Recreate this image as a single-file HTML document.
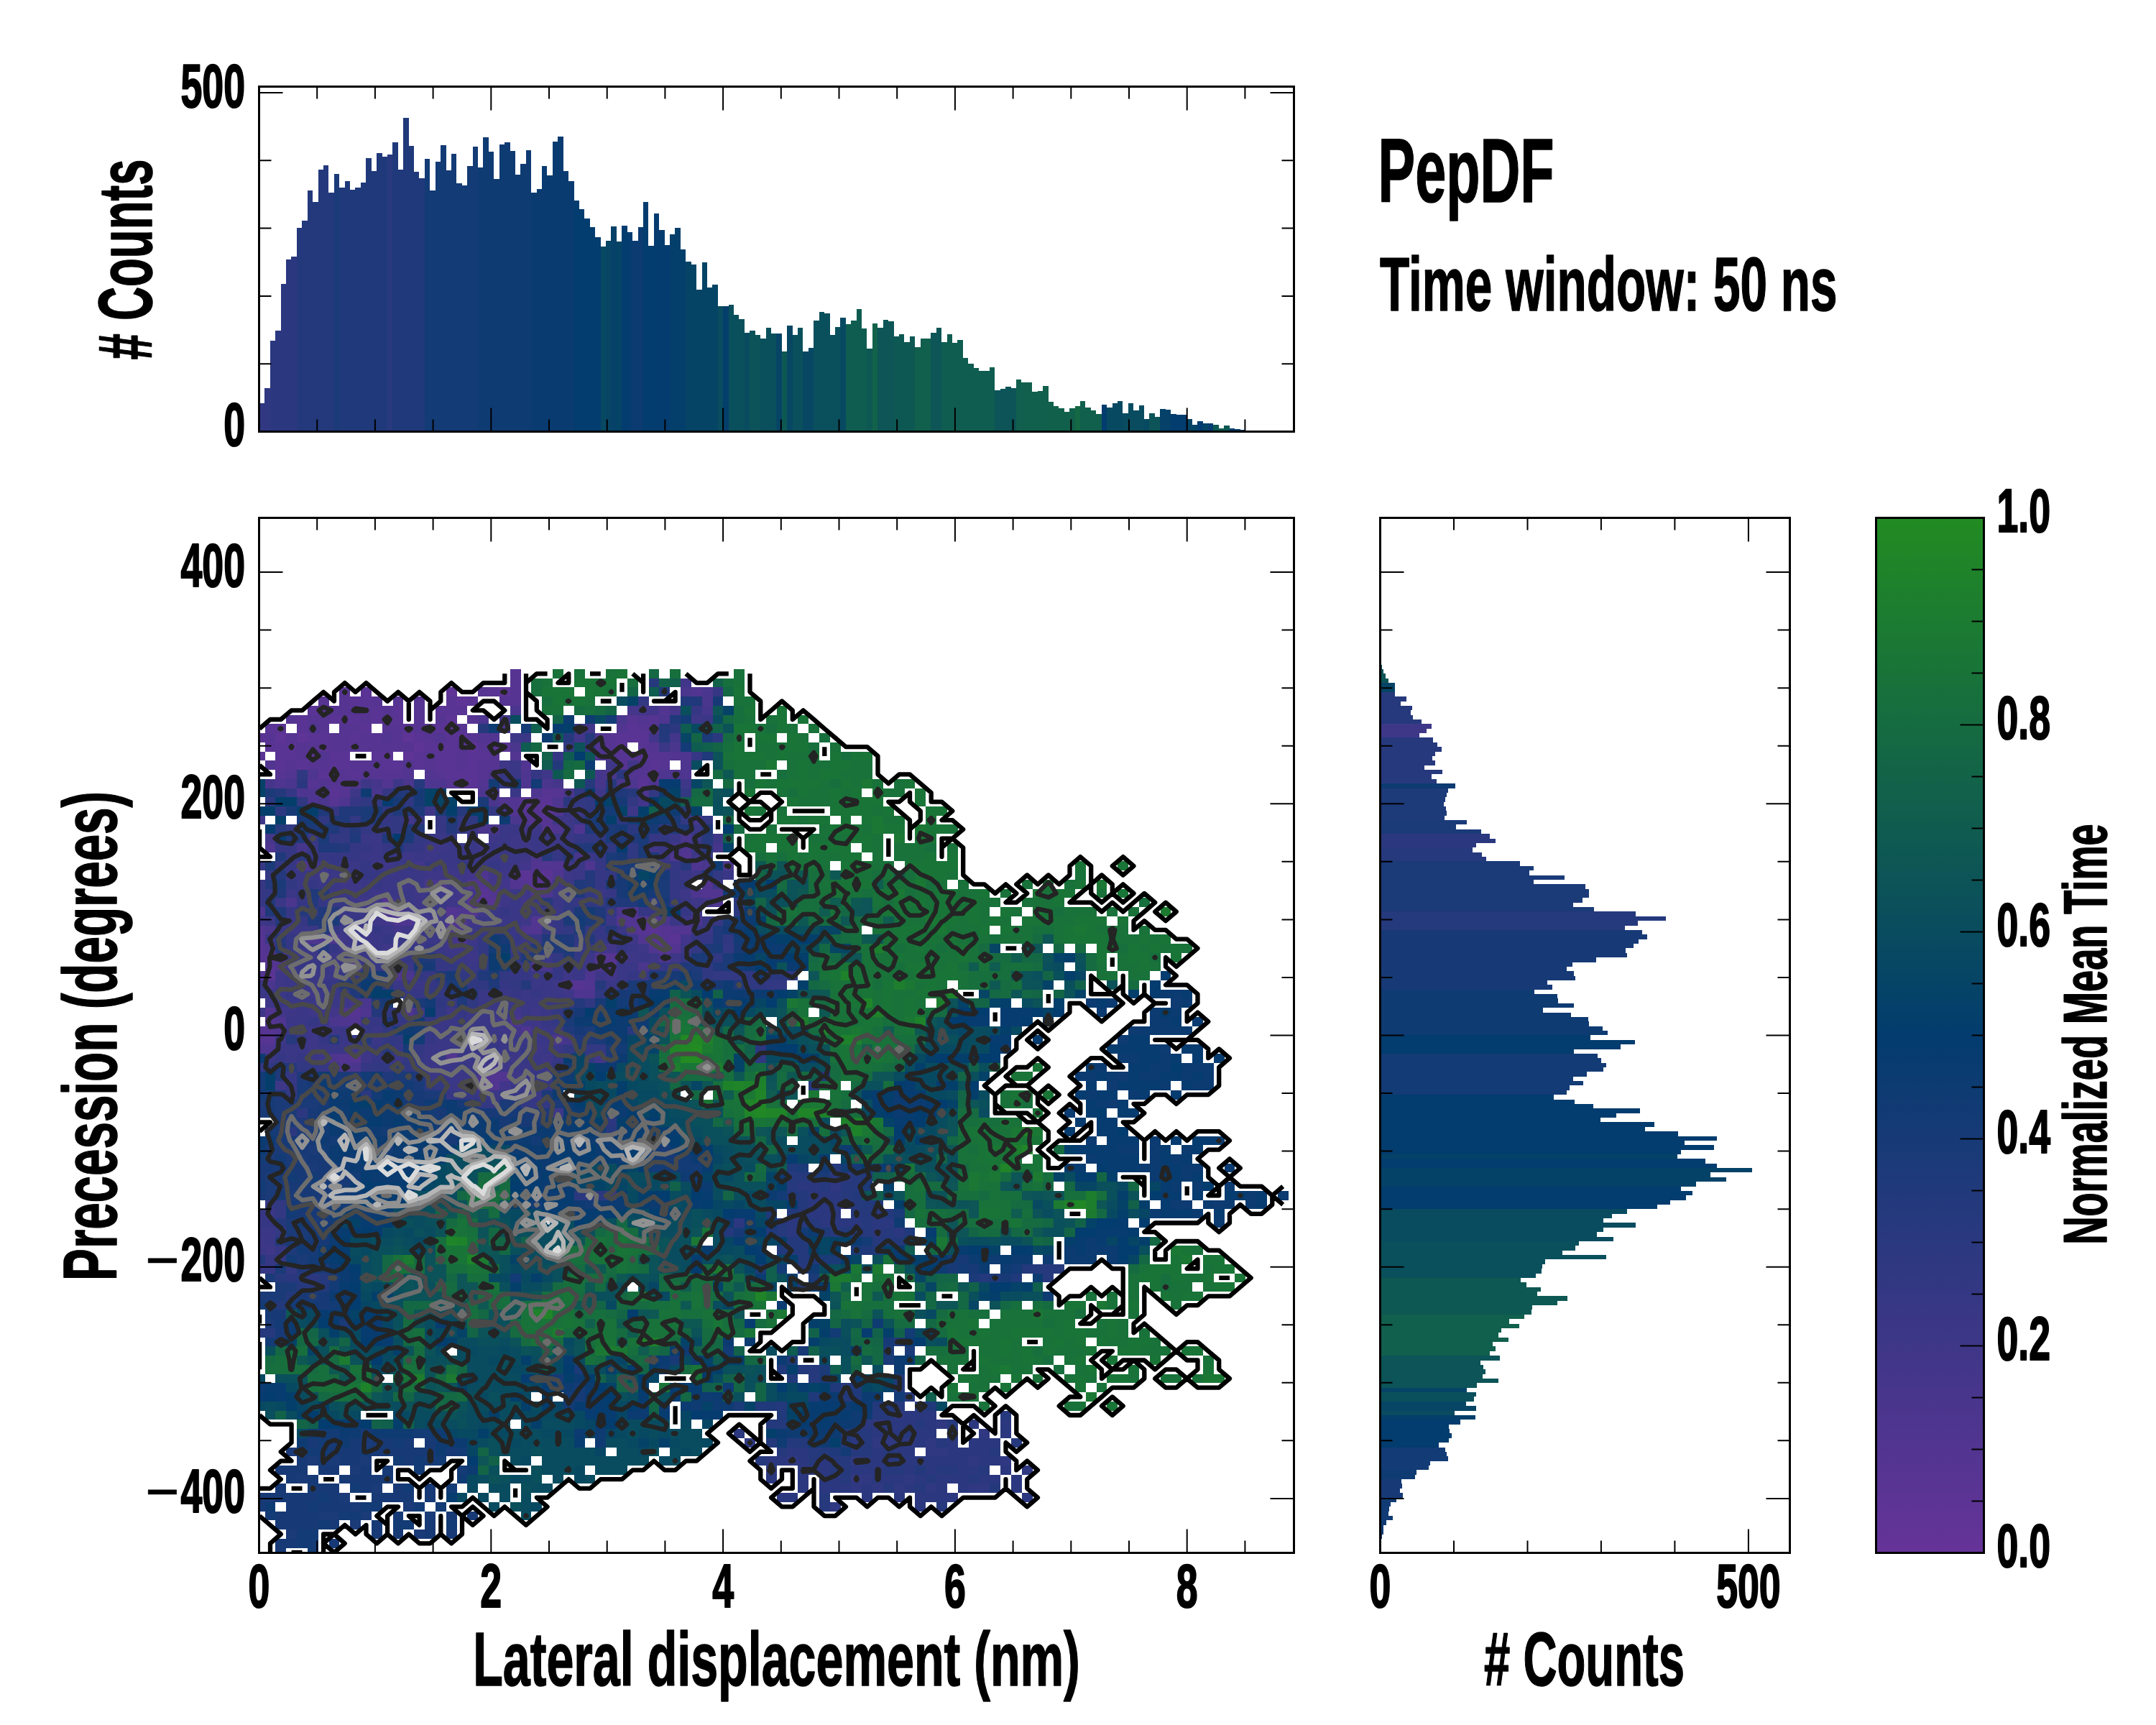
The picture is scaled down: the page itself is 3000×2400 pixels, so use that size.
<!DOCTYPE html>
<html><head><meta charset="utf-8"><title>PepDF</title>
<style>html,body{margin:0;padding:0;background:#fff}svg{display:block}text{fill:#000}</style></head><body>
<svg xmlns="http://www.w3.org/2000/svg" width="3000" height="2400" viewBox="0 0 3000 2400" font-family="Liberation Sans, Arial, sans-serif" font-weight="bold">
<rect width="3000" height="2400" fill="#fff"/>
<defs><linearGradient id="cb" x1="0" y1="1" x2="0" y2="0"><stop offset="0" stop-color="#663399"/><stop offset="0.5" stop-color="#033c6e"/><stop offset="1" stop-color="#228b22"/></linearGradient></defs>
<rect x="2610.5" y="720.5" width="150.0" height="1440.0" fill="url(#cb)"/>
<g shape-rendering="crispEdges">
<rect x="361" y="561" width="7" height="40" fill="#313882"/>
<rect x="368" y="540" width="8" height="61" fill="#313882"/>
<rect x="376" y="474" width="7" height="127" fill="#2b387f"/>
<rect x="383" y="460" width="8" height="141" fill="#2b387f"/>
<rect x="391" y="395" width="7" height="206" fill="#2b387f"/>
<rect x="398" y="361" width="7" height="240" fill="#2b387f"/>
<rect x="405" y="357" width="8" height="244" fill="#2b387f"/>
<rect x="413" y="317" width="7" height="284" fill="#23397c"/>
<rect x="420" y="307" width="8" height="294" fill="#23397c"/>
<rect x="428" y="265" width="7" height="336" fill="#23397c"/>
<rect x="435" y="281" width="8" height="320" fill="#23397c"/>
<rect x="443" y="236" width="7" height="365" fill="#23397c"/>
<rect x="450" y="230" width="7" height="371" fill="#23397c"/>
<rect x="457" y="268" width="8" height="333" fill="#23397c"/>
<rect x="465" y="242" width="7" height="359" fill="#1b3a78"/>
<rect x="472" y="261" width="8" height="340" fill="#1f397a"/>
<rect x="480" y="252" width="7" height="349" fill="#1f397a"/>
<rect x="487" y="264" width="7" height="337" fill="#1f397a"/>
<rect x="494" y="261" width="8" height="340" fill="#1f397a"/>
<rect x="502" y="254" width="7" height="347" fill="#1f397a"/>
<rect x="509" y="220" width="8" height="381" fill="#1f397a"/>
<rect x="517" y="238" width="7" height="363" fill="#1f397a"/>
<rect x="524" y="213" width="8" height="388" fill="#1f397a"/>
<rect x="532" y="218" width="7" height="383" fill="#1f397a"/>
<rect x="539" y="215" width="7" height="386" fill="#29397e"/>
<rect x="546" y="198" width="8" height="403" fill="#1f397a"/>
<rect x="554" y="236" width="7" height="365" fill="#1f397a"/>
<rect x="561" y="164" width="8" height="437" fill="#1f397a"/>
<rect x="569" y="203" width="7" height="398" fill="#1f397a"/>
<rect x="576" y="239" width="7" height="362" fill="#1f397a"/>
<rect x="583" y="248" width="8" height="353" fill="#1f397a"/>
<rect x="591" y="221" width="7" height="380" fill="#133b75"/>
<rect x="598" y="265" width="8" height="336" fill="#133b75"/>
<rect x="606" y="225" width="7" height="376" fill="#133b75"/>
<rect x="613" y="202" width="8" height="399" fill="#133b75"/>
<rect x="621" y="237" width="7" height="364" fill="#133b75"/>
<rect x="628" y="214" width="7" height="387" fill="#133b75"/>
<rect x="635" y="255" width="8" height="346" fill="#133b75"/>
<rect x="643" y="258" width="7" height="343" fill="#133b75"/>
<rect x="650" y="231" width="8" height="370" fill="#133b75"/>
<rect x="658" y="204" width="7" height="397" fill="#133b75"/>
<rect x="665" y="233" width="7" height="368" fill="#0f3b73"/>
<rect x="672" y="191" width="8" height="410" fill="#0f3b73"/>
<rect x="680" y="211" width="7" height="390" fill="#0f3b73"/>
<rect x="687" y="249" width="8" height="352" fill="#0f3b73"/>
<rect x="695" y="201" width="7" height="400" fill="#0f3b73"/>
<rect x="702" y="198" width="8" height="403" fill="#0f3b73"/>
<rect x="710" y="210" width="7" height="391" fill="#0f3b73"/>
<rect x="717" y="243" width="7" height="358" fill="#0f3b73"/>
<rect x="724" y="228" width="8" height="373" fill="#0f3b73"/>
<rect x="732" y="209" width="7" height="392" fill="#0f3b73"/>
<rect x="739" y="268" width="8" height="333" fill="#093b71"/>
<rect x="747" y="263" width="7" height="338" fill="#093b71"/>
<rect x="754" y="231" width="7" height="370" fill="#093b71"/>
<rect x="761" y="244" width="8" height="357" fill="#093b71"/>
<rect x="769" y="197" width="7" height="404" fill="#093b71"/>
<rect x="776" y="190" width="8" height="411" fill="#093b71"/>
<rect x="784" y="238" width="7" height="363" fill="#093b71"/>
<rect x="791" y="252" width="8" height="349" fill="#093b71"/>
<rect x="799" y="279" width="7" height="322" fill="#033c6e"/>
<rect x="806" y="291" width="7" height="310" fill="#033c6e"/>
<rect x="813" y="304" width="8" height="297" fill="#033c6e"/>
<rect x="821" y="316" width="7" height="285" fill="#033c6e"/>
<rect x="828" y="330" width="8" height="271" fill="#033c6e"/>
<rect x="836" y="343" width="7" height="258" fill="#084962"/>
<rect x="843" y="335" width="7" height="266" fill="#074565"/>
<rect x="850" y="315" width="8" height="286" fill="#054169"/>
<rect x="858" y="336" width="7" height="265" fill="#064466"/>
<rect x="865" y="314" width="8" height="287" fill="#033c6e"/>
<rect x="873" y="323" width="7" height="278" fill="#073c70"/>
<rect x="880" y="335" width="8" height="266" fill="#0b3b71"/>
<rect x="888" y="316" width="7" height="285" fill="#0b3b71"/>
<rect x="895" y="281" width="7" height="320" fill="#033c6e"/>
<rect x="902" y="342" width="8" height="259" fill="#033c6e"/>
<rect x="910" y="297" width="7" height="304" fill="#053c6f"/>
<rect x="917" y="320" width="8" height="281" fill="#053c6f"/>
<rect x="925" y="341" width="7" height="260" fill="#053c6f"/>
<rect x="932" y="326" width="7" height="275" fill="#043f6b"/>
<rect x="939" y="317" width="8" height="284" fill="#043f6b"/>
<rect x="947" y="347" width="7" height="254" fill="#043f6b"/>
<rect x="954" y="364" width="8" height="237" fill="#064466"/>
<rect x="962" y="368" width="7" height="233" fill="#064466"/>
<rect x="969" y="403" width="8" height="198" fill="#064466"/>
<rect x="977" y="365" width="7" height="236" fill="#064466"/>
<rect x="984" y="400" width="7" height="201" fill="#064466"/>
<rect x="991" y="396" width="8" height="205" fill="#064466"/>
<rect x="999" y="426" width="7" height="175" fill="#094c5f"/>
<rect x="1006" y="426" width="8" height="175" fill="#043f6b"/>
<rect x="1014" y="424" width="7" height="177" fill="#0a4f5c"/>
<rect x="1021" y="438" width="7" height="163" fill="#0a4f5c"/>
<rect x="1028" y="444" width="8" height="157" fill="#0a4f5c"/>
<rect x="1036" y="463" width="7" height="138" fill="#094c5f"/>
<rect x="1043" y="460" width="8" height="141" fill="#0c5259"/>
<rect x="1051" y="466" width="7" height="135" fill="#0c5259"/>
<rect x="1058" y="471" width="8" height="130" fill="#0a4f5c"/>
<rect x="1066" y="456" width="7" height="145" fill="#0a4f5c"/>
<rect x="1073" y="464" width="7" height="137" fill="#0a4f5c"/>
<rect x="1080" y="464" width="8" height="137" fill="#064466"/>
<rect x="1088" y="489" width="7" height="112" fill="#0e5853"/>
<rect x="1095" y="453" width="8" height="148" fill="#074763"/>
<rect x="1103" y="466" width="7" height="135" fill="#0a4f5c"/>
<rect x="1110" y="456" width="7" height="145" fill="#0a4f5c"/>
<rect x="1117" y="489" width="8" height="112" fill="#074763"/>
<rect x="1125" y="484" width="7" height="117" fill="#074763"/>
<rect x="1132" y="446" width="8" height="155" fill="#0a4f5c"/>
<rect x="1140" y="434" width="7" height="167" fill="#0a4f5c"/>
<rect x="1147" y="436" width="8" height="165" fill="#0a4f5c"/>
<rect x="1155" y="466" width="7" height="135" fill="#0a4f5c"/>
<rect x="1162" y="455" width="7" height="146" fill="#0a4f5c"/>
<rect x="1169" y="442" width="8" height="159" fill="#084962"/>
<rect x="1177" y="451" width="7" height="150" fill="#0f5c50"/>
<rect x="1184" y="446" width="8" height="155" fill="#0f5c50"/>
<rect x="1192" y="430" width="7" height="171" fill="#0f5c50"/>
<rect x="1199" y="457" width="7" height="144" fill="#0f5c50"/>
<rect x="1206" y="485" width="8" height="116" fill="#0e5853"/>
<rect x="1214" y="450" width="7" height="151" fill="#12624a"/>
<rect x="1221" y="456" width="8" height="145" fill="#0d5556"/>
<rect x="1229" y="445" width="7" height="156" fill="#0d5556"/>
<rect x="1236" y="447" width="8" height="154" fill="#0d5556"/>
<rect x="1244" y="468" width="7" height="133" fill="#0e5853"/>
<rect x="1251" y="465" width="7" height="136" fill="#0e5853"/>
<rect x="1258" y="476" width="8" height="125" fill="#0e5853"/>
<rect x="1266" y="468" width="7" height="133" fill="#0e5853"/>
<rect x="1273" y="483" width="8" height="118" fill="#115f4d"/>
<rect x="1281" y="471" width="7" height="130" fill="#115f4d"/>
<rect x="1288" y="471" width="7" height="130" fill="#115f4d"/>
<rect x="1295" y="463" width="8" height="138" fill="#0d5556"/>
<rect x="1303" y="456" width="7" height="145" fill="#0d5556"/>
<rect x="1310" y="476" width="8" height="125" fill="#0f5c50"/>
<rect x="1318" y="465" width="7" height="136" fill="#0f5c50"/>
<rect x="1325" y="477" width="7" height="124" fill="#0f5c50"/>
<rect x="1332" y="473" width="8" height="128" fill="#0f5c50"/>
<rect x="1340" y="498" width="7" height="103" fill="#0f5c50"/>
<rect x="1347" y="506" width="8" height="95" fill="#0f5c50"/>
<rect x="1355" y="512" width="7" height="89" fill="#0f5c50"/>
<rect x="1362" y="516" width="8" height="85" fill="#0f5c50"/>
<rect x="1370" y="516" width="7" height="85" fill="#0f5c50"/>
<rect x="1377" y="511" width="7" height="90" fill="#0f5c50"/>
<rect x="1384" y="543" width="8" height="58" fill="#0c5457"/>
<rect x="1392" y="541" width="7" height="60" fill="#0c5457"/>
<rect x="1399" y="538" width="8" height="63" fill="#0c5457"/>
<rect x="1407" y="540" width="7" height="61" fill="#0c5457"/>
<rect x="1414" y="528" width="7" height="73" fill="#115f4d"/>
<rect x="1421" y="532" width="8" height="69" fill="#115f4d"/>
<rect x="1429" y="532" width="7" height="69" fill="#115f4d"/>
<rect x="1436" y="545" width="8" height="56" fill="#115f4d"/>
<rect x="1444" y="544" width="7" height="57" fill="#115f4d"/>
<rect x="1451" y="537" width="8" height="64" fill="#115f4d"/>
<rect x="1459" y="559" width="7" height="42" fill="#11604b"/>
<rect x="1466" y="565" width="7" height="36" fill="#11604b"/>
<rect x="1473" y="568" width="8" height="33" fill="#11604b"/>
<rect x="1481" y="573" width="7" height="28" fill="#11604b"/>
<rect x="1488" y="568" width="8" height="33" fill="#11604b"/>
<rect x="1496" y="565" width="7" height="36" fill="#146843"/>
<rect x="1503" y="558" width="7" height="43" fill="#115f4d"/>
<rect x="1510" y="567" width="8" height="34" fill="#115f4d"/>
<rect x="1518" y="571" width="7" height="30" fill="#115f4d"/>
<rect x="1525" y="576" width="8" height="25" fill="#115f4d"/>
<rect x="1533" y="563" width="7" height="38" fill="#033c6e"/>
<rect x="1540" y="567" width="8" height="34" fill="#084962"/>
<rect x="1548" y="561" width="7" height="40" fill="#084962"/>
<rect x="1555" y="558" width="7" height="43" fill="#084962"/>
<rect x="1562" y="575" width="8" height="26" fill="#094c5f"/>
<rect x="1570" y="561" width="7" height="40" fill="#094c5f"/>
<rect x="1577" y="571" width="8" height="30" fill="#094c5f"/>
<rect x="1585" y="564" width="7" height="37" fill="#094c5f"/>
<rect x="1592" y="583" width="7" height="18" fill="#084962"/>
<rect x="1599" y="575" width="8" height="26" fill="#0c5457"/>
<rect x="1607" y="580" width="7" height="21" fill="#0c5457"/>
<rect x="1614" y="569" width="8" height="32" fill="#054169"/>
<rect x="1622" y="570" width="7" height="31" fill="#054169"/>
<rect x="1629" y="576" width="8" height="25" fill="#033c6e"/>
<rect x="1637" y="577" width="7" height="24" fill="#033c6e"/>
<rect x="1644" y="577" width="7" height="24" fill="#033c6e"/>
<rect x="1651" y="583" width="8" height="18" fill="#064466"/>
<rect x="1659" y="591" width="7" height="10" fill="#064466"/>
<rect x="1666" y="586" width="8" height="15" fill="#033c6e"/>
<rect x="1674" y="589" width="7" height="12" fill="#064466"/>
<rect x="1681" y="589" width="7" height="12" fill="#073c70"/>
<rect x="1688" y="591" width="8" height="10" fill="#0e5853"/>
<rect x="1696" y="596" width="7" height="5" fill="#0f5c50"/>
<rect x="1703" y="592" width="8" height="9" fill="#0e5853"/>
<rect x="1711" y="596" width="7" height="5" fill="#033c6e"/>
<rect x="1718" y="597" width="8" height="4" fill="#033c6e"/>
<rect x="1726" y="598" width="7" height="3" fill="#033c6e"/>
</g>
<g shape-rendering="crispEdges">
<rect x="1921" y="925" width="2" height="6" fill="#0c5457"/>
<rect x="1921" y="931" width="4" height="6" fill="#0c5457"/>
<rect x="1921" y="937" width="7" height="7" fill="#0c5457"/>
<rect x="1921" y="944" width="11" height="6" fill="#0c5457"/>
<rect x="1921" y="950" width="20" height="6" fill="#064466"/>
<rect x="1921" y="956" width="20" height="7" fill="#064466"/>
<rect x="1921" y="963" width="20" height="6" fill="#27397d"/>
<rect x="1921" y="969" width="36" height="7" fill="#27397d"/>
<rect x="1921" y="976" width="28" height="6" fill="#27397d"/>
<rect x="1921" y="982" width="44" height="6" fill="#27397d"/>
<rect x="1921" y="988" width="42" height="7" fill="#27397d"/>
<rect x="1921" y="995" width="45" height="6" fill="#27397d"/>
<rect x="1921" y="1001" width="57" height="6" fill="#27397d"/>
<rect x="1921" y="1007" width="71" height="7" fill="#3e3788"/>
<rect x="1921" y="1014" width="64" height="6" fill="#3e3788"/>
<rect x="1921" y="1020" width="54" height="6" fill="#3e3788"/>
<rect x="1921" y="1026" width="73" height="7" fill="#27397d"/>
<rect x="1921" y="1033" width="79" height="6" fill="#27397d"/>
<rect x="1921" y="1039" width="85" height="7" fill="#27397d"/>
<rect x="1921" y="1046" width="76" height="6" fill="#27397d"/>
<rect x="1921" y="1052" width="72" height="6" fill="#27397d"/>
<rect x="1921" y="1058" width="76" height="7" fill="#27397d"/>
<rect x="1921" y="1065" width="61" height="6" fill="#27397d"/>
<rect x="1921" y="1071" width="86" height="6" fill="#27397d"/>
<rect x="1921" y="1077" width="71" height="7" fill="#27397d"/>
<rect x="1921" y="1084" width="78" height="6" fill="#27397d"/>
<rect x="1921" y="1090" width="104" height="7" fill="#0d3b72"/>
<rect x="1921" y="1097" width="94" height="6" fill="#1d3a79"/>
<rect x="1921" y="1103" width="92" height="6" fill="#1d3a79"/>
<rect x="1921" y="1109" width="90" height="7" fill="#1d3a79"/>
<rect x="1921" y="1116" width="88" height="6" fill="#1d3a79"/>
<rect x="1921" y="1122" width="91" height="6" fill="#1d3a79"/>
<rect x="1921" y="1128" width="92" height="7" fill="#1d3a79"/>
<rect x="1921" y="1135" width="89" height="6" fill="#1d3a79"/>
<rect x="1921" y="1141" width="120" height="6" fill="#1b3a78"/>
<rect x="1921" y="1147" width="105" height="7" fill="#1b3a78"/>
<rect x="1921" y="1154" width="140" height="6" fill="#1b3a78"/>
<rect x="1921" y="1160" width="152" height="7" fill="#2b387f"/>
<rect x="1921" y="1167" width="160" height="6" fill="#2b387f"/>
<rect x="1921" y="1173" width="133" height="6" fill="#2b387f"/>
<rect x="1921" y="1179" width="128" height="7" fill="#27397d"/>
<rect x="1921" y="1186" width="141" height="6" fill="#27397d"/>
<rect x="1921" y="1192" width="147" height="6" fill="#27397d"/>
<rect x="1921" y="1198" width="194" height="7" fill="#1b3a78"/>
<rect x="1921" y="1205" width="213" height="6" fill="#1b3a78"/>
<rect x="1921" y="1211" width="207" height="7" fill="#1b3a78"/>
<rect x="1921" y="1218" width="256" height="6" fill="#1b3a78"/>
<rect x="1921" y="1224" width="213" height="6" fill="#1b3a78"/>
<rect x="1921" y="1230" width="285" height="7" fill="#1b3a78"/>
<rect x="1921" y="1237" width="290" height="6" fill="#1b3a78"/>
<rect x="1921" y="1243" width="290" height="6" fill="#1b3a78"/>
<rect x="1921" y="1249" width="281" height="7" fill="#1b3a78"/>
<rect x="1921" y="1256" width="268" height="6" fill="#1b3a78"/>
<rect x="1921" y="1262" width="297" height="6" fill="#1b3a78"/>
<rect x="1921" y="1268" width="355" height="7" fill="#25397d"/>
<rect x="1921" y="1275" width="397" height="6" fill="#25397d"/>
<rect x="1921" y="1281" width="358" height="7" fill="#25397d"/>
<rect x="1921" y="1288" width="340" height="6" fill="#25397d"/>
<rect x="1921" y="1294" width="364" height="6" fill="#173a77"/>
<rect x="1921" y="1300" width="371" height="7" fill="#173a77"/>
<rect x="1921" y="1307" width="359" height="6" fill="#173a77"/>
<rect x="1921" y="1313" width="352" height="6" fill="#173a77"/>
<rect x="1921" y="1319" width="341" height="7" fill="#173a77"/>
<rect x="1921" y="1326" width="343" height="6" fill="#173a77"/>
<rect x="1921" y="1332" width="300" height="7" fill="#173a77"/>
<rect x="1921" y="1339" width="267" height="6" fill="#173a77"/>
<rect x="1921" y="1345" width="259" height="6" fill="#173a77"/>
<rect x="1921" y="1351" width="269" height="7" fill="#173a77"/>
<rect x="1921" y="1358" width="271" height="6" fill="#173a77"/>
<rect x="1921" y="1364" width="232" height="6" fill="#173a77"/>
<rect x="1921" y="1370" width="239" height="7" fill="#173a77"/>
<rect x="1921" y="1377" width="214" height="6" fill="#0f3b73"/>
<rect x="1921" y="1383" width="246" height="6" fill="#0f3b73"/>
<rect x="1921" y="1389" width="247" height="7" fill="#0f3b73"/>
<rect x="1921" y="1396" width="269" height="6" fill="#0f3b73"/>
<rect x="1921" y="1402" width="226" height="7" fill="#0f3b73"/>
<rect x="1921" y="1409" width="265" height="6" fill="#0f3b73"/>
<rect x="1921" y="1415" width="289" height="6" fill="#0f3b73"/>
<rect x="1921" y="1421" width="290" height="7" fill="#0f3b73"/>
<rect x="1921" y="1428" width="309" height="6" fill="#0f3b73"/>
<rect x="1921" y="1434" width="316" height="6" fill="#0f3b73"/>
<rect x="1921" y="1440" width="292" height="7" fill="#033c6e"/>
<rect x="1921" y="1447" width="354" height="6" fill="#033c6e"/>
<rect x="1921" y="1453" width="334" height="7" fill="#033c6e"/>
<rect x="1921" y="1460" width="269" height="6" fill="#033c6e"/>
<rect x="1921" y="1466" width="302" height="6" fill="#133b75"/>
<rect x="1921" y="1472" width="307" height="7" fill="#133b75"/>
<rect x="1921" y="1479" width="314" height="6" fill="#133b75"/>
<rect x="1921" y="1485" width="310" height="6" fill="#133b75"/>
<rect x="1921" y="1491" width="287" height="7" fill="#133b75"/>
<rect x="1921" y="1498" width="268" height="6" fill="#133b75"/>
<rect x="1921" y="1504" width="282" height="6" fill="#133b75"/>
<rect x="1921" y="1510" width="263" height="7" fill="#133b75"/>
<rect x="1921" y="1517" width="259" height="6" fill="#133b75"/>
<rect x="1921" y="1523" width="241" height="7" fill="#033c6e"/>
<rect x="1921" y="1530" width="270" height="6" fill="#033c6e"/>
<rect x="1921" y="1536" width="296" height="6" fill="#033c6e"/>
<rect x="1921" y="1542" width="361" height="7" fill="#033c6e"/>
<rect x="1921" y="1549" width="328" height="6" fill="#033c6e"/>
<rect x="1921" y="1555" width="306" height="6" fill="#033c6e"/>
<rect x="1921" y="1561" width="381" height="7" fill="#033c6e"/>
<rect x="1921" y="1568" width="368" height="6" fill="#033c6e"/>
<rect x="1921" y="1574" width="414" height="7" fill="#033c6e"/>
<rect x="1921" y="1581" width="468" height="6" fill="#033c6e"/>
<rect x="1921" y="1587" width="423" height="6" fill="#033c6e"/>
<rect x="1921" y="1593" width="464" height="7" fill="#033c6e"/>
<rect x="1921" y="1600" width="418" height="6" fill="#033c6e"/>
<rect x="1921" y="1606" width="413" height="6" fill="#054268"/>
<rect x="1921" y="1612" width="452" height="7" fill="#033c6e"/>
<rect x="1921" y="1619" width="468" height="6" fill="#033c6e"/>
<rect x="1921" y="1625" width="517" height="6" fill="#054268"/>
<rect x="1921" y="1631" width="459" height="7" fill="#054268"/>
<rect x="1921" y="1638" width="481" height="6" fill="#054268"/>
<rect x="1921" y="1644" width="439" height="7" fill="#054268"/>
<rect x="1921" y="1651" width="418" height="6" fill="#033c6e"/>
<rect x="1921" y="1657" width="434" height="6" fill="#033c6e"/>
<rect x="1921" y="1663" width="425" height="7" fill="#033c6e"/>
<rect x="1921" y="1670" width="403" height="6" fill="#033c6e"/>
<rect x="1921" y="1676" width="385" height="6" fill="#033c6e"/>
<rect x="1921" y="1682" width="343" height="7" fill="#094c5f"/>
<rect x="1921" y="1689" width="322" height="6" fill="#094c5f"/>
<rect x="1921" y="1695" width="310" height="6" fill="#094c5f"/>
<rect x="1921" y="1701" width="355" height="7" fill="#094c5f"/>
<rect x="1921" y="1708" width="310" height="6" fill="#094c5f"/>
<rect x="1921" y="1714" width="301" height="7" fill="#094c5f"/>
<rect x="1921" y="1721" width="324" height="6" fill="#094c5f"/>
<rect x="1921" y="1727" width="276" height="6" fill="#0a4f5c"/>
<rect x="1921" y="1733" width="271" height="7" fill="#0a4f5c"/>
<rect x="1921" y="1740" width="253" height="6" fill="#0a4f5c"/>
<rect x="1921" y="1746" width="314" height="6" fill="#0a4f5c"/>
<rect x="1921" y="1752" width="229" height="7" fill="#0a4f5c"/>
<rect x="1921" y="1759" width="225" height="6" fill="#0a4f5c"/>
<rect x="1921" y="1765" width="224" height="7" fill="#0a4f5c"/>
<rect x="1921" y="1772" width="216" height="6" fill="#0a4f5c"/>
<rect x="1921" y="1778" width="195" height="6" fill="#0e5853"/>
<rect x="1921" y="1784" width="203" height="7" fill="#0e5853"/>
<rect x="1921" y="1791" width="223" height="6" fill="#0e5853"/>
<rect x="1921" y="1797" width="218" height="6" fill="#0e5853"/>
<rect x="1921" y="1803" width="260" height="7" fill="#0e5853"/>
<rect x="1921" y="1810" width="246" height="6" fill="#0e5853"/>
<rect x="1921" y="1816" width="211" height="6" fill="#0e5853"/>
<rect x="1921" y="1822" width="210" height="7" fill="#0e5853"/>
<rect x="1921" y="1829" width="200" height="6" fill="#115f4d"/>
<rect x="1921" y="1835" width="179" height="7" fill="#115f4d"/>
<rect x="1921" y="1842" width="193" height="6" fill="#115f4d"/>
<rect x="1921" y="1848" width="168" height="6" fill="#115f4d"/>
<rect x="1921" y="1854" width="164" height="7" fill="#115f4d"/>
<rect x="1921" y="1861" width="178" height="6" fill="#115f4d"/>
<rect x="1921" y="1867" width="156" height="6" fill="#115f4d"/>
<rect x="1921" y="1873" width="160" height="7" fill="#115f4d"/>
<rect x="1921" y="1880" width="152" height="6" fill="#115f4d"/>
<rect x="1921" y="1886" width="166" height="7" fill="#0c5457"/>
<rect x="1921" y="1893" width="139" height="6" fill="#0c5457"/>
<rect x="1921" y="1899" width="143" height="6" fill="#0c5457"/>
<rect x="1921" y="1905" width="146" height="7" fill="#0c5457"/>
<rect x="1921" y="1912" width="142" height="6" fill="#0c5457"/>
<rect x="1921" y="1918" width="164" height="6" fill="#0c5457"/>
<rect x="1921" y="1924" width="134" height="7" fill="#0c5457"/>
<rect x="1921" y="1931" width="120" height="6" fill="#064466"/>
<rect x="1921" y="1937" width="133" height="6" fill="#0a4f5c"/>
<rect x="1921" y="1943" width="130" height="7" fill="#0a4f5c"/>
<rect x="1921" y="1950" width="119" height="6" fill="#074565"/>
<rect x="1921" y="1956" width="133" height="7" fill="#074565"/>
<rect x="1921" y="1963" width="103" height="6" fill="#094c5f"/>
<rect x="1921" y="1969" width="132" height="6" fill="#043f6b"/>
<rect x="1921" y="1975" width="111" height="7" fill="#033c6e"/>
<rect x="1921" y="1982" width="95" height="6" fill="#033c6e"/>
<rect x="1921" y="1988" width="96" height="6" fill="#033c6e"/>
<rect x="1921" y="1994" width="99" height="7" fill="#033c6e"/>
<rect x="1921" y="2001" width="95" height="6" fill="#033c6e"/>
<rect x="1921" y="2007" width="81" height="7" fill="#033c6e"/>
<rect x="1921" y="2014" width="90" height="6" fill="#133b75"/>
<rect x="1921" y="2020" width="92" height="6" fill="#133b75"/>
<rect x="1921" y="2026" width="94" height="7" fill="#133b75"/>
<rect x="1921" y="2033" width="69" height="6" fill="#133b75"/>
<rect x="1921" y="2039" width="67" height="6" fill="#133b75"/>
<rect x="1921" y="2045" width="50" height="7" fill="#0d3b72"/>
<rect x="1921" y="2052" width="48" height="6" fill="#0d3b72"/>
<rect x="1921" y="2058" width="29" height="6" fill="#173a77"/>
<rect x="1921" y="2064" width="30" height="7" fill="#173a77"/>
<rect x="1921" y="2071" width="27" height="6" fill="#173a77"/>
<rect x="1921" y="2077" width="31" height="7" fill="#173a77"/>
<rect x="1921" y="2084" width="22" height="6" fill="#113b74"/>
<rect x="1921" y="2090" width="14" height="6" fill="#113b74"/>
<rect x="1921" y="2096" width="12" height="7" fill="#113b74"/>
<rect x="1921" y="2103" width="11" height="6" fill="#113b74"/>
<rect x="1921" y="2109" width="17" height="6" fill="#113b74"/>
<rect x="1921" y="2115" width="8" height="7" fill="#113b74"/>
<rect x="1921" y="2122" width="4" height="6" fill="#113b74"/>
<rect x="1921" y="2128" width="4" height="7" fill="#113b74"/>
<rect x="1921" y="2135" width="2" height="6" fill="#113b74"/>
</g>
<defs><clipPath id="axclip"><rect x="360.5" y="720.5" width="1440" height="1440"/></clipPath></defs>
<g shape-rendering="crispEdges">
<path fill="#563492" d="M710 931h15v13h-15zM710 944h15v12h-15zM472 956h15v13h-15zM665 956h15v13h-15zM710 956h15v13h-15zM443 969h15v13h-15zM472 969h15v13h-15zM517 969h15v13h-15zM547 969h14v13h-14zM576 969h15v13h-15zM695 969h30v13h-30zM443 982h74v13h-74zM532 982h15v13h-15zM576 982h15v13h-15zM398 995h15v12h-15zM428 995h30v12h-30zM502 995h15v12h-15zM532 995h15v12h-15zM576 995h15v12h-15zM606 995h15v12h-15zM650 995h15v12h-15zM873 995h15v12h-15zM903 995h14v12h-14zM443 1007h15v13h-15zM472 1007h30v13h-30zM532 1007h29v13h-29zM576 1007h30v13h-30zM636 1007h14v13h-14zM888 1007h15v13h-15zM369 1020h14v13h-14zM398 1020h15v13h-15zM458 1020h29v13h-29zM502 1020h30v13h-30zM547 1020h14v13h-14zM591 1020h15v13h-15zM650 1020h15v13h-15zM843 1020h15v13h-15zM413 1033h30v13h-30zM458 1033h118v13h-118zM636 1033h14v13h-14zM665 1033h15v13h-15zM843 1033h15v13h-15zM888 1033h15v13h-15zM413 1046h15v12h-15zM591 1046h15v12h-15zM636 1046h14v12h-14zM680 1046h15v12h-15zM858 1046h74v12h-74zM398 1058h15v13h-15zM428 1058h30v13h-30zM487 1058h45v13h-45zM591 1058h15v13h-15zM636 1058h14v13h-14zM665 1058h30v13h-30zM858 1058h15v13h-15zM917 1058h15v13h-15zM383 1071h15v13h-15zM472 1071h15v13h-15zM502 1071h59v13h-59zM606 1071h15v13h-15zM665 1071h15v13h-15zM888 1071h15v13h-15zM428 1084h15v13h-15zM458 1084h29v13h-29zM621 1084h29v13h-29zM472 1097h15v12h-15zM754 1097h30v12h-30zM458 1109h14v13h-14zM739 1109h15v13h-15zM725 1122h29v13h-29zM739 1135h30v12h-30zM754 1147h15v13h-15zM739 1211h15v13h-15zM725 1224h14v13h-14zM754 1224h15v13h-15zM650 1249h45v13h-45zM888 1275h15v13h-15zM888 1288h15v12h-15zM917 1288h15v12h-15zM360 1300h9v13h-9zM903 1300h29v13h-29zM360 1313h9v13h-9zM360 1326h23v13h-23zM843 1326h15v13h-15zM369 1339h14v12h-14zM799 1364h15v13h-15zM487 1402h15v13h-15zM369 1415h14v13h-14zM360 1428h23v12h-23zM360 1440h23v13h-23zM487 1466h15v13h-15z"/>
<path fill="#18723a" d="M769 931h15v13h-15zM799 931h15v13h-15zM843 931h15v13h-15zM1021 931h15v13h-15zM754 944h15v12h-15zM828 944h15v12h-15zM1021 944h15v12h-15zM843 956h15v13h-15zM784 969h15v13h-15zM814 969h14v13h-14zM1021 969h30v13h-30zM754 982h30v13h-30zM1036 995h15v12h-15zM1066 995h15v12h-15zM1051 1007h15v13h-15zM1095 1007h15v13h-15zM1125 1007h15v13h-15zM1021 1020h15v13h-15zM1110 1020h15v13h-15zM1051 1033h44v13h-44zM1155 1033h15v13h-15zM1006 1046h15v12h-15zM1066 1046h15v12h-15zM1095 1046h30v12h-30zM1021 1058h45v13h-45zM1095 1058h15v13h-15zM1125 1058h30v13h-30zM1184 1058h30v13h-30zM1021 1071h30v13h-30zM1095 1071h15v13h-15zM1125 1071h15v13h-15zM1170 1071h44v13h-44zM1066 1084h15v13h-15zM1140 1084h15v13h-15zM1184 1084h15v13h-15zM1214 1084h15v13h-15zM1244 1084h15v13h-15zM1081 1097h14v12h-14zM1125 1097h30v12h-30zM1170 1097h14v12h-14zM1229 1097h30v12h-30zM1110 1109h45v13h-45zM1051 1122h15v13h-15zM1081 1122h14v13h-14zM1214 1122h15v13h-15zM1110 1135h15v12h-15zM1229 1135h30v12h-30zM1066 1147h15v13h-15zM1140 1147h15v13h-15zM1199 1147h15v13h-15zM1318 1147h15v13h-15zM1036 1160h15v13h-15zM1125 1160h59v13h-59zM1214 1160h15v13h-15zM1214 1173h15v13h-15zM1244 1173h44v13h-44zM1318 1173h15v13h-15zM1066 1186h15v12h-15zM1110 1186h15v12h-15zM1140 1186h30v12h-30zM1214 1186h15v12h-15zM1244 1186h44v12h-44zM1095 1198h60v13h-60zM1214 1198h30v13h-30zM1170 1211h44v13h-44zM1229 1211h15v13h-15zM1318 1211h15v13h-15zM1496 1211h15v13h-15zM1140 1224h30v13h-30zM1244 1224h29v13h-29zM1303 1224h15v13h-15zM1333 1224h15v13h-15zM1422 1224h15v13h-15zM1481 1224h15v13h-15zM1140 1237h15v12h-15zM1170 1237h29v12h-29zM1214 1237h15v12h-15zM1273 1237h30v12h-30zM1333 1237h29v12h-29zM1392 1237h15v12h-15zM1451 1237h15v12h-15zM1526 1237h14v12h-14zM1214 1249h15v13h-15zM1288 1249h15v13h-15zM1333 1249h15v13h-15zM1362 1249h30v13h-30zM1422 1249h44v13h-44zM1095 1262h15v13h-15zM1155 1262h15v13h-15zM1259 1262h14v13h-14zM1288 1262h15v13h-15zM1318 1262h15v13h-15zM1362 1262h15v13h-15zM1407 1262h15v13h-15zM1451 1262h15v13h-15zM1481 1262h45v13h-45zM1540 1262h15v13h-15zM1570 1262h15v13h-15zM1259 1275h29v13h-29zM1333 1275h15v13h-15zM1362 1275h15v13h-15zM1392 1275h15v13h-15zM1451 1275h45v13h-45zM1214 1288h30v12h-30zM1288 1288h15v12h-15zM1318 1288h44v12h-44zM1407 1288h30v12h-30zM1466 1288h15v12h-15zM1526 1288h44v12h-44zM1585 1288h15v12h-15zM1229 1300h15v13h-15zM1259 1300h29v13h-29zM1303 1300h15v13h-15zM1333 1300h15v13h-15zM1362 1300h15v13h-15zM1392 1300h45v13h-45zM1466 1300h15v13h-15zM1540 1300h45v13h-45zM1600 1300h15v13h-15zM1199 1313h15v13h-15zM1259 1313h14v13h-14zM1288 1313h15v13h-15zM1318 1313h15v13h-15zM1348 1313h14v13h-14zM1585 1313h15v13h-15zM1615 1313h14v13h-14zM1644 1313h15v13h-15zM1199 1326h45v13h-45zM1259 1326h74v13h-74zM1348 1326h29v13h-29zM1555 1326h15v13h-15zM1155 1339h15v12h-15zM1184 1339h60v12h-60zM1303 1339h15v12h-15zM1362 1339h15v12h-15zM1526 1339h14v12h-14zM1555 1339h30v12h-30zM1600 1339h15v12h-15zM1140 1351h15v13h-15zM1199 1351h45v13h-45zM1259 1351h14v13h-14zM1288 1351h15v13h-15zM1333 1351h15v13h-15zM1526 1351h29v13h-29zM1570 1351h30v13h-30zM1155 1364h44v13h-44zM1273 1364h15v13h-15zM1303 1364h15v13h-15zM1333 1364h15v13h-15zM1155 1377h15v12h-15zM1184 1377h15v12h-15zM1214 1377h15v12h-15zM1244 1377h29v12h-29zM1303 1377h15v12h-15zM1110 1389h15v13h-15zM1214 1389h15v13h-15zM1244 1389h15v13h-15zM1273 1389h15v13h-15zM1110 1402h15v13h-15zM1155 1402h44v13h-44zM1244 1402h15v13h-15zM932 1415h30v13h-30zM1140 1415h15v13h-15zM1170 1415h29v13h-29zM1244 1415h15v13h-15zM932 1428h15v12h-15zM962 1428h15v12h-15zM1244 1428h15v12h-15zM932 1440h15v13h-15zM1051 1440h15v13h-15zM1199 1440h45v13h-45zM1155 1453h15v13h-15zM1184 1453h15v13h-15zM1214 1453h45v13h-45zM977 1466h15v13h-15zM1155 1466h15v13h-15zM1229 1466h15v13h-15zM977 1479h15v12h-15zM1184 1479h30v12h-30zM1170 1491h29v13h-29zM1155 1504h15v13h-15zM992 1517h14v13h-14zM1155 1517h15v13h-15zM1392 1517h15v13h-15zM1006 1530h30v12h-30zM1066 1530h15v12h-15zM1155 1530h15v12h-15zM1392 1530h15v12h-15zM1021 1542h15v13h-15zM1066 1555h44v13h-44zM1125 1555h15v13h-15zM1362 1555h15v13h-15zM1407 1555h15v13h-15zM1214 1568h15v13h-15zM1333 1568h15v13h-15zM1362 1568h45v13h-45zM1199 1581h15v12h-15zM1348 1581h14v12h-14zM1377 1581h15v12h-15zM1333 1593h15v13h-15zM1333 1606h29v13h-29zM1348 1619h29v12h-29zM1407 1619h30v12h-30zM1273 1644h15v13h-15zM1333 1644h15v13h-15zM1362 1644h30v13h-30zM1437 1644h14v13h-14zM665 1657h15v13h-15zM1377 1657h15v13h-15zM665 1670h15v12h-15zM1362 1670h45v12h-45zM1273 1682h15v13h-15zM1392 1682h15v13h-15zM636 1695h14v13h-14zM1392 1695h15v13h-15zM636 1708h14v13h-14zM858 1708h15v13h-15zM650 1721h15v12h-15zM828 1721h15v12h-15zM814 1733h14v13h-14zM873 1733h15v13h-15zM1659 1733h15v13h-15zM547 1746h14v13h-14zM621 1746h15v13h-15zM814 1746h59v13h-59zM1229 1746h15v13h-15zM547 1759h29v13h-29zM665 1759h15v13h-15zM858 1759h15v13h-15zM1585 1759h15v13h-15zM1674 1759h15v13h-15zM799 1772h15v12h-15zM1184 1772h15v12h-15zM1570 1772h15v12h-15zM1644 1772h30v12h-30zM680 1784h15v13h-15zM1199 1784h15v13h-15zM1229 1784h15v13h-15zM1570 1784h15v13h-15zM1629 1784h30v13h-30zM1674 1784h15v13h-15zM962 1797h15v13h-15zM1036 1797h15v13h-15zM1199 1797h15v13h-15zM1259 1797h14v13h-14zM1511 1797h15v13h-15zM1540 1797h15v13h-15zM1570 1797h15v13h-15zM1629 1797h15v13h-15zM784 1810h15v12h-15zM932 1810h15v12h-15zM962 1810h15v12h-15zM1036 1810h15v12h-15zM1170 1810h29v12h-29zM1540 1810h15v12h-15zM1629 1810h15v12h-15zM725 1822h14v13h-14zM769 1822h30v13h-30zM917 1822h30v13h-30zM977 1822h15v13h-15zM1066 1822h15v13h-15zM1184 1822h15v13h-15zM1244 1822h15v13h-15zM1318 1822h30v13h-30zM1392 1822h45v13h-45zM1451 1822h45v13h-45zM1570 1822h15v13h-15zM725 1835h29v13h-29zM769 1835h15v13h-15zM799 1835h15v13h-15zM843 1835h15v13h-15zM903 1835h44v13h-44zM1066 1835h15v13h-15zM1303 1835h45v13h-45zM1377 1835h74v13h-74zM1466 1835h15v13h-15zM1526 1835h14v13h-14zM1555 1835h15v13h-15zM725 1848h29v13h-29zM828 1848h30v13h-30zM888 1848h44v13h-44zM992 1848h29v13h-29zM1333 1848h29v13h-29zM1377 1848h30v13h-30zM1466 1848h15v13h-15zM1511 1848h29v13h-29zM1555 1848h15v13h-15zM1585 1848h15v13h-15zM739 1861h15v12h-15zM873 1861h15v12h-15zM917 1861h15v12h-15zM1362 1861h30v12h-30zM1407 1861h15v12h-15zM1451 1861h15v12h-15zM1481 1861h15v12h-15zM1540 1861h30v12h-30zM1600 1861h15v12h-15zM1318 1873h15v13h-15zM1362 1873h30v13h-30zM1407 1873h15v13h-15zM1466 1873h45v13h-45zM1585 1873h44v13h-44zM1303 1886h45v13h-45zM1377 1886h45v13h-45zM1437 1886h14v13h-14zM1481 1886h15v13h-15zM1674 1886h15v13h-15zM487 1899h15v13h-15zM561 1899h15v13h-15zM1318 1899h15v13h-15zM1362 1899h15v13h-15zM1407 1899h30v13h-30zM1496 1899h15v13h-15zM1570 1899h15v13h-15zM502 1912h15v12h-15zM561 1912h15v12h-15zM962 1912h15v12h-15zM1362 1912h30v12h-30zM1437 1912h14v12h-14zM1481 1912h15v12h-15zM1511 1912h15v12h-15zM1570 1912h15v12h-15zM1615 1912h29v12h-29zM1659 1912h15v12h-15zM443 1924h44v13h-44zM561 1924h15v13h-15zM1348 1924h29v13h-29zM1526 1924h14v13h-14zM1318 1937h30v13h-30zM1362 1950h15v13h-15zM1481 1950h30v13h-30z"/>
<path fill="#197537" d="M858 931h15v13h-15zM799 944h29v12h-29zM843 944h15v12h-15zM754 956h45v13h-45zM814 956h29v13h-29zM1021 956h15v13h-15zM769 969h15v13h-15zM799 969h15v13h-15zM1036 982h15v13h-15zM1081 982h14v13h-14zM1081 995h14v12h-14zM1110 995h15v12h-15zM1021 1007h30v13h-30zM1081 1007h14v13h-14zM1051 1020h30v13h-30zM1095 1020h15v13h-15zM1021 1033h15v13h-15zM1095 1033h30v13h-30zM1021 1046h45v12h-45zM1081 1046h14v12h-14zM1125 1046h15v12h-15zM1155 1046h15v12h-15zM1184 1046h30v12h-30zM1110 1058h15v13h-15zM1155 1058h29v13h-29zM1110 1071h15v13h-15zM1140 1071h30v13h-30zM1051 1084h15v13h-15zM1081 1084h59v13h-59zM1170 1084h14v13h-14zM1259 1084h14v13h-14zM1036 1097h15v12h-15zM1110 1097h15v12h-15zM1155 1097h15v12h-15zM1184 1097h15v12h-15zM1214 1097h15v12h-15zM1273 1097h15v12h-15zM1095 1109h15v13h-15zM1155 1109h74v13h-74zM1273 1109h15v13h-15zM1036 1122h15v13h-15zM1155 1122h59v13h-59zM1229 1122h15v13h-15zM1288 1122h30v13h-30zM1081 1135h29v12h-29zM1125 1135h30v12h-30zM1170 1135h14v12h-14zM1199 1135h15v12h-15zM1288 1135h15v12h-15zM1155 1147h44v13h-44zM1229 1147h30v13h-30zM1288 1147h30v13h-30zM1051 1160h59v13h-59zM1184 1160h30v13h-30zM1273 1160h30v13h-30zM1036 1173h30v13h-30zM1081 1173h29v13h-29zM1125 1173h59v13h-59zM1199 1173h15v13h-15zM1095 1186h15v12h-15zM1125 1186h15v12h-15zM1170 1186h29v12h-29zM1288 1186h15v12h-15zM1318 1186h15v12h-15zM1170 1198h44v13h-44zM1259 1198h74v13h-74zM1496 1198h15v13h-15zM1555 1198h15v13h-15zM1273 1211h45v13h-45zM1170 1224h44v13h-44zM1451 1224h15v13h-15zM1496 1224h15v13h-15zM1155 1237h15v12h-15zM1229 1237h15v12h-15zM1303 1237h30v12h-30zM1362 1237h15v12h-15zM1466 1237h30v12h-30zM1555 1237h15v12h-15zM1244 1249h44v13h-44zM1303 1249h30v13h-30zM1348 1249h14v13h-14zM1466 1249h15v13h-15zM1229 1262h30v13h-30zM1273 1262h15v13h-15zM1303 1262h15v13h-15zM1333 1262h29v13h-29zM1392 1262h15v13h-15zM1303 1275h30v13h-30zM1348 1275h14v13h-14zM1377 1275h15v13h-15zM1422 1275h29v13h-29zM1496 1275h44v13h-44zM1555 1275h15v13h-15zM1244 1288h44v12h-44zM1362 1288h15v12h-15zM1392 1288h15v12h-15zM1481 1288h15v12h-15zM1511 1288h15v12h-15zM1244 1300h15v13h-15zM1288 1300h15v13h-15zM1318 1300h15v13h-15zM1481 1300h59v13h-59zM1585 1300h15v13h-15zM1615 1300h14v13h-14zM1229 1313h15v13h-15zM1273 1313h15v13h-15zM1333 1313h15v13h-15zM1526 1313h29v13h-29zM1570 1313h15v13h-15zM1600 1313h15v13h-15zM1629 1313h15v13h-15zM1244 1326h15v13h-15zM1333 1326h15v13h-15zM1526 1326h14v13h-14zM1570 1326h30v13h-30zM1629 1326h15v13h-15zM1170 1339h14v12h-14zM1259 1339h44v12h-44zM1318 1339h15v12h-15zM1585 1339h15v12h-15zM1155 1351h15v13h-15zM1184 1351h15v13h-15zM1244 1351h15v13h-15zM1303 1351h30v13h-30zM1199 1364h15v13h-15zM1229 1364h15v13h-15zM1288 1364h15v13h-15zM1170 1377h14v12h-14zM1199 1377h15v12h-15zM1229 1377h15v12h-15zM1273 1377h30v12h-30zM1155 1389h44v13h-44zM1229 1389h15v13h-15zM1259 1389h14v13h-14zM1199 1402h15v13h-15zM1229 1402h15v13h-15zM1259 1402h29v13h-29zM1155 1415h15v13h-15zM1199 1415h30v13h-30zM947 1428h15v12h-15zM1155 1428h29v12h-29zM1199 1428h15v12h-15zM1259 1428h14v12h-14zM992 1440h14v13h-14zM1155 1440h15v13h-15zM992 1453h14v13h-14zM1170 1453h14v13h-14zM992 1466h14v13h-14zM1170 1466h29v13h-29zM1214 1466h15v13h-15zM947 1479h30v12h-30zM1170 1479h14v12h-14zM1437 1479h14v12h-14zM1407 1491h30v13h-30zM1021 1517h15v13h-15zM1407 1517h30v13h-30zM1451 1517h15v13h-15zM1407 1530h15v12h-15zM1095 1542h15v13h-15zM1155 1542h15v13h-15zM1437 1542h14v13h-14zM1036 1555h30v13h-30zM1392 1555h15v13h-15zM1348 1568h14v13h-14zM1362 1581h15v12h-15zM1392 1581h15v12h-15zM1422 1581h29v12h-29zM1362 1593h15v13h-15zM1392 1593h15v13h-15zM1199 1606h15v13h-15zM1362 1606h60v13h-60zM1437 1606h14v13h-14zM1259 1619h14v12h-14zM1377 1619h15v12h-15zM1437 1619h14v12h-14zM1362 1631h15v13h-15zM1362 1682h30v13h-30zM1407 1695h15v13h-15zM621 1708h15v13h-15zM977 1708h15v13h-15zM858 1721h15v12h-15zM621 1733h44v13h-44zM858 1733h15v13h-15zM1303 1733h15v13h-15zM1644 1733h15v13h-15zM636 1746h14v13h-14zM1629 1746h15v13h-15zM1674 1746h30v13h-30zM650 1759h15v13h-15zM1600 1759h44v13h-44zM1689 1759h29v13h-29zM1214 1772h30v12h-30zM1585 1772h30v12h-30zM1629 1772h15v12h-15zM1674 1772h15v12h-15zM1718 1772h15v12h-15zM1600 1784h15v13h-15zM1689 1784h29v13h-29zM784 1797h15v13h-15zM1244 1797h15v13h-15zM1615 1797h14v13h-14zM1644 1797h30v13h-30zM739 1810h45v12h-45zM1051 1810h15v12h-15zM1481 1810h30v12h-30zM1570 1810h15v12h-15zM754 1835h15v13h-15zM784 1835h15v13h-15zM992 1835h14v13h-14zM1348 1835h14v13h-14zM1481 1835h15v13h-15zM1540 1835h15v13h-15zM754 1848h15v13h-15zM1036 1848h15v13h-15zM1318 1848h15v13h-15zM1362 1848h15v13h-15zM1407 1848h59v13h-59zM1481 1848h30v13h-30zM1540 1848h15v13h-15zM828 1861h30v12h-30zM1333 1861h29v12h-29zM1392 1861h15v12h-15zM1466 1861h15v12h-15zM1496 1861h15v12h-15zM1526 1861h14v12h-14zM1570 1861h30v12h-30zM1392 1873h15v13h-15zM1422 1873h15v13h-15zM1451 1873h15v13h-15zM1511 1873h15v13h-15zM1555 1873h30v13h-30zM1644 1873h30v13h-30zM398 1886h15v13h-15zM1362 1886h15v13h-15zM1422 1886h15v13h-15zM1496 1886h15v13h-15zM1540 1886h15v13h-15zM1600 1886h15v13h-15zM502 1899h15v13h-15zM962 1899h15v13h-15zM1377 1899h15v13h-15zM1511 1899h15v13h-15zM1674 1899h15v13h-15zM1333 1912h29v12h-29zM1407 1912h15v12h-15zM1496 1912h15v12h-15zM1540 1912h30v12h-30zM487 1924h15v13h-15zM917 1924h15v13h-15zM1318 1924h15v13h-15zM1392 1924h15v13h-15zM1496 1924h15v13h-15zM1348 1937h14v13h-14zM1540 1950h15v13h-15z"/>
<path fill="#146843" d="M903 931h14v13h-14zM1006 956h15v13h-15zM1006 995h15v12h-15zM739 1033h15v13h-15zM784 1058h15v13h-15zM962 1097h30v12h-30zM1006 1135h15v12h-15zM1095 1211h15v13h-15zM1081 1237h14v12h-14zM1170 1262h14v13h-14zM1066 1275h15v13h-15zM1155 1300h15v13h-15zM1140 1313h15v13h-15zM1466 1313h15v13h-15zM1125 1326h15v13h-15zM1155 1326h15v13h-15zM1422 1326h29v13h-29zM1125 1364h15v13h-15zM1377 1377h15v12h-15zM1422 1377h15v12h-15zM917 1415h15v13h-15zM1036 1415h15v13h-15zM1006 1428h15v12h-15zM1273 1440h15v13h-15zM1036 1479h15v12h-15zM1081 1479h29v12h-29zM1244 1479h15v12h-15zM1377 1479h15v12h-15zM932 1504h15v13h-15zM962 1517h15v13h-15zM1333 1530h15v12h-15zM992 1555h14v13h-14zM1229 1568h15v13h-15zM1051 1581h15v12h-15zM1318 1581h15v12h-15zM1066 1593h15v13h-15zM1051 1631h15v13h-15zM1244 1631h15v13h-15zM1451 1644h15v13h-15zM1481 1644h15v13h-15zM1570 1644h15v13h-15zM636 1657h14v13h-14zM606 1682h15v13h-15zM1259 1682h14v13h-14zM1526 1682h14v13h-14zM858 1695h15v13h-15zM1451 1695h15v13h-15zM680 1708h15v13h-15zM828 1708h15v13h-15zM1407 1708h15v13h-15zM680 1721h15v12h-15zM1318 1721h15v12h-15zM1437 1721h14v12h-14zM1600 1721h15v12h-15zM695 1733h15v13h-15zM1288 1733h15v13h-15zM532 1746h15v13h-15zM1585 1746h15v13h-15zM532 1759h15v13h-15zM1244 1759h15v13h-15zM621 1772h15v12h-15zM843 1772h15v12h-15zM917 1772h15v12h-15zM1021 1772h15v12h-15zM1006 1784h15v13h-15zM1303 1784h15v13h-15zM621 1797h15v13h-15zM858 1797h15v13h-15zM1288 1797h15v13h-15zM1333 1797h15v13h-15zM561 1810h45v12h-45zM1288 1810h15v12h-15zM1333 1810h15v12h-15zM1392 1810h15v12h-15zM561 1822h15v13h-15zM665 1822h15v13h-15zM1155 1822h15v13h-15zM650 1835h15v13h-15zM873 1835h15v13h-15zM1021 1835h15v13h-15zM1288 1835h15v13h-15zM413 1848h15v13h-15zM947 1848h15v13h-15zM1184 1848h15v13h-15zM413 1861h30v12h-30zM561 1861h15v12h-15zM992 1861h14v12h-14zM1199 1861h15v12h-15zM383 1873h15v13h-15zM977 1873h29v13h-29zM1214 1873h15v13h-15zM873 1886h15v13h-15zM1036 1886h30v13h-30zM1214 1886h15v13h-15zM636 1899h14v13h-14zM1021 1912h15v12h-15zM443 1937h15v13h-15zM547 1937h14v13h-14zM606 1937h30v13h-30zM947 1937h15v13h-15zM606 1950h30v13h-30z"/>
<path fill="#176f3d" d="M932 931h15v13h-15zM739 944h15v12h-15zM873 944h15v12h-15zM1006 944h15v12h-15zM739 956h15v13h-15zM754 969h15v13h-15zM814 982h14v13h-14zM1021 982h15v13h-15zM1021 995h15v12h-15zM1066 1007h15v13h-15zM1140 1020h15v13h-15zM1006 1033h15v13h-15zM1125 1033h15v13h-15zM1170 1046h14v12h-14zM1006 1058h15v13h-15zM1081 1071h14v13h-14zM1036 1084h15v13h-15zM1155 1084h15v13h-15zM1095 1097h15v12h-15zM1288 1173h15v13h-15zM1051 1186h15v12h-15zM1081 1186h14v12h-14zM1066 1198h15v13h-15zM1125 1211h30v13h-30zM1214 1211h15v13h-15zM1259 1211h14v13h-14zM1125 1224h15v13h-15zM1229 1224h15v13h-15zM1288 1224h15v13h-15zM1199 1237h15v12h-15zM1259 1237h14v12h-14zM1110 1249h30v13h-30zM1170 1249h14v13h-14zM1229 1249h15v13h-15zM1585 1249h15v13h-15zM1110 1262h30v13h-30zM1214 1262h15v13h-15zM1466 1262h15v13h-15zM1081 1275h29v13h-29zM1199 1275h30v13h-30zM1244 1275h15v13h-15zM1184 1288h15v12h-15zM1437 1288h29v12h-29zM1184 1300h15v13h-15zM1348 1300h14v13h-14zM1377 1300h15v13h-15zM1244 1313h15v13h-15zM1303 1313h15v13h-15zM1555 1313h15v13h-15zM1140 1326h15v13h-15zM1600 1326h15v13h-15zM1140 1339h15v12h-15zM1244 1339h15v12h-15zM1333 1339h15v12h-15zM1392 1339h45v12h-45zM1348 1351h59v13h-59zM1214 1364h15v13h-15zM1348 1364h29v13h-29zM1407 1364h15v13h-15zM947 1389h15v13h-15zM932 1402h30v13h-30zM1288 1402h15v13h-15zM1095 1415h15v13h-15zM1125 1415h15v13h-15zM1229 1415h15v13h-15zM977 1428h15v12h-15zM1051 1428h15v12h-15zM1214 1428h15v12h-15zM1006 1440h15v13h-15zM1140 1440h15v13h-15zM1244 1440h29v13h-29zM1006 1453h30v13h-30zM917 1466h15v13h-15zM1006 1466h15v13h-15zM1199 1466h15v13h-15zM1244 1466h15v13h-15zM917 1479h15v12h-15zM1214 1479h15v12h-15zM1006 1491h15v13h-15zM1036 1491h15v13h-15zM992 1504h14v13h-14zM1140 1504h15v13h-15zM1229 1504h15v13h-15zM1170 1517h14v13h-14zM1081 1530h14v12h-14zM1422 1530h15v12h-15zM1006 1542h15v13h-15zM1184 1542h15v13h-15zM1333 1542h15v13h-15zM1021 1555h15v13h-15zM1110 1555h15v13h-15zM1333 1555h29v13h-29zM1377 1555h15v13h-15zM1036 1568h15v13h-15zM1140 1568h15v13h-15zM1214 1581h15v12h-15zM1333 1581h15v12h-15zM1348 1593h14v13h-14zM1259 1631h14v13h-14zM1333 1631h15v13h-15zM1451 1631h15v13h-15zM665 1644h15v13h-15zM1259 1644h14v13h-14zM1422 1644h15v13h-15zM650 1657h15v13h-15zM680 1657h15v13h-15zM1259 1657h29v13h-29zM1333 1657h29v13h-29zM1392 1657h30v13h-30zM1481 1657h30v13h-30zM1526 1657h14v13h-14zM1273 1670h15v12h-15zM1288 1682h30v13h-30zM1422 1682h15v13h-15zM1273 1695h15v13h-15zM1303 1695h15v13h-15zM1348 1695h44v13h-44zM650 1708h15v13h-15zM843 1708h15v13h-15zM606 1721h15v12h-15zM814 1721h14v12h-14zM843 1721h15v12h-15zM873 1721h15v12h-15zM606 1733h15v13h-15zM784 1733h30v13h-30zM828 1733h30v13h-30zM888 1733h29v13h-29zM784 1746h30v13h-30zM873 1746h15v13h-15zM576 1759h15v13h-15zM621 1759h29v13h-29zM873 1759h15v13h-15zM532 1772h15v12h-15zM650 1772h30v12h-30zM784 1772h15v12h-15zM814 1772h29v12h-29zM962 1772h30v12h-30zM1006 1772h15v12h-15zM1615 1772h14v12h-14zM784 1784h30v13h-30zM932 1784h15v13h-15zM962 1784h30v13h-30zM1214 1784h15v13h-15zM1615 1784h14v13h-14zM665 1797h45v13h-45zM754 1797h30v13h-30zM873 1797h15v13h-15zM932 1797h30v13h-30zM977 1797h15v13h-15zM1021 1797h15v13h-15zM1229 1797h15v13h-15zM695 1810h15v12h-15zM725 1810h14v12h-14zM903 1810h29v12h-29zM977 1810h15v12h-15zM1199 1810h45v12h-45zM1407 1810h15v12h-15zM1437 1810h14v12h-14zM650 1822h15v13h-15zM814 1822h29v13h-29zM947 1822h30v13h-30zM992 1822h14v13h-14zM1229 1822h15v13h-15zM1348 1822h29v13h-29zM1496 1822h15v13h-15zM828 1835h15v13h-15zM977 1835h15v13h-15zM1006 1835h15v13h-15zM1451 1835h15v13h-15zM576 1848h15v13h-15zM784 1848h44v13h-44zM932 1848h15v13h-15zM576 1861h15v12h-15zM754 1861h15v12h-15zM814 1861h14v12h-14zM1318 1861h15v12h-15zM413 1873h15v13h-15zM873 1873h15v13h-15zM1288 1873h30v13h-30zM1333 1873h15v13h-15zM1437 1873h14v13h-14zM383 1886h15v13h-15zM576 1886h15v13h-15zM814 1886h14v13h-14zM1451 1886h15v13h-15zM369 1899h59v13h-59zM443 1899h15v13h-15zM576 1899h15v13h-15zM621 1899h15v13h-15zM1466 1899h15v13h-15zM428 1912h30v12h-30zM487 1912h15v12h-15zM428 1924h15v13h-15zM472 1937h15v13h-15z"/>
<path fill="#27397d" d="M903 944h14v12h-14zM665 1007h15v13h-15zM784 1020h15v13h-15zM814 1020h14v13h-14zM576 1084h15v13h-15zM814 1084h14v13h-14zM843 1084h15v13h-15zM873 1097h15v12h-15zM636 1122h14v13h-14zM947 1122h15v13h-15zM383 1147h15v13h-15zM977 1160h15v13h-15zM977 1173h15v13h-15zM754 1186h15v12h-15zM784 1186h15v12h-15zM947 1198h15v13h-15zM754 1249h15v13h-15zM843 1288h15v12h-15zM383 1300h15v13h-15zM443 1313h15v13h-15zM828 1364h15v13h-15zM873 1428h15v12h-15zM398 1440h15v13h-15zM532 1453h15v13h-15zM1140 1491h15v13h-15zM1125 1504h15v13h-15zM843 1568h15v13h-15zM1155 1619h15v12h-15zM1095 1631h30v13h-30zM1184 1631h15v13h-15zM1095 1644h15v13h-15zM1140 1644h15v13h-15zM1170 1644h29v13h-29zM1170 1657h14v13h-14zM1184 1670h15v12h-15zM1110 1682h15v13h-15zM1184 1682h30v13h-30zM1081 1695h14v13h-14zM1110 1695h30v13h-30zM1199 1695h15v13h-15zM1081 1708h14v13h-14zM1155 1708h15v13h-15zM1199 1708h15v13h-15zM1229 1708h15v13h-15zM1214 1721h15v12h-15zM1110 1759h15v13h-15zM1437 1759h44v13h-44zM383 1772h15v12h-15zM413 1772h15v12h-15zM443 1772h15v12h-15zM1451 1772h15v12h-15zM413 1784h30v13h-30zM360 1848h23v13h-23zM1125 1899h15v13h-15zM1125 1912h15v12h-15zM1170 1924h14v13h-14zM1259 1937h14v13h-14zM1244 1950h15v13h-15zM1273 1950h15v13h-15zM1214 1963h30v12h-30zM1392 1963h15v12h-15zM1273 1975h15v13h-15zM1318 1975h15v13h-15zM1184 1988h30v13h-30zM1259 1988h14v13h-14zM1318 1988h15v13h-15zM1199 2001h15v13h-15zM1303 2001h15v13h-15zM1407 2001h15v13h-15zM1081 2014h14v12h-14zM1125 2014h15v12h-15zM1184 2014h30v12h-30zM1229 2014h15v12h-15zM1377 2014h15v12h-15zM1051 2026h15v13h-15zM1125 2026h15v13h-15zM1155 2026h29v13h-29zM1244 2026h15v13h-15zM1155 2039h29v13h-29zM1229 2039h30v13h-30zM1303 2039h30v13h-30zM1362 2039h15v13h-15zM1170 2052h14v12h-14zM1288 2052h15v12h-15zM1348 2052h14v12h-14zM1229 2064h15v13h-15zM1273 2064h15v13h-15zM1140 2077h15v13h-15zM1140 2090h15v13h-15zM1303 2090h15v13h-15z"/>
<path fill="#12624a" d="M917 944h15v12h-15zM992 944h14v12h-14zM992 1007h14v13h-14zM754 1046h15v12h-15zM1496 1364h15v13h-15zM932 1377h15v12h-15zM992 1377h14v12h-14zM1036 1453h15v13h-15zM1348 1479h14v12h-14zM1184 1606h15v13h-15zM695 1619h15v12h-15zM1229 1631h15v13h-15zM932 1644h15v13h-15zM1570 1670h15v12h-15zM1496 1695h15v13h-15zM725 1721h14v12h-14zM1140 1772h15v12h-15zM1273 1784h15v13h-15zM1348 1784h14v13h-14zM1125 1848h15v13h-15zM1214 1848h15v13h-15zM1244 1848h15v13h-15zM962 1873h15v13h-15zM1021 1873h15v13h-15zM1125 1873h15v13h-15zM754 1899h15v13h-15zM828 1912h15v12h-15zM1006 1912h15v12h-15zM873 1924h15v13h-15zM992 1924h14v13h-14zM383 1963h15v12h-15zM903 1963h14v12h-14zM517 1975h15v13h-15zM561 1975h15v13h-15zM680 2026h15v13h-15z"/>
<path fill="#115f4d" d="M932 944h15v12h-15zM739 1007h15v13h-15zM977 1033h15v13h-15zM947 1109h15v13h-15zM903 1122h14v13h-14zM1006 1160h15v13h-15zM1199 1453h15v13h-15zM1125 1491h15v13h-15zM1214 1631h15v13h-15zM680 1644h15v13h-15zM1214 1657h15v13h-15zM1066 1759h15v13h-15zM1066 1772h15v12h-15zM1288 1772h15v12h-15zM1170 1784h14v13h-14zM1437 1784h14v13h-14zM814 1835h14v13h-14zM1155 1899h15v13h-15zM977 1924h15v13h-15zM1006 1937h15v13h-15zM1288 1937h15v13h-15zM428 1975h15v13h-15zM532 1975h15v13h-15z"/>
<path fill="#42368a" d="M947 944h15v12h-15zM888 982h29v13h-29zM695 995h15v12h-15zM814 1007h14v13h-14zM799 1020h15v13h-15zM903 1020h14v13h-14zM932 1020h15v13h-15zM873 1058h15v13h-15zM443 1097h15v12h-15zM888 1109h15v13h-15zM561 1135h15v12h-15zM725 1147h14v13h-14zM903 1173h14v13h-14zM932 1173h15v13h-15zM576 1198h15v13h-15zM725 1198h14v13h-14zM650 1211h15v13h-15zM680 1211h15v13h-15zM680 1224h30v13h-30zM636 1237h29v12h-29zM725 1249h14v13h-14zM977 1249h15v13h-15zM532 1275h15v13h-15zM650 1275h15v13h-15zM547 1288h14v12h-14zM621 1300h15v13h-15zM947 1300h15v13h-15zM843 1313h15v13h-15zM858 1326h15v13h-15zM843 1351h15v13h-15zM487 1389h15v13h-15zM383 1402h15v13h-15zM458 1402h14v13h-14zM710 1402h15v13h-15zM710 1428h15v12h-15zM828 1466h15v13h-15zM680 1479h15v12h-15zM695 1504h15v13h-15z"/>
<path fill="#5a3494" d="M502 956h15v13h-15zM680 956h15v13h-15zM487 969h30v13h-30zM621 969h15v13h-15zM650 969h15v13h-15zM428 982h15v13h-15zM517 982h15v13h-15zM547 982h14v13h-14zM606 982h44v13h-44zM413 995h15v12h-15zM458 995h44v12h-44zM517 995h15v12h-15zM547 995h14v12h-14zM369 1007h29v13h-29zM413 1007h15v13h-15zM502 1007h15v13h-15zM561 1007h15v13h-15zM606 1007h30v13h-30zM873 1007h15v13h-15zM360 1020h9v13h-9zM428 1020h30v13h-30zM487 1020h15v13h-15zM576 1020h15v13h-15zM621 1020h29v13h-29zM858 1020h45v13h-45zM369 1033h44v13h-44zM443 1033h15v13h-15zM591 1033h45v13h-45zM680 1033h30v13h-30zM858 1033h15v13h-15zM360 1046h9v12h-9zM383 1046h30v12h-30zM428 1046h15v12h-15zM458 1046h29v12h-29zM517 1046h30v12h-30zM576 1046h15v12h-15zM606 1046h30v12h-30zM650 1046h30v12h-30zM383 1058h15v13h-15zM413 1058h15v13h-15zM458 1058h29v13h-29zM532 1058h29v13h-29zM576 1058h15v13h-15zM606 1058h30v13h-30zM650 1058h15v13h-15zM903 1058h14v13h-14zM443 1071h29v13h-29zM487 1071h15v13h-15zM621 1071h44v13h-44zM903 1071h14v13h-14zM650 1084h15v13h-15zM888 1084h15v13h-15zM458 1097h14v12h-14zM725 1109h14v13h-14zM754 1109h15v13h-15zM754 1122h15v13h-15zM725 1211h14v13h-14zM754 1211h15v13h-15zM739 1224h15v13h-15zM665 1237h15v12h-15zM903 1288h14v12h-14zM932 1300h15v13h-15zM917 1313h15v13h-15zM369 1351h14v13h-14z"/>
<path fill="#5e3496" d="M621 956h15v13h-15zM695 956h15v13h-15zM636 969h14v13h-14zM621 995h15v12h-15zM383 1020h15v13h-15zM413 1020h15v13h-15zM561 1020h15v13h-15zM576 1033h15v13h-15zM650 1033h15v13h-15zM561 1046h15v12h-15z"/>
<path fill="#136546" d="M873 956h15v13h-15zM843 982h15v13h-15zM769 995h15v12h-15zM962 1020h15v13h-15zM992 1033h14v13h-14zM1051 1211h15v13h-15zM1051 1249h15v13h-15zM1451 1351h15v13h-15zM1437 1377h14v12h-14zM1466 1377h15v12h-15zM1348 1389h29v13h-29zM1036 1466h15v13h-15zM1333 1491h15v13h-15zM1333 1517h15v13h-15zM1170 1581h14v12h-14zM1214 1606h15v13h-15zM1303 1606h15v13h-15zM695 1631h15v13h-15zM1526 1631h14v13h-14zM1006 1657h15v13h-15zM1348 1708h14v13h-14zM1481 1708h15v13h-15zM695 1721h15v12h-15zM1451 1721h15v12h-15zM1303 1772h30v12h-30zM828 1810h15v12h-15zM858 1822h15v13h-15zM1155 1835h15v13h-15zM1199 1835h15v13h-15zM428 1848h15v13h-15zM650 1848h15v13h-15zM472 1861h15v12h-15zM1184 1861h15v12h-15zM1214 1861h15v12h-15zM754 1873h15v13h-15zM917 1873h15v13h-15zM1273 1886h15v13h-15zM888 1899h15v13h-15zM1184 1899h15v13h-15zM858 1912h15v12h-15zM858 1924h15v13h-15zM1021 1924h15v13h-15zM1051 1924h15v13h-15zM561 1937h15v13h-15zM903 1937h14v13h-14zM1051 1937h15v13h-15zM903 1950h14v13h-14zM413 1975h15v13h-15zM665 2014h15v12h-15zM665 2039h15v13h-15z"/>
<path fill="#0f5c50" d="M903 956h14v13h-14zM947 1007h15v13h-15zM725 1033h14v13h-14zM962 1033h15v13h-15zM784 1046h15v12h-15zM754 1058h15v13h-15zM1244 1211h15v13h-15zM1214 1224h15v13h-15zM1155 1249h15v13h-15zM1140 1262h15v13h-15zM1229 1275h15v13h-15zM1407 1326h15v13h-15zM1348 1339h14v12h-14zM1377 1339h15v12h-15zM1229 1428h15v12h-15zM992 1491h14v13h-14zM1006 1517h15v13h-15zM1066 1517h15v13h-15zM1170 1542h14v13h-14zM1006 1555h15v13h-15zM1081 1619h14v12h-14zM650 1682h15v13h-15zM1407 1682h15v13h-15zM1259 1733h14v13h-14zM947 1784h15v13h-15zM858 1835h15v13h-15zM873 1848h15v13h-15zM888 1873h15v13h-15zM1095 1873h15v13h-15zM992 1886h14v13h-14zM472 1899h15v13h-15z"/>
<path fill="#23397c" d="M917 956h15v13h-15zM917 1007h15v13h-15zM917 1020h15v13h-15zM769 1058h15v13h-15zM383 1097h15v12h-15zM561 1097h15v12h-15zM487 1147h15v13h-15zM576 1147h15v13h-15zM621 1147h15v13h-15zM472 1173h15v13h-15zM799 1173h15v13h-15zM383 1211h15v13h-15zM814 1211h14v13h-14zM369 1224h14v13h-14zM814 1224h14v13h-14zM443 1237h15v12h-15zM369 1249h14v13h-14zM428 1249h15v13h-15zM843 1249h15v13h-15zM413 1262h15v13h-15zM458 1262h14v13h-14zM383 1275h15v13h-15zM443 1288h15v12h-15zM814 1300h14v13h-14zM858 1300h15v13h-15zM383 1313h15v13h-15zM739 1326h15v13h-15zM472 1364h15v13h-15zM725 1364h14v13h-14zM621 1377h15v12h-15zM799 1389h15v13h-15zM517 1402h15v13h-15zM458 1440h14v13h-14zM502 1440h15v13h-15zM398 1479h15v12h-15zM1199 1631h15v13h-15zM1095 1657h30v13h-30zM1184 1657h15v13h-15zM1110 1670h15v12h-15zM1199 1670h15v12h-15zM1095 1682h15v13h-15zM1229 1682h15v13h-15zM383 1695h15v13h-15zM1006 1708h15v13h-15zM1170 1708h29v13h-29zM1095 1721h30v12h-30zM1229 1721h30v12h-30zM1095 1733h30v13h-30zM360 1746h9v13h-9zM1110 1746h15v13h-15zM1422 1759h15v13h-15zM1362 1772h15v12h-15zM443 1784h15v13h-15zM1110 1784h15v13h-15zM398 1797h15v13h-15zM383 1810h15v12h-15zM1110 1899h15v13h-15zM1244 1924h15v13h-15zM1170 1937h14v13h-14zM1081 1950h14v13h-14zM1214 1950h30v13h-30zM1066 1975h29v13h-29zM1170 1988h14v13h-14zM1066 2001h15v13h-15zM1095 2001h30v13h-30zM1170 2001h14v13h-14zM1140 2014h15v12h-15zM1273 2039h15v13h-15zM1377 2064h15v13h-15z"/>
<path fill="#4a368d" d="M947 956h15v13h-15zM977 956h15v13h-15zM977 969h15v13h-15zM710 982h15v13h-15zM858 995h15v12h-15zM695 1007h15v13h-15zM710 1033h15v13h-15zM932 1033h15v13h-15zM843 1071h15v13h-15zM398 1084h15v13h-15zM561 1084h15v13h-15zM754 1084h15v13h-15zM858 1084h15v13h-15zM517 1097h15v12h-15zM784 1097h15v12h-15zM443 1109h15v13h-15zM680 1109h15v13h-15zM710 1135h15v12h-15zM665 1147h30v13h-30zM947 1160h15v13h-15zM428 1198h15v13h-15zM977 1198h15v13h-15zM1006 1198h15v13h-15zM591 1224h30v13h-30zM398 1249h15v13h-15zM858 1262h15v13h-15zM917 1275h15v13h-15zM369 1288h14v12h-14zM443 1300h15v13h-15zM754 1339h15v12h-15zM888 1339h15v12h-15zM561 1351h15v13h-15zM369 1364h14v13h-14zM502 1389h15v13h-15zM458 1415h14v13h-14zM487 1479h15v12h-15z"/>
<path fill="#523590" d="M962 956h15v13h-15zM917 982h15v13h-15zM888 995h15v12h-15zM428 1007h15v13h-15zM858 1007h15v13h-15zM903 1007h14v13h-14zM532 1020h15v13h-15zM606 1020h15v13h-15zM665 1020h30v13h-30zM828 1020h15v13h-15zM903 1033h14v13h-14zM443 1046h15v12h-15zM710 1046h15v12h-15zM843 1046h15v12h-15zM932 1046h15v12h-15zM369 1058h14v13h-14zM561 1058h15v13h-15zM725 1058h14v13h-14zM888 1058h15v13h-15zM398 1071h15v13h-15zM561 1071h15v13h-15zM591 1071h15v13h-15zM873 1071h15v13h-15zM443 1084h15v13h-15zM487 1084h15v13h-15zM532 1084h15v13h-15zM665 1084h15v13h-15zM695 1109h30v13h-30zM710 1122h15v13h-15zM769 1122h15v13h-15zM725 1135h14v12h-14zM947 1186h15v12h-15zM413 1198h15v13h-15zM739 1198h45v13h-45zM710 1211h15v13h-15zM650 1224h30v13h-30zM710 1224h15v13h-15zM977 1224h15v13h-15zM680 1237h15v12h-15zM739 1237h15v12h-15zM977 1237h29v12h-29zM532 1249h15v13h-15zM621 1262h15v13h-15zM650 1262h15v13h-15zM873 1262h15v13h-15zM621 1275h29v13h-29zM739 1275h15v13h-15zM858 1275h30v13h-30zM903 1275h14v13h-14zM360 1288h9v12h-9zM739 1288h15v12h-15zM873 1288h15v12h-15zM932 1288h30v12h-30zM888 1300h15v13h-15zM369 1313h14v13h-14zM903 1313h14v13h-14zM932 1313h15v13h-15zM383 1326h15v13h-15zM828 1326h15v13h-15zM383 1339h15v12h-15zM843 1339h15v12h-15zM360 1351h9v13h-9zM784 1364h15v13h-15zM814 1364h14v13h-14zM369 1402h14v13h-14zM487 1415h15v13h-15zM383 1428h15v12h-15zM472 1466h15v13h-15zM621 1466h15v13h-15zM680 1491h30v13h-30zM665 1504h30v13h-30z"/>
<path fill="#363784" d="M992 956h14v13h-14zM962 982h15v13h-15zM799 1007h15v13h-15zM769 1046h15v12h-15zM962 1046h15v12h-15zM695 1071h15v13h-15zM739 1071h15v13h-15zM398 1097h15v12h-15zM532 1097h15v12h-15zM487 1109h15v13h-15zM458 1122h14v13h-14zM532 1135h15v12h-15zM576 1135h15v12h-15zM606 1135h15v12h-15zM799 1135h15v12h-15zM517 1147h15v13h-15zM606 1147h15v13h-15zM636 1147h14v13h-14zM428 1160h15v13h-15zM591 1160h15v13h-15zM621 1160h15v13h-15zM799 1160h15v13h-15zM903 1160h14v13h-14zM383 1173h30v13h-30zM487 1173h30v13h-30zM532 1173h15v13h-15zM576 1173h15v13h-15zM784 1173h15v13h-15zM398 1186h15v12h-15zM428 1186h74v12h-74zM532 1186h15v12h-15zM769 1186h15v12h-15zM977 1186h15v12h-15zM360 1198h9v13h-9zM398 1198h15v13h-15zM458 1198h14v13h-14zM502 1198h15v13h-15zM561 1198h15v13h-15zM591 1198h15v13h-15zM680 1198h15v13h-15zM828 1198h15v13h-15zM917 1198h30v13h-30zM502 1211h30v13h-30zM828 1211h15v13h-15zM360 1224h9v13h-9zM428 1224h15v13h-15zM517 1224h15v13h-15zM828 1224h15v13h-15zM932 1224h30v13h-30zM360 1237h9v12h-9zM784 1237h15v12h-15zM843 1237h15v12h-15zM932 1237h15v12h-15zM360 1249h9v13h-9zM413 1249h15v13h-15zM443 1249h44v13h-44zM799 1249h15v13h-15zM398 1262h15v13h-15zM695 1262h15v13h-15zM843 1262h15v13h-15zM888 1262h29v13h-29zM947 1262h15v13h-15zM413 1275h15v13h-15zM472 1275h30v13h-30zM680 1275h15v13h-15zM769 1275h15v13h-15zM992 1275h14v13h-14zM458 1288h14v12h-14zM517 1288h15v12h-15zM591 1288h15v12h-15zM695 1288h15v12h-15zM754 1288h30v12h-30zM828 1288h15v12h-15zM398 1300h15v13h-15zM532 1300h15v13h-15zM561 1300h15v13h-15zM710 1300h15v13h-15zM828 1300h30v13h-30zM962 1300h30v13h-30zM398 1313h15v13h-15zM458 1313h14v13h-14zM561 1313h15v13h-15zM591 1313h15v13h-15zM725 1313h14v13h-14zM799 1313h15v13h-15zM858 1313h15v13h-15zM532 1326h15v13h-15zM561 1326h15v13h-15zM947 1326h15v13h-15zM413 1339h45v12h-45zM502 1339h30v12h-30zM606 1339h15v12h-15zM636 1339h14v12h-14zM725 1339h14v12h-14zM769 1339h30v12h-30zM903 1339h29v12h-29zM413 1351h15v13h-15zM472 1351h15v13h-15zM591 1351h15v13h-15zM710 1351h29v13h-29zM769 1351h15v13h-15zM873 1351h15v13h-15zM443 1364h29v13h-29zM591 1364h15v13h-15zM695 1364h15v13h-15zM398 1377h15v12h-15zM561 1377h30v12h-30zM680 1377h15v12h-15zM710 1377h15v12h-15zM739 1377h15v12h-15zM561 1389h15v13h-15zM621 1389h15v13h-15zM754 1389h15v13h-15zM547 1402h14v13h-14zM636 1402h14v13h-14zM695 1402h15v13h-15zM428 1415h15v13h-15zM502 1415h30v13h-30zM547 1415h29v13h-29zM636 1415h14v13h-14zM754 1415h15v13h-15zM502 1428h15v12h-15zM591 1428h15v12h-15zM621 1428h15v12h-15zM650 1428h15v12h-15zM413 1440h15v13h-15zM443 1440h15v13h-15zM487 1440h15v13h-15zM591 1440h15v13h-15zM517 1453h15v13h-15zM547 1453h14v13h-14zM636 1453h14v13h-14zM680 1453h15v13h-15zM725 1453h14v13h-14zM383 1466h15v13h-15zM413 1466h15v13h-15zM517 1466h30v13h-30zM576 1466h15v13h-15zM606 1466h15v13h-15zM725 1466h14v13h-14zM769 1466h15v13h-15zM443 1479h15v12h-15zM502 1479h15v12h-15zM636 1479h14v12h-14zM398 1491h15v13h-15zM739 1491h30v13h-30zM398 1504h15v13h-15zM739 1504h30v13h-30zM621 1517h15v13h-15zM650 1517h15v13h-15zM695 1517h44v13h-44zM680 1530h15v12h-15zM739 1530h15v12h-15zM360 1682h9v13h-9zM360 1695h23v13h-23zM383 1733h15v13h-15zM369 1746h14v13h-14zM360 1759h23v13h-23z"/>
<path fill="#094c5f" d="M858 969h15v13h-15zM710 995h15v12h-15zM992 995h14v12h-14zM962 1058h15v13h-15zM1051 1224h15v13h-15zM1051 1237h30v12h-30zM1051 1262h15v13h-15zM1051 1288h15v12h-15zM1081 1288h29v12h-29zM1466 1339h15v12h-15zM962 1377h15v12h-15zM977 1389h15v13h-15zM1422 1389h15v13h-15zM1066 1402h15v13h-15zM903 1428h14v12h-14zM1081 1428h29v12h-29zM1348 1428h29v12h-29zM1288 1440h15v13h-15zM1348 1440h29v13h-29zM1288 1453h15v13h-15zM1348 1453h14v13h-14zM888 1466h15v13h-15zM873 1479h30v12h-30zM1110 1479h30v12h-30zM1259 1479h14v12h-14zM1288 1479h30v12h-30zM1333 1479h15v12h-15zM858 1491h15v13h-15zM1244 1491h15v13h-15zM1318 1491h15v13h-15zM828 1504h30v13h-30zM888 1504h29v13h-29zM814 1517h29v13h-29zM1318 1517h15v13h-15zM1362 1517h15v13h-15zM888 1530h15v12h-15zM932 1530h15v12h-15zM1199 1530h15v12h-15zM932 1542h45v13h-45zM1362 1542h15v13h-15zM1140 1555h15v13h-15zM1303 1555h15v13h-15zM947 1568h30v13h-30zM1081 1581h14v12h-14zM1110 1581h45v12h-45zM1259 1581h14v12h-14zM1303 1581h15v12h-15zM665 1593h15v13h-15zM1006 1593h15v13h-15zM1095 1593h60v13h-60zM1273 1593h15v13h-15zM636 1606h29v13h-29zM695 1606h15v13h-15zM1006 1606h30v13h-30zM1081 1606h14v13h-14zM1273 1606h15v13h-15zM621 1619h29v12h-29zM843 1619h15v12h-15zM992 1619h14v12h-14zM1036 1619h15v12h-15zM621 1631h29v13h-29zM873 1631h44v13h-44zM992 1631h14v13h-14zM1481 1631h15v13h-15zM621 1644h15v13h-15zM873 1644h15v13h-15zM917 1644h15v13h-15zM947 1644h15v13h-15zM992 1644h14v13h-14zM576 1657h30v13h-30zM621 1657h15v13h-15zM932 1657h15v13h-15zM992 1657h14v13h-14zM1051 1657h15v13h-15zM932 1670h15v12h-15zM1036 1670h30v12h-30zM1540 1670h15v12h-15zM576 1682h15v13h-15zM695 1682h15v13h-15zM977 1682h15v13h-15zM1451 1682h15v13h-15zM1570 1682h15v13h-15zM576 1695h15v13h-15zM725 1695h14v13h-14zM784 1695h15v13h-15zM903 1695h14v13h-14zM932 1695h30v13h-30zM992 1695h14v13h-14zM547 1708h14v13h-14zM591 1708h15v13h-15zM710 1708h15v13h-15zM739 1708h45v13h-45zM799 1708h15v13h-15zM917 1708h45v13h-45zM992 1708h14v13h-14zM517 1721h30v12h-30zM561 1721h15v12h-15zM739 1721h30v12h-30zM932 1721h15v12h-15zM992 1721h14v12h-14zM1348 1721h29v12h-29zM1392 1721h30v12h-30zM487 1733h15v13h-15zM725 1733h44v13h-44zM932 1733h45v13h-45zM1021 1733h15v13h-15zM502 1746h15v13h-15zM739 1746h30v13h-30zM917 1746h45v13h-45zM977 1746h15v13h-15zM1021 1746h30v13h-30zM502 1759h15v13h-15zM725 1759h29v13h-29zM947 1759h15v13h-15zM1199 1759h15v13h-15zM502 1772h15v12h-15zM502 1784h15v13h-15zM532 1784h15v13h-15zM725 1784h29v13h-29zM547 1797h14v13h-14zM1273 1797h15v13h-15zM1392 1797h30v13h-30zM532 1810h15v12h-15zM992 1810h14v12h-14zM606 1822h30v13h-30zM413 1835h15v13h-15zM591 1835h15v13h-15zM680 1835h15v13h-15zM472 1848h15v13h-15zM591 1848h15v13h-15zM621 1848h15v13h-15zM680 1848h15v13h-15zM487 1861h15v12h-15zM547 1861h14v12h-14zM636 1861h29v12h-29zM695 1861h15v12h-15zM1155 1861h29v12h-29zM1303 1861h15v12h-15zM487 1873h30v13h-30zM636 1873h14v13h-14zM665 1873h30v13h-30zM710 1873h15v13h-15zM784 1873h15v13h-15zM1066 1873h15v13h-15zM1170 1873h14v13h-14zM636 1886h44v13h-44zM710 1886h15v13h-15zM739 1886h15v13h-15zM799 1886h15v13h-15zM532 1899h15v13h-15zM650 1899h45v13h-45zM739 1899h15v13h-15zM814 1899h29v13h-29zM858 1899h15v13h-15zM1214 1899h15v13h-15zM665 1912h60v12h-60zM873 1912h15v12h-15zM992 1912h14v12h-14zM1214 1912h15v12h-15zM413 1924h15v13h-15zM650 1924h75v13h-75zM1066 1924h15v13h-15zM413 1937h15v13h-15zM695 1937h15v13h-15zM873 1937h15v13h-15zM1066 1937h15v13h-15zM369 1950h14v13h-14zM428 1950h15v13h-15zM547 1950h14v13h-14zM576 1950h15v13h-15zM650 1950h60v13h-60zM739 1950h15v13h-15zM398 1963h15v12h-15zM576 1963h30v12h-30zM650 1963h15v12h-15zM695 1963h15v12h-15zM576 1975h15v13h-15zM621 1975h15v13h-15zM650 1975h15v13h-15zM680 1975h15v13h-15zM754 1975h45v13h-45zM873 1975h59v13h-59zM710 1988h44v13h-44zM873 1988h15v13h-15zM903 1988h14v13h-14zM932 1988h45v13h-45zM665 2001h15v13h-15zM695 2001h15v13h-15zM725 2001h74v13h-74zM843 2001h30v13h-30zM947 2001h30v13h-30zM695 2014h44v12h-44zM754 2014h74v12h-74zM858 2014h30v12h-30zM932 2014h15v12h-15zM962 2014h15v12h-15zM710 2026h15v13h-15zM754 2026h149v13h-149zM932 2026h15v13h-15zM754 2039h45v13h-45zM828 2039h45v13h-45zM665 2052h15v12h-15zM725 2052h14v12h-14zM769 2052h15v12h-15zM814 2052h14v12h-14zM680 2064h30v13h-30zM739 2064h30v13h-30zM695 2077h15v13h-15zM725 2077h14v13h-14zM680 2090h15v13h-15zM725 2090h14v13h-14zM725 2103h14v12h-14z"/>
<path fill="#054268" d="M873 969h15v13h-15zM1006 982h15v13h-15zM360 1084h9v13h-9zM360 1097h9v12h-9zM591 1097h15v12h-15zM932 1097h15v12h-15zM591 1109h15v13h-15zM621 1109h15v13h-15zM843 1109h15v13h-15zM858 1122h15v13h-15zM962 1122h15v13h-15zM888 1135h15v12h-15zM1006 1173h15v13h-15zM1466 1326h15v13h-15zM1451 1364h15v13h-15zM1095 1377h15v12h-15zM1496 1377h15v12h-15zM1333 1389h15v13h-15zM1377 1389h15v13h-15zM1451 1402h15v13h-15zM903 1453h14v13h-14zM1021 1466h15v13h-15zM814 1479h14v12h-14zM1021 1479h15v12h-15zM1362 1491h15v13h-15zM1318 1530h15v12h-15zM1229 1555h15v13h-15zM1125 1568h15v13h-15zM591 1619h15v12h-15zM977 1631h15v13h-15zM1066 1631h15v13h-15zM1466 1631h15v13h-15zM799 1644h15v13h-15zM828 1644h15v13h-15zM1555 1670h15v12h-15zM487 1695h15v13h-15zM1511 1695h15v13h-15zM1036 1708h15v13h-15zM1125 1721h15v12h-15zM1155 1721h29v12h-29zM1288 1721h15v12h-15zM1229 1733h15v13h-15zM1377 1733h15v13h-15zM710 1746h15v13h-15zM992 1784h14v13h-14zM1095 1784h15v13h-15zM1407 1784h15v13h-15zM1140 1797h15v13h-15zM1362 1797h15v13h-15zM487 1822h15v13h-15zM1140 1835h15v13h-15zM636 1848h14v13h-14zM1288 1848h15v13h-15zM398 1861h15v12h-15zM947 1861h15v12h-15zM428 1873h15v13h-15zM977 1886h15v13h-15zM650 1912h15v12h-15zM636 1924h14v13h-14zM843 1924h15v13h-15zM1125 1924h15v13h-15zM1229 1924h15v13h-15zM977 1950h15v13h-15zM1036 1950h15v13h-15zM1095 1950h15v13h-15zM413 1963h15v12h-15zM547 1963h14v12h-14zM1095 1963h15v12h-15zM1095 1975h15v13h-15zM888 2001h15v13h-15z"/>
<path fill="#333883" d="M888 969h15v13h-15zM784 1033h15v13h-15zM695 1084h15v13h-15zM903 1097h14v12h-14zM947 1097h15v12h-15zM517 1109h15v13h-15zM799 1109h15v13h-15zM873 1109h15v13h-15zM680 1122h15v13h-15zM487 1135h15v12h-15zM547 1135h14v12h-14zM636 1135h14v12h-14zM947 1135h15v12h-15zM977 1135h15v12h-15zM502 1147h15v13h-15zM532 1147h29v13h-29zM458 1160h29v13h-29zM576 1160h15v13h-15zM814 1160h14v13h-14zM917 1160h15v13h-15zM561 1173h15v13h-15zM828 1186h15v12h-15zM383 1198h15v13h-15zM636 1198h14v13h-14zM369 1211h14v13h-14zM843 1211h15v13h-15zM932 1211h15v13h-15zM992 1211h14v13h-14zM398 1224h15v13h-15zM369 1237h14v12h-14zM413 1237h15v12h-15zM814 1237h14v12h-14zM784 1249h15v13h-15zM828 1249h15v13h-15zM428 1262h15v13h-15zM784 1288h15v12h-15zM814 1288h14v12h-14zM665 1300h15v13h-15zM665 1313h15v13h-15zM814 1313h14v13h-14zM962 1313h15v13h-15zM1006 1313h15v13h-15zM606 1326h15v13h-15zM665 1326h15v13h-15zM769 1326h15v13h-15zM799 1326h15v13h-15zM621 1339h15v12h-15zM710 1339h15v12h-15zM932 1339h15v12h-15zM487 1351h15v13h-15zM576 1351h15v13h-15zM636 1351h29v13h-29zM695 1351h15v13h-15zM992 1351h44v13h-44zM710 1364h15v13h-15zM858 1364h15v13h-15zM1066 1364h29v13h-29zM472 1377h15v12h-15zM591 1377h30v12h-30zM784 1389h15v13h-15zM606 1402h15v13h-15zM769 1402h15v13h-15zM591 1415h15v13h-15zM769 1415h15v13h-15zM532 1428h15v12h-15zM532 1440h29v13h-29zM576 1453h15v13h-15zM784 1453h15v13h-15zM814 1453h29v13h-29zM561 1466h15v13h-15zM814 1466h14v13h-14zM360 1479h9v12h-9zM413 1479h30v12h-30zM517 1479h30v12h-30zM561 1479h30v12h-30zM606 1504h15v13h-15zM398 1517h15v13h-15zM636 1517h14v13h-14zM665 1530h15v12h-15zM725 1530h14v12h-14zM754 1530h15v12h-15zM369 1670h29v12h-29zM1170 1670h14v12h-14zM383 1682h15v13h-15zM383 1708h15v13h-15zM383 1746h15v13h-15zM398 1759h15v13h-15zM1184 2052h15v12h-15z"/>
<path fill="#1f397a" d="M947 969h30v13h-30zM932 995h15v12h-15zM977 1046h15v12h-15zM547 1097h14v12h-14zM858 1097h15v12h-15zM443 1122h15v13h-15zM472 1122h30v13h-30zM547 1122h44v13h-44zM458 1135h29v12h-29zM517 1135h15v12h-15zM458 1147h14v13h-14zM561 1147h15v13h-15zM814 1147h14v13h-14zM932 1147h30v13h-30zM977 1147h15v13h-15zM398 1160h30v13h-30zM487 1160h15v13h-15zM532 1160h15v13h-15zM858 1160h30v13h-30zM443 1173h29v13h-29zM547 1173h14v13h-14zM814 1173h14v13h-14zM383 1186h15v12h-15zM903 1186h14v12h-14zM977 1211h15v13h-15zM799 1224h15v13h-15zM383 1237h15v12h-15zM428 1237h15v12h-15zM799 1237h15v12h-15zM858 1249h30v13h-30zM369 1262h29v13h-29zM443 1262h15v13h-15zM828 1262h15v13h-15zM428 1275h30v13h-30zM828 1275h15v13h-15zM992 1288h14v12h-14zM754 1300h15v13h-15zM784 1300h15v13h-15zM992 1300h14v13h-14zM739 1313h45v13h-45zM977 1313h15v13h-15zM591 1326h15v13h-15zM725 1326h14v13h-14zM784 1326h15v13h-15zM947 1339h30v12h-30zM992 1339h14v12h-14zM606 1351h15v13h-15zM665 1351h15v13h-15zM680 1364h15v13h-15zM1021 1364h15v13h-15zM487 1377h15v12h-15zM547 1377h14v12h-14zM650 1377h15v12h-15zM636 1389h14v13h-14zM784 1402h15v13h-15zM532 1415h15v13h-15zM784 1428h15v12h-15zM799 1440h29v13h-29zM547 1479h14v12h-14zM383 1491h15v13h-15zM413 1491h15v13h-15zM487 1491h15v13h-15zM532 1491h15v13h-15zM576 1491h15v13h-15zM383 1517h15v13h-15zM710 1530h15v12h-15zM739 1542h30v13h-30zM413 1555h15v13h-15zM1095 1619h15v12h-15zM1214 1670h15v12h-15zM1066 1682h15v13h-15zM1066 1708h15v13h-15zM1140 1708h15v13h-15zM1259 1708h14v13h-14zM383 1721h15v12h-15zM398 1733h15v13h-15zM1081 1733h14v13h-14zM1199 1733h30v13h-30zM1125 1746h15v13h-15zM413 1759h15v13h-15zM1377 1772h15v12h-15zM1407 1772h15v12h-15zM1244 1861h15v12h-15zM1081 1899h14v13h-14zM1095 1912h15v12h-15zM1244 1912h15v12h-15zM1155 1924h15v13h-15zM1184 1924h15v13h-15zM1125 1937h15v13h-15zM1184 1937h15v13h-15zM1051 1950h30v13h-30zM1288 1950h15v13h-15zM1081 1963h14v12h-14zM1155 2014h15v12h-15z"/>
<path fill="#173a77" d="M992 969h14v13h-14zM576 1097h15v12h-15zM547 1109h14v13h-14zM576 1109h15v13h-15zM858 1109h15v13h-15zM398 1122h15v13h-15zM828 1122h15v13h-15zM413 1135h15v12h-15zM828 1135h15v12h-15zM873 1135h15v12h-15zM413 1147h15v13h-15zM858 1147h15v13h-15zM888 1147h29v13h-29zM858 1186h15v12h-15zM858 1211h15v13h-15zM917 1211h15v13h-15zM858 1224h15v13h-15zM858 1237h15v12h-15zM903 1237h14v12h-14zM917 1249h15v13h-15zM1006 1288h15v12h-15zM695 1300h15v13h-15zM1021 1313h15v13h-15zM576 1339h30v12h-30zM532 1351h15v13h-15zM621 1351h15v13h-15zM932 1351h15v13h-15zM1051 1351h15v13h-15zM888 1364h29v13h-29zM977 1364h29v13h-29zM843 1377h60v12h-60zM532 1389h15v13h-15zM828 1389h15v13h-15zM873 1389h15v13h-15zM799 1402h15v13h-15zM799 1428h15v12h-15zM561 1453h15v13h-15zM458 1491h14v13h-14zM428 1504h15v13h-15zM487 1504h30v13h-30zM547 1504h14v13h-14zM369 1517h14v13h-14zM428 1517h30v13h-30zM576 1517h15v13h-15zM369 1530h14v12h-14zM443 1530h15v12h-15zM561 1530h30v12h-30zM636 1530h14v12h-14zM360 1542h23v13h-23zM428 1542h15v13h-15zM606 1542h15v13h-15zM665 1542h30v13h-30zM710 1542h29v13h-29zM383 1555h15v13h-15zM428 1555h15v13h-15zM695 1555h15v13h-15zM725 1555h29v13h-29zM383 1568h15v13h-15zM606 1568h15v13h-15zM383 1581h30v12h-30zM428 1581h15v12h-15zM621 1581h15v12h-15zM369 1593h14v13h-14zM398 1593h30v13h-30zM917 1593h15v13h-15zM428 1606h30v13h-30zM932 1606h15v13h-15zM360 1619h68v12h-68zM443 1619h29v12h-29zM1184 1619h15v12h-15zM360 1631h9v13h-9zM383 1631h15v13h-15zM413 1631h15v13h-15zM443 1631h15v13h-15zM472 1631h15v13h-15zM398 1644h60v13h-60zM472 1644h15v13h-15zM360 1657h9v13h-9zM383 1657h15v13h-15zM413 1657h30v13h-30zM398 1670h74v12h-74zM413 1682h30v13h-30zM443 1695h15v13h-15zM428 1708h15v13h-15zM1021 1708h15v13h-15zM413 1721h45v12h-45zM428 1733h15v13h-15zM1333 1746h15v13h-15zM428 1759h15v13h-15zM1318 1759h15v13h-15zM1348 1759h14v13h-14zM458 1772h14v12h-14zM1392 1772h15v12h-15zM413 1797h15v13h-15zM443 1797h15v13h-15zM369 1810h14v12h-14zM443 1810h15v12h-15zM369 1822h29v13h-29zM383 1848h15v13h-15zM1229 1861h15v12h-15zM1110 1873h15v13h-15zM932 1886h15v13h-15zM769 1912h15v12h-15zM799 1937h15v13h-15zM502 1988h15v13h-15zM428 2001h15v13h-15zM458 2001h14v13h-14zM487 2001h15v13h-15zM517 2001h30v13h-30zM561 2001h15v13h-15zM591 2001h15v13h-15zM413 2014h15v12h-15zM458 2014h44v12h-44zM517 2014h89v12h-89zM621 2014h15v12h-15zM413 2026h15v13h-15zM443 2026h15v13h-15zM472 2026h30v13h-30zM561 2026h15v13h-15zM591 2026h15v13h-15zM383 2039h45v13h-45zM443 2039h29v13h-29zM502 2039h15v13h-15zM532 2039h15v13h-15zM398 2052h15v12h-15zM428 2052h15v12h-15zM472 2052h75v12h-75zM383 2064h15v13h-15zM428 2064h44v13h-44zM502 2064h15v13h-15zM547 2064h14v13h-14zM591 2064h15v13h-15zM360 2077h83v13h-83zM458 2077h14v13h-14zM517 2077h59v13h-59zM591 2077h15v13h-15zM360 2090h9v13h-9zM398 2090h30v13h-30zM443 2090h44v13h-44zM383 2103h60v12h-60zM547 2103h14v12h-14zM621 2103h15v12h-15zM650 2103h15v12h-15zM383 2115h60v13h-60zM458 2115h14v13h-14zM517 2115h15v13h-15zM591 2115h15v13h-15zM517 2128h15v13h-15zM547 2128h14v13h-14zM591 2128h15v13h-15zM621 2128h15v13h-15zM383 2141h30v13h-30zM458 2141h14v13h-14zM383 2154h15v6h-15z"/>
<path fill="#166b40" d="M799 982h15v13h-15zM828 982h15v13h-15zM1006 1020h15v13h-15zM799 1058h15v13h-15zM784 1071h15v13h-15zM992 1071h14v13h-14zM1006 1084h15v13h-15zM962 1109h30v13h-30zM1021 1147h15v13h-15zM1081 1224h14v13h-14zM1125 1237h15v12h-15zM1140 1249h15v13h-15zM1081 1262h14v13h-14zM1125 1275h45v13h-45zM1184 1275h15v13h-15zM1170 1288h14v12h-14zM1170 1300h14v13h-14zM1437 1300h14v13h-14zM1184 1313h15v13h-15zM1362 1313h15v13h-15zM1496 1313h15v13h-15zM1377 1326h30v13h-30zM1511 1326h15v13h-15zM1125 1339h15v12h-15zM1437 1339h14v12h-14zM1511 1339h15v12h-15zM1140 1364h15v13h-15zM1392 1364h15v13h-15zM1570 1364h15v13h-15zM1392 1377h15v12h-15zM932 1389h15v13h-15zM962 1389h15v13h-15zM1125 1389h30v13h-30zM962 1402h15v13h-15zM1095 1402h15v13h-15zM1303 1402h15v13h-15zM1051 1415h15v13h-15zM1036 1428h15v12h-15zM1125 1428h15v12h-15zM1036 1440h15v13h-15zM917 1453h15v13h-15zM1259 1453h14v13h-14zM1006 1479h15v12h-15zM1051 1479h15v12h-15zM1155 1479h15v12h-15zM1229 1479h15v12h-15zM947 1491h45v13h-45zM1081 1491h14v13h-14zM1110 1491h15v13h-15zM1155 1491h15v13h-15zM1199 1491h15v13h-15zM1081 1504h29v13h-29zM1184 1504h15v13h-15zM1170 1530h14v12h-14zM1348 1542h14v13h-14zM1021 1568h15v13h-15zM1095 1568h15v13h-15zM1184 1581h15v12h-15zM1214 1593h30v13h-30zM1466 1593h15v13h-15zM1051 1619h15v12h-15zM1333 1619h15v12h-15zM665 1631h30v13h-30zM1036 1631h15v13h-15zM1273 1631h15v13h-15zM1392 1631h15v13h-15zM695 1644h15v13h-15zM1288 1644h30v13h-30zM695 1657h15v13h-15zM1318 1657h15v13h-15zM1362 1657h15v13h-15zM650 1670h15v12h-15zM680 1670h15v12h-15zM1259 1670h14v12h-14zM1407 1670h30v12h-30zM636 1682h14v13h-14zM680 1682h15v13h-15zM1318 1682h30v13h-30zM621 1695h15v13h-15zM650 1695h15v13h-15zM1288 1695h15v13h-15zM1333 1695h15v13h-15zM1422 1695h29v13h-29zM873 1708h15v13h-15zM1303 1708h15v13h-15zM1362 1708h30v13h-30zM1422 1708h15v13h-15zM888 1721h15v12h-15zM576 1746h15v13h-15zM606 1746h15v13h-15zM680 1759h15v13h-15zM799 1759h15v13h-15zM843 1759h15v13h-15zM888 1759h15v13h-15zM977 1759h15v13h-15zM1570 1759h15v13h-15zM547 1772h14v12h-14zM932 1772h30v12h-30zM1259 1772h14v12h-14zM606 1784h30v13h-30zM665 1784h15v13h-15zM769 1784h15v13h-15zM828 1784h15v13h-15zM917 1784h15v13h-15zM1036 1784h30v13h-30zM1318 1784h15v13h-15zM636 1797h14v13h-14zM799 1797h15v13h-15zM992 1797h14v13h-14zM1170 1797h14v13h-14zM650 1810h15v12h-15zM680 1810h15v12h-15zM858 1810h45v12h-45zM1021 1810h15v12h-15zM1451 1810h15v12h-15zM799 1822h15v13h-15zM843 1822h15v13h-15zM1006 1822h15v13h-15zM1170 1822h14v13h-14zM1199 1822h15v13h-15zM1259 1822h14v13h-14zM1303 1822h15v13h-15zM561 1835h15v13h-15zM710 1835h15v13h-15zM888 1835h15v13h-15zM1051 1835h15v13h-15zM1244 1835h29v13h-29zM561 1848h15v13h-15zM710 1848h15v13h-15zM858 1848h15v13h-15zM977 1848h15v13h-15zM1021 1848h15v13h-15zM1303 1848h15v13h-15zM725 1861h14v12h-14zM769 1861h15v12h-15zM932 1861h15v12h-15zM977 1861h15v12h-15zM398 1873h15v13h-15zM458 1873h14v13h-14zM576 1873h15v13h-15zM814 1873h14v13h-14zM903 1873h14v13h-14zM1199 1873h15v13h-15zM369 1886h14v13h-14zM458 1886h14v13h-14zM561 1886h15v13h-15zM828 1886h15v13h-15zM888 1886h15v13h-15zM1184 1886h15v13h-15zM428 1899h15v13h-15zM947 1899h15v13h-15zM458 1912h14v12h-14zM547 1912h14v12h-14zM606 1912h15v12h-15zM517 1924h15v13h-15zM576 1924h15v13h-15zM458 1937h14v13h-14zM487 1937h30v13h-30zM636 1937h14v13h-14z"/>
<path fill="#46368b" d="M873 982h15v13h-15zM932 982h15v13h-15zM977 982h15v13h-15zM828 1071h15v13h-15zM369 1084h14v13h-14zM517 1084h15v13h-15zM769 1084h15v13h-15zM828 1084h15v13h-15zM962 1135h15v12h-15zM369 1160h14v13h-14zM413 1173h15v13h-15zM992 1173h14v13h-14zM799 1186h15v12h-15zM532 1339h15v12h-15zM784 1440h15v13h-15z"/>
<path fill="#0a4f5c" d="M947 982h15v13h-15zM1006 1097h15v12h-15zM992 1109h14v13h-14zM992 1122h14v13h-14zM1066 1249h29v13h-29zM1066 1288h15v12h-15zM1110 1288h30v12h-30zM1140 1300h15v13h-15zM1125 1313h15v13h-15zM1451 1339h15v12h-15zM1496 1339h15v12h-15zM1437 1351h14v13h-14zM1466 1351h15v13h-15zM1481 1364h15v13h-15zM1081 1389h14v13h-14zM917 1402h15v13h-15zM977 1402h15v13h-15zM1051 1402h15v13h-15zM1318 1402h15v13h-15zM977 1415h59v13h-59zM1081 1415h14v13h-14zM1303 1415h15v13h-15zM1066 1428h15v12h-15zM1288 1428h30v12h-30zM1110 1440h15v13h-15zM1318 1440h15v13h-15zM1125 1453h15v13h-15zM1140 1466h15v13h-15zM903 1479h14v12h-14zM1066 1479h15v12h-15zM1140 1479h15v12h-15zM1318 1479h15v12h-15zM1362 1479h15v12h-15zM873 1491h15v13h-15zM903 1491h29v13h-29zM1348 1491h14v13h-14zM917 1504h15v13h-15zM1199 1504h30v13h-30zM917 1517h15v13h-15zM947 1530h15v12h-15zM1362 1530h15v12h-15zM977 1542h29v13h-29zM1318 1542h15v13h-15zM962 1555h30v13h-30zM977 1568h29v13h-29zM1110 1568h15v13h-15zM1303 1568h15v13h-15zM977 1581h44v12h-44zM1021 1593h30v13h-30zM1081 1593h14v13h-14zM1244 1593h15v13h-15zM1288 1593h15v13h-15zM621 1606h15v13h-15zM680 1606h15v13h-15zM1036 1606h45v13h-45zM1229 1606h44v13h-44zM1288 1606h15v13h-15zM1318 1606h15v13h-15zM650 1619h30v12h-30zM1006 1619h30v12h-30zM1066 1619h15v12h-15zM1288 1619h30v12h-30zM650 1631h15v13h-15zM1021 1631h15v13h-15zM1303 1631h15v13h-15zM1006 1644h60v13h-60zM1526 1644h29v13h-29zM1021 1657h15v13h-15zM1288 1657h15v13h-15zM1540 1657h15v13h-15zM591 1670h45v12h-45zM1451 1670h15v12h-15zM591 1682h15v13h-15zM962 1682h15v13h-15zM561 1695h15v13h-15zM591 1695h15v13h-15zM695 1695h15v13h-15zM739 1695h15v13h-15zM843 1695h15v13h-15zM873 1695h30v13h-30zM962 1695h15v13h-15zM1466 1695h15v13h-15zM576 1708h15v13h-15zM725 1708h14v13h-14zM814 1708h14v13h-14zM1451 1708h30v13h-30zM547 1721h14v12h-14zM769 1721h30v12h-30zM947 1721h15v12h-15zM1333 1721h15v12h-15zM1377 1721h15v12h-15zM517 1733h30v13h-30zM561 1733h15v13h-15zM591 1733h15v13h-15zM710 1733h15v13h-15zM1318 1733h15v13h-15zM1585 1733h15v13h-15zM517 1746h15v13h-15zM695 1746h15v13h-15zM769 1746h15v13h-15zM992 1746h14v13h-14zM1214 1746h15v13h-15zM517 1759h15v13h-15zM695 1759h15v13h-15zM754 1759h30v13h-30zM917 1759h30v13h-30zM1155 1759h15v13h-15zM1259 1759h14v13h-14zM576 1772h15v12h-15zM769 1772h15v12h-15zM873 1772h15v12h-15zM903 1772h14v12h-14zM1036 1772h15v12h-15zM1081 1772h14v12h-14zM547 1784h14v13h-14zM576 1784h30v13h-30zM695 1784h15v13h-15zM858 1784h15v13h-15zM888 1784h15v13h-15zM710 1797h29v13h-29zM828 1797h30v13h-30zM1348 1797h14v13h-14zM1422 1797h29v13h-29zM547 1810h14v12h-14zM621 1810h15v12h-15zM547 1822h14v13h-14zM591 1822h15v13h-15zM636 1822h14v13h-14zM1273 1822h15v13h-15zM547 1835h14v13h-14zM695 1835h15v13h-15zM1170 1835h14v13h-14zM443 1848h15v13h-15zM1170 1848h14v13h-14zM591 1861h15v12h-15zM665 1861h30v12h-30zM1288 1861h15v12h-15zM369 1873h14v13h-14zM443 1873h15v13h-15zM739 1873h15v13h-15zM769 1873h15v13h-15zM1140 1873h30v13h-30zM428 1886h15v13h-15zM502 1886h15v13h-15zM547 1886h14v13h-14zM591 1886h30v13h-30zM695 1886h15v13h-15zM754 1886h15v13h-15zM1170 1886h14v13h-14zM695 1899h15v13h-15zM1006 1899h30v13h-30zM1051 1899h15v13h-15zM1170 1899h14v13h-14zM383 1912h30v12h-30zM636 1912h14v12h-14zM843 1912h15v12h-15zM1036 1912h30v12h-30zM1036 1924h15v13h-15zM532 1937h15v13h-15zM650 1937h15v13h-15zM680 1937h15v13h-15zM858 1937h15v13h-15zM917 1937h15v13h-15zM1021 1937h15v13h-15zM458 1950h14v13h-14zM487 1950h15v13h-15zM517 1950h30v13h-30zM591 1950h15v13h-15zM710 1950h15v13h-15zM369 1963h14v12h-14zM472 1963h15v12h-15zM606 1963h15v12h-15zM636 1963h14v12h-14zM636 1975h14v13h-14zM695 1975h15v13h-15zM680 2001h15v13h-15zM680 2014h15v12h-15zM739 2014h15v12h-15zM903 2014h14v12h-14zM680 2039h15v13h-15zM739 2039h15v13h-15zM695 2052h15v12h-15zM739 2052h15v12h-15zM725 2064h14v13h-14zM710 2090h15v13h-15z"/>
<path fill="#0d5556" d="M992 982h14v13h-14zM814 1046h14v12h-14zM977 1084h15v13h-15zM1081 1198h14v13h-14zM1199 1249h15v13h-15zM1184 1262h30v13h-30zM1214 1300h15v13h-15zM1451 1300h15v13h-15zM1437 1313h14v13h-14zM1170 1326h29v13h-29zM1125 1351h15v13h-15zM1125 1377h15v12h-15zM1407 1377h15v12h-15zM888 1402h15v13h-15zM1288 1415h15v13h-15zM992 1428h14v12h-14zM1021 1428h15v12h-15zM1273 1453h15v13h-15zM1259 1466h14v13h-14zM932 1491h15v13h-15zM1214 1491h30v13h-30zM977 1504h15v13h-15zM1066 1504h15v13h-15zM1095 1517h15v13h-15zM992 1530h14v12h-14zM1348 1530h14v12h-14zM1051 1568h15v13h-15zM1081 1568h14v13h-14zM1170 1568h14v13h-14zM1318 1593h15v13h-15zM1288 1631h15v13h-15zM1407 1631h15v13h-15zM1318 1644h15v13h-15zM1392 1644h15v13h-15zM1199 1657h15v13h-15zM1422 1657h15v13h-15zM1451 1657h30v13h-30zM1288 1670h15v12h-15zM1318 1670h15v12h-15zM1348 1670h14v12h-14zM1526 1670h14v12h-14zM621 1682h15v13h-15zM665 1682h15v13h-15zM1348 1682h14v13h-14zM1318 1695h15v13h-15zM1333 1708h15v13h-15zM1392 1708h15v13h-15zM665 1721h15v12h-15zM799 1721h15v12h-15zM665 1733h30v13h-30zM636 1772h14v12h-14zM992 1772h14v12h-14zM636 1784h29v13h-29zM1333 1784h15v13h-15zM739 1797h15v13h-15zM903 1797h14v13h-14zM1155 1797h15v13h-15zM710 1810h15v12h-15zM814 1810h14v12h-14zM1303 1810h30v12h-30zM576 1822h15v13h-15zM888 1822h15v13h-15zM1021 1822h15v13h-15zM472 1873h15v13h-15zM443 1886h15v13h-15zM1199 1886h15v13h-15zM606 1899h15v13h-15zM472 1912h15v12h-15zM517 1912h15v12h-15zM547 1924h14v13h-14zM606 1924h15v13h-15zM517 1937h15v13h-15zM665 2026h15v13h-15z"/>
<path fill="#4e358f" d="M665 995h15v12h-15zM917 995h15v12h-15zM828 1033h15v13h-15zM828 1046h15v12h-15zM947 1046h15v12h-15zM947 1058h15v13h-15zM428 1071h15v13h-15zM680 1071h15v13h-15zM725 1071h14v13h-14zM917 1071h45v13h-45zM383 1084h15v13h-15zM591 1084h30v13h-30zM725 1084h14v13h-14zM873 1084h15v13h-15zM903 1084h14v13h-14zM413 1097h30v12h-30zM665 1097h30v12h-30zM739 1097h15v12h-15zM888 1097h15v12h-15zM428 1109h15v13h-15zM472 1109h15v13h-15zM769 1109h15v13h-15zM769 1147h15v13h-15zM799 1147h15v13h-15zM369 1173h14v13h-14zM947 1173h15v13h-15zM739 1186h15v12h-15zM932 1186h15v12h-15zM814 1198h14v13h-14zM962 1198h15v13h-15zM665 1211h15v13h-15zM769 1211h15v13h-15zM754 1237h15v12h-15zM962 1237h15v12h-15zM992 1249h14v13h-14zM360 1262h9v13h-9zM532 1262h29v13h-29zM636 1262h14v13h-14zM547 1275h29v13h-29zM962 1275h15v13h-15zM621 1288h29v12h-29zM725 1288h14v12h-14zM428 1300h15v13h-15zM458 1300h14v13h-14zM636 1300h14v13h-14zM917 1326h15v13h-15zM487 1339h15v12h-15zM739 1339h15v12h-15zM828 1339h15v12h-15zM547 1351h14v13h-14zM814 1351h14v13h-14zM799 1377h29v12h-29zM472 1402h15v13h-15zM502 1402h15v13h-15zM561 1402h15v13h-15zM383 1415h15v13h-15zM472 1415h15v13h-15zM710 1415h15v13h-15zM725 1428h14v12h-14zM769 1440h15v13h-15zM360 1453h23v13h-23zM458 1466h14v13h-14zM472 1479h15v12h-15zM665 1491h15v13h-15z"/>
<path fill="#0b3b71" d="M784 995h15v12h-15zM754 1020h15v13h-15zM814 1058h14v13h-14zM873 1224h30v13h-30zM1021 1224h15v13h-15zM873 1237h15v12h-15zM1021 1237h15v12h-15zM1036 1262h15v13h-15zM1036 1275h15v13h-15zM1036 1313h59v13h-59zM680 1326h15v13h-15zM1021 1326h15v13h-15zM680 1339h15v12h-15zM1095 1339h15v12h-15zM502 1364h30v13h-30zM917 1364h15v13h-15zM1006 1377h30v12h-30zM1051 1377h30v12h-30zM1615 1377h29v12h-29zM888 1389h15v13h-15zM1511 1389h15v13h-15zM1540 1389h15v13h-15zM1644 1389h15v13h-15zM843 1402h15v13h-15zM873 1402h15v13h-15zM903 1402h14v13h-14zM1526 1402h14v13h-14zM1600 1402h15v13h-15zM1629 1402h15v13h-15zM799 1415h29v13h-29zM858 1415h15v13h-15zM1451 1415h15v13h-15zM1600 1415h29v13h-29zM1659 1415h15v13h-15zM828 1428h45v12h-45zM888 1428h15v12h-15zM1585 1428h74v12h-74zM858 1440h15v13h-15zM1392 1453h15v13h-15zM360 1466h9v13h-9zM858 1466h15v13h-15zM1555 1466h30v13h-30zM1615 1466h14v13h-14zM828 1479h30v12h-30zM1526 1479h14v12h-14zM1600 1479h29v12h-29zM1644 1479h45v12h-45zM1496 1491h30v13h-30zM1540 1491h15v13h-15zM1585 1491h30v13h-30zM1644 1491h15v13h-15zM1674 1491h15v13h-15zM443 1504h15v13h-15zM1615 1504h14v13h-14zM1659 1504h30v13h-30zM487 1517h15v13h-15zM547 1517h14v13h-14zM769 1517h15v13h-15zM1244 1517h15v13h-15zM1511 1517h15v13h-15zM1570 1517h15v13h-15zM458 1530h29v12h-29zM532 1530h15v12h-15zM621 1530h15v12h-15zM1244 1530h44v12h-44zM1526 1530h14v12h-14zM502 1542h15v13h-15zM532 1542h44v13h-44zM621 1542h29v13h-29zM799 1542h15v13h-15zM858 1542h15v13h-15zM1244 1542h15v13h-15zM1481 1542h15v13h-15zM532 1555h15v13h-15zM561 1555h15v13h-15zM636 1555h59v13h-59zM769 1555h30v13h-30zM873 1555h15v13h-15zM458 1568h29v13h-29zM502 1568h15v13h-15zM561 1568h15v13h-15zM591 1568h15v13h-15zM636 1568h163v13h-163zM858 1568h15v13h-15zM360 1581h9v12h-9zM472 1581h30v12h-30zM517 1581h30v12h-30zM561 1581h15v12h-15zM636 1581h14v12h-14zM710 1581h29v12h-29zM769 1581h104v12h-104zM917 1581h15v12h-15zM1511 1581h15v12h-15zM1600 1581h15v12h-15zM360 1593h9v13h-9zM458 1593h14v13h-14zM487 1593h15v13h-15zM547 1593h14v13h-14zM576 1593h45v13h-45zM739 1593h15v13h-15zM769 1593h15v13h-15zM828 1593h30v13h-30zM888 1593h15v13h-15zM1555 1593h30v13h-30zM1600 1593h15v13h-15zM1644 1593h15v13h-15zM458 1606h29v13h-29zM517 1606h59v13h-59zM725 1606h44v13h-44zM888 1606h15v13h-15zM962 1606h30v13h-30zM1511 1606h15v13h-15zM1600 1606h15v13h-15zM1629 1606h15v13h-15zM487 1619h30v12h-30zM561 1619h15v12h-15zM754 1619h15v12h-15zM1585 1619h30v12h-30zM1644 1619h30v12h-30zM1704 1619h14v12h-14zM517 1631h44v13h-44zM739 1631h15v13h-15zM1600 1631h15v13h-15zM1644 1631h15v13h-15zM487 1644h15v13h-15zM754 1644h15v13h-15zM784 1644h15v13h-15zM962 1644h30v13h-30zM1629 1644h15v13h-15zM1659 1644h15v13h-15zM1704 1644h14v13h-14zM502 1657h15v13h-15zM754 1657h30v13h-30zM1066 1657h15v13h-15zM1733 1657h15v13h-15zM1778 1657h15v13h-15zM487 1670h15v12h-15zM517 1670h15v12h-15zM843 1670h30v12h-30zM903 1670h29v12h-29zM1674 1670h15v12h-15zM1704 1670h14v12h-14zM1733 1670h15v12h-15zM487 1682h15v13h-15zM517 1682h15v13h-15zM799 1682h15v13h-15zM1600 1682h15v13h-15zM1659 1682h15v13h-15zM1036 1695h15v13h-15zM1066 1695h15v13h-15zM1689 1695h15v13h-15zM458 1708h14v13h-14zM1125 1708h15v13h-15zM458 1721h14v12h-14zM1184 1721h15v12h-15zM1511 1721h15v12h-15zM443 1733h15v13h-15zM1244 1733h15v13h-15zM1481 1733h15v13h-15zM1511 1733h44v13h-44zM443 1746h15v13h-15zM1348 1746h14v13h-14zM1407 1746h30v13h-30zM1481 1746h45v13h-45zM1540 1746h15v13h-15zM458 1759h29v13h-29zM1362 1759h15v13h-15zM472 1772h15v12h-15zM1051 1772h15v12h-15zM1437 1772h14v12h-14zM1125 1784h15v13h-15zM458 1797h29v13h-29zM472 1810h15v12h-15zM1081 1810h14v12h-14zM458 1822h14v13h-14zM398 1835h15v13h-15zM517 1835h15v13h-15zM398 1848h15v13h-15zM1006 1861h15v12h-15zM1036 1861h15v12h-15zM1259 1861h14v12h-14zM917 1886h15v13h-15zM1081 1886h14v13h-14zM1244 1886h15v13h-15zM1244 1899h15v13h-15zM799 1912h15v12h-15zM360 1924h9v13h-9zM814 1924h14v13h-14zM814 1937h14v13h-14zM962 1937h15v13h-15zM992 1937h14v13h-14zM1140 1937h30v13h-30zM1199 1937h30v13h-30zM814 1950h14v13h-14zM888 1950h15v13h-15zM917 1950h15v13h-15zM947 1950h15v13h-15zM1199 1950h15v13h-15zM873 1963h30v12h-30zM1155 1963h15v12h-15zM487 1975h15v13h-15zM1125 1975h15v13h-15zM1155 1975h29v13h-29zM472 1988h15v13h-15zM799 1988h15v13h-15zM1081 1988h14v13h-14zM1125 1988h45v13h-45zM636 2001h14v13h-14zM650 2039h15v13h-15z"/>
<path fill="#0f3b73" d="M814 995h14v12h-14zM680 1007h15v13h-15zM710 1084h15v13h-15zM502 1097h15v12h-15zM917 1097h15v12h-15zM932 1122h15v13h-15zM695 1135h15v12h-15zM903 1135h14v12h-14zM992 1198h14v13h-14zM873 1211h15v13h-15zM888 1237h15v12h-15zM1021 1288h15v12h-15zM680 1300h15v13h-15zM695 1313h15v13h-15zM1036 1339h15v12h-15zM947 1351h15v13h-15zM962 1364h15v13h-15zM1006 1364h15v13h-15zM502 1377h15v12h-15zM1036 1377h15v12h-15zM1006 1389h15v13h-15zM1629 1389h15v13h-15zM828 1402h15v13h-15zM888 1415h15v13h-15zM561 1428h15v12h-15zM1570 1428h15v12h-15zM843 1440h15v13h-15zM1555 1440h15v13h-15zM1615 1453h14v13h-14zM443 1491h15v13h-15zM517 1491h15v13h-15zM784 1491h15v13h-15zM1555 1491h15v13h-15zM458 1504h14v13h-14zM769 1504h15v13h-15zM1540 1504h15v13h-15zM472 1517h15v13h-15zM591 1530h30v12h-30zM784 1530h15v12h-15zM1540 1530h15v12h-15zM472 1542h15v13h-15zM576 1542h15v13h-15zM650 1542h15v13h-15zM784 1542h15v13h-15zM591 1555h15v13h-15zM710 1555h15v13h-15zM517 1568h15v13h-15zM547 1568h14v13h-14zM828 1568h15v13h-15zM903 1568h14v13h-14zM369 1581h14v12h-14zM443 1581h15v12h-15zM903 1581h14v12h-14zM710 1593h15v13h-15zM799 1593h15v13h-15zM1170 1593h14v13h-14zM487 1606h15v13h-15zM858 1606h15v13h-15zM472 1619h15v12h-15zM1214 1619h15v12h-15zM947 1631h15v13h-15zM1081 1631h14v13h-14zM487 1657h15v13h-15zM799 1670h15v12h-15zM828 1670h15v12h-15zM1629 1670h30v12h-30zM1689 1670h15v12h-15zM458 1682h14v13h-14zM502 1682h15v13h-15zM1006 1695h15v13h-15zM1244 1695h15v13h-15zM1377 1746h15v13h-15zM1451 1746h15v13h-15zM1125 1759h15v13h-15zM1303 1759h15v13h-15zM1392 1759h15v13h-15zM1451 1797h15v13h-15zM413 1810h15v12h-15zM1214 1835h15v13h-15zM947 1873h15v13h-15zM962 1886h15v13h-15zM917 1899h15v13h-15zM784 1924h15v13h-15zM1006 1924h15v13h-15zM977 1937h15v13h-15zM962 1950h15v13h-15zM992 1950h29v13h-29zM1170 1950h14v13h-14zM1184 1963h30v12h-30zM1184 1975h15v13h-15zM428 1988h15v13h-15zM487 1988h15v13h-15zM517 1988h59v13h-59zM606 1988h15v13h-15zM828 1988h15v13h-15zM1095 1988h30v13h-30zM413 2001h15v13h-15zM472 2001h15v13h-15zM606 2001h30v13h-30zM828 2001h15v13h-15zM1081 2001h14v13h-14zM1125 2001h30v13h-30zM606 2014h15v12h-15zM636 2052h14v12h-14zM369 2090h14v13h-14z"/>
<path fill="#084962" d="M828 995h15v12h-15zM962 1007h15v13h-15zM917 1109h30v13h-30zM1036 1249h15v13h-15zM947 1364h15v13h-15zM1006 1402h15v13h-15zM1036 1402h15v13h-15zM903 1415h14v13h-14zM1110 1428h15v12h-15zM1318 1428h15v12h-15zM1377 1428h15v12h-15zM1407 1428h15v12h-15zM1095 1440h15v13h-15zM1303 1440h15v13h-15zM1333 1440h15v13h-15zM873 1453h30v13h-30zM1110 1453h15v13h-15zM1303 1453h45v13h-45zM1362 1453h15v13h-15zM873 1466h15v13h-15zM1066 1466h44v13h-44zM1273 1466h15v13h-15zM858 1479h15v12h-15zM799 1491h29v13h-29zM843 1491h15v13h-15zM888 1491h15v13h-15zM1273 1491h45v13h-45zM814 1504h14v13h-14zM873 1504h15v13h-15zM1288 1504h15v13h-15zM799 1517h15v13h-15zM843 1517h15v13h-15zM873 1517h44v13h-44zM1081 1517h14v13h-14zM1288 1517h30v13h-30zM814 1530h29v12h-29zM903 1530h29v12h-29zM828 1542h15v13h-15zM917 1542h15v13h-15zM1199 1542h15v13h-15zM1303 1542h15v13h-15zM917 1555h45v13h-45zM1288 1555h15v13h-15zM1155 1568h15v13h-15zM1259 1568h44v13h-44zM962 1581h15v12h-15zM1288 1581h15v12h-15zM636 1593h29v13h-29zM695 1593h15v13h-15zM992 1593h14v13h-14zM1155 1593h15v13h-15zM1259 1593h14v13h-14zM665 1606h15v13h-15zM1125 1606h15v13h-15zM606 1619h15v12h-15zM814 1619h29v12h-29zM606 1631h15v13h-15zM784 1631h30v13h-30zM828 1631h45v13h-45zM932 1631h15v13h-15zM1006 1631h15v13h-15zM606 1644h15v13h-15zM843 1644h15v13h-15zM888 1644h29v13h-29zM1555 1644h15v13h-15zM606 1657h15v13h-15zM873 1657h15v13h-15zM947 1657h15v13h-15zM1036 1657h15v13h-15zM1229 1657h15v13h-15zM576 1670h15v12h-15zM873 1670h15v12h-15zM947 1670h15v12h-15zM1006 1670h15v12h-15zM1437 1670h14v12h-14zM547 1682h29v13h-29zM710 1682h29v13h-29zM873 1682h30v13h-30zM947 1682h15v13h-15zM992 1682h14v13h-14zM1051 1682h15v13h-15zM1540 1682h15v13h-15zM547 1695h14v13h-14zM710 1695h15v13h-15zM769 1695h15v13h-15zM532 1708h15v13h-15zM561 1708h15v13h-15zM784 1708h15v13h-15zM903 1708h14v13h-14zM487 1721h30v12h-30zM576 1721h15v12h-15zM502 1733h15v13h-15zM992 1733h29v13h-29zM1437 1733h14v13h-14zM487 1746h15v13h-15zM725 1746h14v13h-14zM1066 1746h15v13h-15zM710 1759h15v13h-15zM1140 1759h15v13h-15zM1170 1759h14v13h-14zM680 1772h30v12h-30zM725 1772h14v12h-14zM754 1772h15v12h-15zM517 1784h15v13h-15zM1362 1784h15v13h-15zM502 1797h15v13h-15zM917 1797h15v13h-15zM517 1810h15v12h-15zM843 1810h15v12h-15zM428 1822h15v13h-15zM532 1822h15v13h-15zM1288 1822h15v13h-15zM428 1835h15v13h-15zM621 1835h15v13h-15zM487 1848h15v13h-15zM606 1848h15v13h-15zM1273 1848h15v13h-15zM784 1861h15v12h-15zM962 1861h15v12h-15zM1140 1861h15v12h-15zM517 1873h30v13h-30zM606 1873h15v13h-15zM650 1873h15v13h-15zM695 1873h15v13h-15zM532 1886h15v13h-15zM680 1886h15v13h-15zM769 1886h15v13h-15zM843 1886h15v13h-15zM947 1886h15v13h-15zM1140 1886h15v13h-15zM710 1899h29v13h-29zM769 1899h15v13h-15zM932 1899h15v13h-15zM360 1912h9v12h-9zM1199 1912h15v12h-15zM398 1924h15v13h-15zM725 1924h14v13h-14zM1214 1924h15v13h-15zM665 1937h15v13h-15zM725 1937h14v13h-14zM1095 1937h30v13h-30zM360 1950h9v13h-9zM383 1950h15v13h-15zM858 1950h15v13h-15zM1303 1950h15v13h-15zM443 1963h29v12h-29zM487 1963h15v12h-15zM561 1963h15v12h-15zM665 1963h15v12h-15zM710 1963h104v12h-104zM591 1975h30v13h-30zM665 1975h15v13h-15zM725 1975h14v13h-14zM799 1975h15v13h-15zM947 1975h15v13h-15zM413 1988h15v13h-15zM636 1988h29v13h-29zM680 1988h30v13h-30zM754 1988h45v13h-45zM858 1988h15v13h-15zM888 1988h15v13h-15zM917 1988h15v13h-15zM710 2001h15v13h-15zM873 2001h15v13h-15zM903 2001h14v13h-14zM932 2001h15v13h-15zM977 2001h15v13h-15zM888 2014h15v12h-15zM947 2014h15v12h-15zM725 2026h14v13h-14zM917 2026h15v13h-15zM799 2039h15v13h-15zM650 2052h15v12h-15zM710 2052h15v12h-15zM799 2052h15v12h-15zM650 2064h15v13h-15zM636 2077h14v13h-14zM665 2077h15v13h-15zM739 2090h15v13h-15z"/>
<path fill="#133b75" d="M843 995h15v12h-15zM947 995h15v12h-15zM725 1007h14v13h-14zM947 1033h15v13h-15zM680 1084h15v13h-15zM739 1084h15v13h-15zM843 1122h15v13h-15zM428 1135h15v12h-15zM917 1135h15v12h-15zM888 1198h15v13h-15zM1006 1237h15v12h-15zM888 1249h15v13h-15zM814 1262h14v13h-14zM799 1275h15v13h-15zM1021 1275h15v13h-15zM1021 1300h15v13h-15zM680 1313h15v13h-15zM695 1339h15v12h-15zM1021 1339h15v12h-15zM502 1351h30v13h-30zM636 1364h14v13h-14zM591 1389h15v13h-15zM858 1389h15v13h-15zM576 1415h15v13h-15zM547 1428h14v12h-14zM576 1428h15v12h-15zM576 1440h15v13h-15zM858 1453h15v13h-15zM784 1479h15v12h-15zM360 1491h9v13h-9zM502 1491h15v13h-15zM769 1491h15v13h-15zM360 1504h9v13h-9zM472 1504h15v13h-15zM517 1504h30v13h-30zM561 1504h15v13h-15zM360 1517h9v13h-9zM517 1517h15v13h-15zM561 1517h15v13h-15zM443 1542h15v13h-15zM591 1542h15v13h-15zM695 1542h15v13h-15zM443 1555h15v13h-15zM606 1555h15v13h-15zM754 1555h15v13h-15zM369 1568h14v13h-14zM443 1568h15v13h-15zM532 1568h15v13h-15zM621 1568h15v13h-15zM458 1581h14v12h-14zM606 1581h15v12h-15zM739 1581h15v12h-15zM443 1593h15v13h-15zM502 1593h45v13h-45zM903 1593h14v13h-14zM360 1606h9v13h-9zM383 1606h15v13h-15zM903 1606h29v13h-29zM947 1606h15v13h-15zM903 1619h74v12h-74zM1140 1619h15v12h-15zM1170 1619h14v12h-14zM398 1631h15v13h-15zM428 1631h15v13h-15zM458 1631h14v13h-14zM487 1631h15v13h-15zM962 1631h15v13h-15zM360 1644h9v13h-9zM458 1644h14v13h-14zM458 1657h29v13h-29zM1081 1657h14v13h-14zM472 1670h15v12h-15zM739 1670h15v12h-15zM814 1670h14v12h-14zM398 1682h15v13h-15zM413 1695h15v13h-15zM458 1695h14v13h-14zM443 1708h15v13h-15zM1110 1708h15v13h-15zM1199 1721h15v12h-15zM413 1733h15v13h-15zM398 1746h15v13h-15zM428 1746h15v13h-15zM1318 1746h15v13h-15zM1081 1759h14v13h-14zM1333 1759h15v13h-15zM1407 1759h15v13h-15zM710 1772h15v12h-15zM458 1784h14v13h-14zM360 1810h9v12h-9zM398 1810h15v12h-15zM428 1810h15v12h-15zM458 1810h14v12h-14zM383 1835h15v13h-15zM1155 1848h15v13h-15zM1259 1848h14v13h-14zM369 1861h14v12h-14zM1006 1873h15v13h-15zM799 1924h15v13h-15zM784 1937h15v13h-15zM1244 1937h15v13h-15zM784 1950h15v13h-15zM443 1988h29v13h-29zM576 1988h30v13h-30zM443 2001h15v13h-15zM547 2001h14v13h-14zM428 2014h30v12h-30zM502 2014h15v12h-15zM636 2014h14v12h-14zM1170 2014h14v12h-14zM547 2026h14v13h-14zM576 2026h15v13h-15zM606 2026h15v13h-15zM576 2039h15v13h-15zM636 2039h14v13h-14zM487 2064h15v13h-15zM561 2064h15v13h-15zM621 2064h15v13h-15zM443 2077h15v13h-15zM428 2090h15v13h-15zM502 2090h30v13h-30zM576 2090h15v13h-15zM606 2090h15v13h-15zM369 2103h14v12h-14zM472 2103h30v12h-30zM443 2115h15v13h-15zM547 2115h29v13h-29zM621 2115h15v13h-15zM413 2128h30v13h-30zM413 2141h30v13h-30zM428 2154h15v6h-15z"/>
<path fill="#3e3788" d="M962 995h15v12h-15zM710 1020h15v13h-15zM695 1058h15v13h-15zM843 1058h15v13h-15zM754 1071h15v13h-15zM502 1084h15v13h-15zM547 1084h14v13h-14zM947 1084h15v13h-15zM487 1097h15v12h-15zM828 1097h15v12h-15zM591 1122h15v13h-15zM695 1122h15v13h-15zM873 1122h15v13h-15zM360 1135h9v12h-9zM769 1135h30v12h-30zM739 1147h15v13h-15zM680 1160h15v13h-15zM710 1160h29v13h-29zM769 1160h15v13h-15zM992 1160h14v13h-14zM591 1173h30v13h-30zM665 1173h15v13h-15zM710 1173h29v13h-29zM754 1173h15v13h-15zM561 1186h15v12h-15zM591 1186h15v12h-15zM665 1186h15v12h-15zM725 1186h14v12h-14zM962 1186h15v12h-15zM443 1198h15v13h-15zM517 1198h30v13h-30zM710 1198h15v13h-15zM784 1198h15v13h-15zM443 1211h15v13h-15zM472 1211h15v13h-15zM591 1211h59v13h-59zM695 1211h15v13h-15zM784 1211h15v13h-15zM962 1211h15v13h-15zM472 1224h30v13h-30zM561 1224h15v13h-15zM621 1224h29v13h-29zM769 1224h15v13h-15zM487 1237h15v12h-15zM517 1237h15v12h-15zM576 1237h15v12h-15zM621 1237h15v12h-15zM695 1237h15v12h-15zM725 1237h14v12h-14zM769 1237h15v12h-15zM947 1237h15v12h-15zM487 1249h45v13h-45zM547 1249h14v13h-14zM576 1249h15v13h-15zM621 1249h29v13h-29zM695 1249h15v13h-15zM962 1249h15v13h-15zM517 1262h15v13h-15zM561 1262h30v13h-30zM665 1262h15v13h-15zM739 1262h15v13h-15zM962 1262h15v13h-15zM360 1275h9v13h-9zM517 1275h15v13h-15zM591 1275h30v13h-30zM725 1275h14v13h-14zM754 1275h15v13h-15zM947 1275h15v13h-15zM502 1288h15v12h-15zM561 1288h15v12h-15zM606 1288h15v12h-15zM413 1300h15v13h-15zM472 1300h15v13h-15zM502 1300h15v13h-15zM576 1300h15v13h-15zM650 1300h15v13h-15zM873 1300h15v13h-15zM472 1313h15v13h-15zM532 1313h15v13h-15zM621 1313h29v13h-29zM888 1313h15v13h-15zM947 1313h15v13h-15zM458 1326h14v13h-14zM547 1326h14v13h-14zM650 1326h15v13h-15zM814 1326h14v13h-14zM873 1326h15v13h-15zM903 1326h14v13h-14zM932 1326h15v13h-15zM398 1339h15v12h-15zM458 1339h14v12h-14zM814 1339h14v12h-14zM383 1351h15v13h-15zM784 1351h15v13h-15zM828 1351h15v13h-15zM383 1364h15v13h-15zM769 1364h15v13h-15zM428 1377h15v12h-15zM784 1377h15v12h-15zM369 1389h14v13h-14zM472 1389h15v13h-15zM360 1402h9v13h-9zM398 1402h15v13h-15zM428 1402h15v13h-15zM576 1402h15v13h-15zM621 1402h15v13h-15zM739 1402h15v13h-15zM680 1415h30v13h-30zM725 1415h29v13h-29zM428 1428h15v12h-15zM458 1428h14v12h-14zM695 1428h15v12h-15zM739 1428h15v12h-15zM383 1440h15v13h-15zM428 1440h15v13h-15zM428 1453h15v13h-15zM487 1453h15v13h-15zM739 1453h15v13h-15zM443 1466h15v13h-15zM502 1466h15v13h-15zM665 1466h15v13h-15zM710 1466h15v13h-15zM754 1466h15v13h-15zM665 1479h15v12h-15zM695 1479h15v12h-15zM710 1491h15v13h-15zM383 1504h15v13h-15zM636 1504h29v13h-29zM769 1542h15v13h-15zM360 1721h9v12h-9zM369 1733h14v13h-14z"/>
<path fill="#3a3786" d="M977 995h15v12h-15zM725 1020h14v13h-14zM917 1033h15v13h-15zM710 1058h15v13h-15zM710 1071h15v13h-15zM710 1097h15v12h-15zM784 1122h30v13h-30zM650 1147h15v13h-15zM695 1147h30v13h-30zM784 1147h15v13h-15zM962 1147h15v13h-15zM502 1160h30v13h-30zM606 1160h15v13h-15zM650 1160h15v13h-15zM695 1160h15v13h-15zM739 1160h30v13h-30zM784 1160h15v13h-15zM932 1160h15v13h-15zM962 1160h15v13h-15zM428 1173h15v13h-15zM517 1173h15v13h-15zM621 1173h44v13h-44zM680 1173h30v13h-30zM739 1173h15v13h-15zM769 1173h15v13h-15zM917 1173h15v13h-15zM962 1173h15v13h-15zM502 1186h30v12h-30zM547 1186h14v12h-14zM576 1186h15v12h-15zM606 1186h59v12h-59zM680 1186h45v12h-45zM814 1186h14v12h-14zM917 1186h15v12h-15zM472 1198h30v13h-30zM547 1198h14v13h-14zM606 1198h30v13h-30zM650 1198h30v13h-30zM695 1198h15v13h-15zM799 1198h15v13h-15zM398 1211h45v13h-45zM458 1211h14v13h-14zM487 1211h15v13h-15zM532 1211h59v13h-59zM799 1211h15v13h-15zM947 1211h15v13h-15zM1006 1211h15v13h-15zM413 1224h15v13h-15zM443 1224h29v13h-29zM502 1224h15v13h-15zM532 1224h29v13h-29zM576 1224h15v13h-15zM784 1224h15v13h-15zM992 1224h14v13h-14zM398 1237h15v12h-15zM458 1237h29v12h-29zM502 1237h15v12h-15zM532 1237h44v12h-44zM591 1237h30v12h-30zM710 1237h15v12h-15zM828 1237h15v12h-15zM383 1249h15v13h-15zM561 1249h15v13h-15zM591 1249h30v13h-30zM710 1249h15v13h-15zM739 1249h15v13h-15zM769 1249h15v13h-15zM947 1249h15v13h-15zM472 1262h45v13h-45zM591 1262h30v13h-30zM680 1262h15v13h-15zM710 1262h29v13h-29zM754 1262h30v13h-30zM369 1275h14v13h-14zM398 1275h15v13h-15zM502 1275h15v13h-15zM576 1275h15v13h-15zM665 1275h15v13h-15zM695 1275h30v13h-30zM843 1275h15v13h-15zM932 1275h15v13h-15zM977 1275h15v13h-15zM383 1288h60v12h-60zM472 1288h30v12h-30zM532 1288h15v12h-15zM576 1288h15v12h-15zM650 1288h45v12h-45zM710 1288h15v12h-15zM858 1288h15v12h-15zM962 1288h30v12h-30zM369 1300h14v13h-14zM487 1300h15v13h-15zM517 1300h15v13h-15zM547 1300h14v13h-14zM591 1300h30v13h-30zM725 1300h29v13h-29zM413 1313h30v13h-30zM487 1313h45v13h-45zM547 1313h14v13h-14zM576 1313h15v13h-15zM606 1313h15v13h-15zM650 1313h15v13h-15zM710 1313h15v13h-15zM828 1313h15v13h-15zM873 1313h15v13h-15zM398 1326h60v13h-60zM472 1326h60v13h-60zM621 1326h29v13h-29zM754 1326h15v13h-15zM888 1326h15v13h-15zM472 1339h15v12h-15zM547 1339h29v12h-29zM650 1339h15v12h-15zM799 1339h15v12h-15zM858 1339h30v12h-30zM398 1351h15v13h-15zM428 1351h44v13h-44zM739 1351h30v13h-30zM799 1351h15v13h-15zM858 1351h15v13h-15zM888 1351h15v13h-15zM360 1364h9v13h-9zM398 1364h45v13h-45zM547 1364h44v13h-44zM739 1364h30v13h-30zM843 1364h15v13h-15zM360 1377h38v12h-38zM413 1377h15v12h-15zM443 1377h29v12h-29zM665 1377h15v12h-15zM695 1377h15v12h-15zM725 1377h14v12h-14zM754 1377h30v12h-30zM383 1389h89v13h-89zM665 1389h89v13h-89zM769 1389h15v13h-15zM413 1402h15v13h-15zM443 1402h15v13h-15zM650 1402h45v13h-45zM725 1402h14v13h-14zM754 1402h15v13h-15zM398 1415h30v13h-30zM443 1415h15v13h-15zM606 1415h30v13h-30zM650 1415h30v13h-30zM398 1428h30v12h-30zM443 1428h15v12h-15zM472 1428h15v12h-15zM517 1428h15v12h-15zM606 1428h15v12h-15zM636 1428h14v12h-14zM665 1428h30v12h-30zM754 1428h30v12h-30zM472 1440h15v13h-15zM517 1440h15v13h-15zM606 1440h163v13h-163zM383 1453h45v13h-45zM443 1453h44v13h-44zM502 1453h15v13h-15zM591 1453h45v13h-45zM650 1453h30v13h-30zM695 1453h30v13h-30zM754 1453h30v13h-30zM369 1466h14v13h-14zM398 1466h15v13h-15zM428 1466h15v13h-15zM547 1466h14v13h-14zM591 1466h15v13h-15zM636 1466h29v13h-29zM680 1466h30v13h-30zM739 1466h15v13h-15zM458 1479h14v12h-14zM591 1479h45v12h-45zM650 1479h15v12h-15zM710 1479h59v12h-59zM591 1491h74v13h-74zM725 1491h14v13h-14zM621 1504h15v13h-15zM710 1504h29v13h-29zM665 1517h30v13h-30zM739 1517h15v13h-15zM843 1657h15v13h-15zM369 1682h14v13h-14zM360 1708h23v13h-23zM369 1721h14v12h-14zM360 1733h9v13h-9z"/>
<path fill="#073c70" d="M769 1007h15v13h-15zM917 1084h30v13h-30zM814 1097h14v12h-14zM532 1109h15v13h-15zM369 1147h14v13h-14zM383 1160h15v13h-15zM903 1224h14v13h-14zM917 1262h15v13h-15zM1036 1288h15v12h-15zM1036 1300h45v13h-45zM1036 1326h15v13h-15zM1066 1326h29v13h-29zM1066 1339h15v12h-15zM903 1377h29v12h-29zM1600 1377h15v12h-15zM1644 1377h15v12h-15zM992 1389h14v13h-14zM1036 1389h15v13h-15zM1526 1389h14v13h-14zM591 1402h15v13h-15zM858 1402h15v13h-15zM1392 1402h45v13h-45zM828 1415h30v13h-30zM873 1415h15v13h-15zM1348 1415h29v13h-29zM1392 1415h30v13h-30zM1629 1415h15v13h-15zM1377 1440h30v13h-30zM1437 1440h14v13h-14zM1570 1440h30v13h-30zM1066 1453h15v13h-15zM1540 1453h75v13h-75zM1644 1453h30v13h-30zM784 1466h15v13h-15zM1585 1466h30v13h-30zM1629 1466h15v13h-15zM1659 1466h15v13h-15zM1689 1466h15v13h-15zM1511 1479h15v12h-15zM1570 1479h30v12h-30zM1526 1491h14v13h-14zM1570 1491h15v13h-15zM1615 1491h29v13h-29zM1659 1491h15v13h-15zM784 1504h15v13h-15zM1259 1504h14v13h-14zM1303 1504h15v13h-15zM1511 1504h15v13h-15zM1555 1504h60v13h-60zM1644 1504h15v13h-15zM458 1517h14v13h-14zM532 1517h15v13h-15zM1214 1517h15v13h-15zM1259 1517h29v13h-29zM1496 1517h15v13h-15zM1526 1517h29v13h-29zM1585 1517h15v13h-15zM1629 1517h15v13h-15zM487 1530h15v12h-15zM517 1530h15v12h-15zM547 1530h14v12h-14zM843 1530h30v12h-30zM1214 1530h30v12h-30zM1288 1530h15v12h-15zM1511 1530h15v12h-15zM1555 1530h15v12h-15zM458 1542h14v13h-14zM487 1542h15v13h-15zM517 1542h15v13h-15zM843 1542h15v13h-15zM1259 1542h14v13h-14zM1288 1542h15v13h-15zM1511 1542h15v13h-15zM1555 1542h30v13h-30zM458 1555h74v13h-74zM547 1555h14v13h-14zM576 1555h15v13h-15zM621 1555h15v13h-15zM799 1555h29v13h-29zM888 1555h15v13h-15zM1244 1555h29v13h-29zM1496 1555h15v13h-15zM1526 1555h29v13h-29zM487 1568h15v13h-15zM576 1568h15v13h-15zM799 1568h29v13h-29zM873 1568h30v13h-30zM917 1568h30v13h-30zM1481 1568h15v13h-15zM1526 1568h29v13h-29zM502 1581h15v12h-15zM576 1581h30v12h-30zM665 1581h45v12h-45zM754 1581h15v12h-15zM873 1581h30v12h-30zM1540 1581h45v12h-45zM1629 1581h15v12h-15zM1659 1581h45v12h-45zM472 1593h15v13h-15zM561 1593h15v13h-15zM621 1593h15v13h-15zM725 1593h14v13h-14zM754 1593h15v13h-15zM784 1593h15v13h-15zM858 1593h30v13h-30zM932 1593h30v13h-30zM1496 1593h59v13h-59zM1615 1593h14v13h-14zM1659 1593h15v13h-15zM502 1606h15v13h-15zM576 1606h30v13h-30zM710 1606h15v13h-15zM769 1606h89v13h-89zM1095 1606h15v13h-15zM1140 1606h15v13h-15zM1526 1606h59v13h-59zM1615 1606h14v13h-14zM1644 1606h15v13h-15zM517 1619h44v12h-44zM725 1619h29v12h-29zM769 1619h30v12h-30zM977 1619h15v12h-15zM1199 1619h15v12h-15zM1229 1619h15v12h-15zM1481 1619h30v12h-30zM1540 1619h45v12h-45zM1615 1619h29v12h-29zM502 1631h15v13h-15zM561 1631h30v13h-30zM725 1631h14v13h-14zM754 1631h15v13h-15zM1615 1631h29v13h-29zM1659 1631h15v13h-15zM517 1644h59v13h-59zM725 1644h29v13h-29zM1615 1644h14v13h-14zM517 1657h59v13h-59zM725 1657h29v13h-29zM784 1657h15v13h-15zM858 1657h15v13h-15zM977 1657h15v13h-15zM1615 1657h29v13h-29zM1659 1657h15v13h-15zM1704 1657h29v13h-29zM1748 1657h15v13h-15zM502 1670h15v12h-15zM532 1670h29v12h-29zM725 1670h14v12h-14zM754 1670h45v12h-45zM888 1670h15v12h-15zM962 1670h15v12h-15zM1615 1670h14v12h-14zM1748 1670h15v12h-15zM472 1682h15v13h-15zM532 1682h15v13h-15zM754 1682h45v13h-45zM814 1682h29v13h-29zM917 1682h15v13h-15zM1021 1682h30v13h-30zM1615 1682h44v13h-44zM1689 1682h15v13h-15zM502 1695h30v13h-30zM1555 1695h15v13h-15zM472 1708h30v13h-30zM517 1708h15v13h-15zM1288 1708h15v13h-15zM1526 1708h44v13h-44zM1021 1721h15v12h-15zM1496 1721h15v12h-15zM1526 1721h14v12h-14zM458 1733h29v13h-29zM977 1733h15v13h-15zM1051 1733h15v13h-15zM1333 1733h15v13h-15zM1496 1733h15v13h-15zM458 1746h14v13h-14zM962 1746h15v13h-15zM1288 1746h30v13h-30zM1362 1746h15v13h-15zM1392 1746h15v13h-15zM1273 1759h15v13h-15zM487 1772h15v12h-15zM1095 1772h15v12h-15zM472 1784h15v13h-15zM487 1797h15v13h-15zM443 1822h15v13h-15zM472 1822h15v13h-15zM458 1835h14v13h-14zM502 1835h15v13h-15zM606 1835h15v13h-15zM1036 1835h15v13h-15zM502 1848h30v13h-30zM1199 1848h15v13h-15zM532 1861h15v12h-15zM932 1873h15v13h-15zM1184 1873h15v13h-15zM784 1886h15v13h-15zM903 1886h14v13h-14zM1259 1886h14v13h-14zM977 1899h15v13h-15zM725 1912h14v12h-14zM754 1912h15v12h-15zM1184 1912h15v12h-15zM369 1924h29v13h-29zM754 1924h30v13h-30zM932 1924h45v13h-45zM1110 1924h15v13h-15zM360 1937h9v13h-9zM383 1937h15v13h-15zM828 1937h15v13h-15zM888 1937h15v13h-15zM932 1937h15v13h-15zM799 1950h15v13h-15zM828 1950h15v13h-15zM1125 1950h45v13h-45zM1184 1950h15v13h-15zM814 1963h44v12h-44zM917 1963h15v12h-15zM977 1963h29v12h-29zM1125 1963h30v12h-30zM1170 1963h14v12h-14zM472 1975h15v13h-15zM828 1975h15v13h-15zM1110 1975h15v13h-15zM1140 1975h15v13h-15zM799 2001h15v13h-15zM621 2077h15v13h-15z"/>
<path fill="#043f6b" d="M784 1007h15v13h-15zM606 1097h15v12h-15zM383 1109h30v13h-30zM360 1122h23v13h-23zM413 1122h30v13h-30zM621 1122h15v13h-15zM650 1122h30v13h-30zM888 1122h15v13h-15zM383 1135h15v12h-15zM665 1135h15v12h-15zM843 1135h15v12h-15zM903 1211h14v13h-14zM1051 1275h15v13h-15zM1081 1300h29v13h-29zM1125 1300h15v13h-15zM695 1326h15v13h-15zM1110 1326h15v13h-15zM1481 1326h15v13h-15zM1481 1351h15v13h-15zM1110 1364h15v13h-15zM517 1377h30v12h-30zM1570 1377h15v12h-15zM843 1389h15v13h-15zM1392 1389h15v13h-15zM1466 1389h15v13h-15zM1392 1428h15v12h-15zM561 1440h15v13h-15zM903 1440h14v13h-14zM1066 1440h29v13h-29zM1125 1466h15v13h-15zM1288 1466h15v13h-15zM1333 1466h29v13h-29zM1273 1479h15v12h-15zM369 1491h14v13h-14zM1259 1491h14v13h-14zM369 1504h14v13h-14zM799 1504h15v13h-15zM858 1504h15v13h-15zM1318 1504h15v13h-15zM1199 1517h15v13h-15zM1229 1517h15v13h-15zM1348 1517h14v13h-14zM502 1530h15v12h-15zM903 1542h14v13h-14zM1214 1542h15v13h-15zM828 1555h15v13h-15zM858 1555h15v13h-15zM1273 1581h15v12h-15zM1481 1593h15v13h-15zM858 1619h15v12h-15zM591 1631h15v13h-15zM710 1631h15v13h-15zM1540 1631h15v13h-15zM1081 1644h14v13h-14zM1229 1644h15v13h-15zM710 1657h15v13h-15zM888 1657h15v13h-15zM1555 1657h15v13h-15zM1244 1670h15v12h-15zM1585 1670h15v12h-15zM858 1682h15v13h-15zM932 1682h15v13h-15zM1555 1682h15v13h-15zM814 1695h29v13h-29zM1081 1721h14v12h-14zM1481 1721h15v12h-15zM1585 1721h15v12h-15zM1125 1733h15v13h-15zM1155 1733h15v13h-15zM1095 1746h15v13h-15zM1273 1746h15v13h-15zM739 1772h15v12h-15zM710 1784h15v13h-15zM1422 1784h15v13h-15zM517 1797h30v13h-30zM1377 1797h15v13h-15zM487 1835h15v13h-15zM1125 1835h15v13h-15zM458 1848h14v13h-14zM1140 1848h15v13h-15zM1229 1848h15v13h-15zM621 1861h15v12h-15zM1125 1861h15v12h-15zM547 1873h14v13h-14zM725 1886h14v13h-14zM1006 1886h30v13h-30zM843 1899h15v13h-15zM903 1899h14v13h-14zM992 1899h14v13h-14zM1095 1899h15v13h-15zM784 1912h15v12h-15zM1140 1924h15v13h-15zM398 1937h15v13h-15zM710 1937h15v13h-15zM398 1950h15v13h-15zM443 1950h15v13h-15zM725 1950h14v13h-14zM680 1963h15v12h-15zM547 1975h14v13h-14zM739 1975h15v13h-15zM665 1988h15v13h-15zM1066 1988h15v13h-15zM917 2001h15v13h-15zM1155 2001h15v13h-15z"/>
<path fill="#2b387f" d="M932 1007h15v13h-15zM992 1020h14v13h-14zM858 1071h15v13h-15zM413 1084h15v13h-15zM369 1109h14v13h-14zM784 1109h15v13h-15zM383 1122h15v13h-15zM858 1135h15v12h-15zM873 1147h15v13h-15zM413 1186h15v12h-15zM903 1249h14v13h-14zM1021 1249h15v13h-15zM1021 1262h15v13h-15zM1066 1351h29v13h-29zM532 1364h15v13h-15zM1051 1453h15v13h-15zM502 1517h15v13h-15zM413 1542h15v13h-15zM843 1555h15v13h-15zM398 1568h15v13h-15zM1155 1631h29v13h-29zM1110 1644h30v13h-30zM799 1657h44v13h-44zM1125 1657h45v13h-45zM1125 1670h45v12h-45zM1125 1682h45v13h-45zM1214 1682h15v13h-15zM1021 1695h15v13h-15zM1095 1695h15v13h-15zM1140 1695h59v13h-59zM1214 1695h30v13h-30zM1095 1708h15v13h-15zM1214 1708h15v13h-15zM1244 1708h15v13h-15zM398 1772h15v12h-15zM428 1772h15v12h-15zM1259 1963h44v12h-44zM1199 1975h15v13h-15zM1229 1975h44v13h-44zM1288 1975h15v13h-15zM1348 1975h14v13h-14zM1392 1975h15v13h-15zM1021 1988h15v13h-15zM1214 1988h45v13h-45zM1273 1988h30v13h-30zM1392 1988h15v13h-15zM1184 2001h15v13h-15zM1244 2001h15v13h-15zM1273 2001h15v13h-15zM1318 2001h15v13h-15zM1348 2001h44v13h-44zM1095 2014h30v12h-30zM1214 2014h15v12h-15zM1244 2014h29v12h-29zM1318 2014h59v12h-59zM1066 2026h29v13h-29zM1110 2026h15v13h-15zM1140 2026h15v13h-15zM1199 2026h45v13h-45zM1259 2026h89v13h-89zM1362 2026h30v13h-30zM1110 2039h45v13h-45zM1184 2039h45v13h-45zM1259 2039h14v13h-14zM1288 2039h15v13h-15zM1333 2039h29v13h-29zM1392 2039h15v13h-15zM1066 2052h15v12h-15zM1110 2052h15v12h-15zM1140 2052h30v12h-30zM1214 2052h45v12h-45zM1273 2052h15v12h-15zM1303 2052h45v12h-45zM1362 2052h30v12h-30zM1407 2052h15v12h-15zM1110 2064h15v13h-15zM1140 2064h44v13h-44zM1199 2064h15v13h-15zM1259 2064h14v13h-14zM1303 2064h15v13h-15zM1333 2064h15v13h-15zM1407 2064h15v13h-15zM1081 2077h29v13h-29zM1199 2077h15v13h-15zM1244 2077h15v13h-15zM1273 2077h60v13h-60zM1422 2077h15v13h-15zM1273 2090h15v13h-15z"/>
<path fill="#0e5853" d="M977 1007h15v13h-15zM769 1020h15v13h-15zM769 1071h15v13h-15zM814 1071h14v13h-14zM1006 1071h15v13h-15zM799 1084h15v13h-15zM1051 1198h15v13h-15zM1110 1211h15v13h-15zM1155 1211h15v13h-15zM1110 1237h15v12h-15zM1184 1249h15v13h-15zM1110 1275h15v13h-15zM1170 1275h14v13h-14zM1199 1300h15v13h-15zM1422 1313h15v13h-15zM1407 1351h15v13h-15zM1377 1364h15v13h-15zM1140 1377h15v12h-15zM1140 1402h15v13h-15zM962 1415h15v13h-15zM1273 1428h15v12h-15zM1021 1440h15v13h-15zM1021 1491h15v13h-15zM1095 1491h15v13h-15zM1199 1593h15v13h-15zM1422 1631h15v13h-15zM1437 1708h14v13h-14zM888 1746h15v13h-15zM784 1759h15v13h-15zM814 1759h29v13h-29zM858 1772h15v12h-15zM814 1784h14v13h-14zM1021 1784h15v13h-15zM1214 1797h15v13h-15zM665 1810h15v12h-15zM799 1810h15v12h-15zM947 1810h15v12h-15zM398 1822h15v13h-15zM903 1822h14v13h-14zM947 1835h30v13h-30zM858 1861h15v12h-15zM413 1886h15v13h-15zM458 1899h14v13h-14z"/>
<path fill="#0c5259" d="M1006 1007h15v13h-15zM799 1033h15v13h-15zM992 1046h14v12h-14zM992 1058h14v13h-14zM992 1097h14v12h-14zM1006 1122h15v13h-15zM1066 1211h29v13h-29zM1095 1224h30v13h-30zM1095 1237h15v12h-15zM1095 1249h15v13h-15zM1066 1262h15v13h-15zM1451 1326h15v13h-15zM1496 1326h15v13h-15zM1081 1339h14v12h-14zM1422 1351h15v13h-15zM1422 1364h29v13h-29zM1540 1364h15v13h-15zM947 1377h15v12h-15zM1110 1377h15v12h-15zM1481 1377h15v12h-15zM1318 1389h15v13h-15zM1437 1389h14v13h-14zM1081 1402h14v13h-14zM917 1428h15v12h-15zM917 1440h15v13h-15zM1125 1440h15v13h-15zM1140 1453h15v13h-15zM903 1466h14v13h-14zM1066 1491h15v13h-15zM947 1504h15v13h-15zM1333 1504h15v13h-15zM932 1517h15v13h-15zM1184 1517h15v13h-15zM962 1530h15v12h-15zM1318 1555h15v13h-15zM1006 1568h15v13h-15zM1066 1568h15v13h-15zM1318 1568h15v13h-15zM1021 1581h30v12h-30zM1066 1581h15v12h-15zM1229 1581h15v12h-15zM1051 1593h15v13h-15zM1303 1593h15v13h-15zM680 1619h15v12h-15zM1273 1619h15v12h-15zM1318 1619h15v12h-15zM1318 1631h15v13h-15zM636 1644h29v13h-29zM1407 1644h15v13h-15zM1244 1657h15v13h-15zM1303 1657h15v13h-15zM1437 1657h14v13h-14zM1570 1657h15v13h-15zM636 1670h14v12h-14zM695 1670h15v12h-15zM1303 1670h15v12h-15zM1333 1670h15v12h-15zM1437 1682h14v13h-14zM1466 1682h15v13h-15zM606 1695h15v13h-15zM665 1695h30v13h-30zM977 1695h15v13h-15zM1481 1695h15v13h-15zM606 1708h15v13h-15zM665 1708h15v13h-15zM695 1708h15v13h-15zM888 1708h15v13h-15zM962 1708h15v13h-15zM1318 1708h15v13h-15zM591 1721h15v12h-15zM710 1721h15v12h-15zM903 1721h29v12h-29zM1422 1721h15v12h-15zM547 1733h14v13h-14zM769 1733h15v13h-15zM917 1733h15v13h-15zM591 1746h15v13h-15zM680 1746h15v13h-15zM903 1746h14v13h-14zM1006 1746h15v13h-15zM591 1759h30v13h-30zM903 1759h14v13h-14zM1021 1759h15v13h-15zM517 1772h15v12h-15zM561 1772h15v12h-15zM591 1772h30v12h-30zM888 1772h15v12h-15zM561 1784h15v13h-15zM754 1784h15v13h-15zM843 1784h15v13h-15zM561 1797h60v13h-60zM650 1797h15v13h-15zM814 1797h14v13h-14zM1006 1797h15v13h-15zM606 1810h15v12h-15zM636 1810h14v12h-14zM1155 1810h15v12h-15zM1377 1810h15v12h-15zM680 1822h45v13h-45zM1214 1822h15v13h-15zM576 1835h15v13h-15zM636 1835h14v13h-14zM665 1835h15v13h-15zM1184 1835h15v13h-15zM1229 1835h15v13h-15zM547 1848h14v13h-14zM665 1848h15v13h-15zM695 1848h15v13h-15zM962 1848h15v13h-15zM443 1861h29v12h-29zM710 1861h15v12h-15zM799 1861h15v12h-15zM561 1873h15v13h-15zM591 1873h15v13h-15zM725 1873h14v13h-14zM799 1873h15v13h-15zM487 1886h15v13h-15zM621 1886h15v13h-15zM547 1899h14v13h-14zM591 1899h15v13h-15zM1036 1899h15v13h-15zM413 1912h15v12h-15zM591 1912h15v12h-15zM532 1924h15v13h-15zM591 1924h15v13h-15zM621 1924h15v13h-15zM428 1937h15v13h-15zM576 1937h30v13h-30zM472 1950h15v13h-15zM502 1950h15v13h-15zM561 1950h15v13h-15zM636 1950h14v13h-14zM621 1963h15v12h-15zM680 2052h15v12h-15z"/>
<path fill="#074565" d="M947 1020h15v13h-15zM962 1084h15v13h-15zM606 1109h15v13h-15zM917 1122h15v13h-15zM888 1211h15v13h-15zM1036 1237h15v12h-15zM1140 1288h30v12h-30zM1095 1313h30v13h-30zM1155 1313h29v13h-29zM1377 1313h15v13h-15zM1051 1326h15v13h-15zM1496 1351h15v13h-15zM1362 1377h15v12h-15zM1051 1389h15v13h-15zM992 1402h14v13h-14zM1333 1428h15v12h-15zM873 1440h30v13h-30zM799 1466h15v13h-15zM799 1479h15v12h-15zM962 1504h15v13h-15zM1273 1504h15v13h-15zM873 1530h15v12h-15zM888 1542h15v13h-15zM947 1581h15v12h-15zM1155 1581h15v12h-15zM680 1593h15v13h-15zM1184 1593h15v13h-15zM992 1606h14v13h-14zM1110 1606h15v13h-15zM1170 1606h14v13h-14zM873 1619h15v12h-15zM1244 1619h15v12h-15zM769 1631h15v13h-15zM814 1631h14v13h-14zM917 1631h15v13h-15zM591 1644h15v13h-15zM814 1644h14v13h-14zM858 1644h15v13h-15zM1066 1644h15v13h-15zM1496 1644h30v13h-30zM1600 1644h15v13h-15zM992 1670h14v12h-14zM1021 1670h15v12h-15zM1066 1670h29v12h-29zM739 1682h15v13h-15zM1585 1682h15v13h-15zM472 1695h15v13h-15zM754 1695h15v13h-15zM917 1695h15v13h-15zM1051 1695h15v13h-15zM1006 1721h15v12h-15zM1036 1721h45v12h-45zM1140 1721h15v12h-15zM1259 1721h14v12h-14zM1540 1721h15v12h-15zM1570 1721h15v12h-15zM576 1733h15v13h-15zM1140 1733h15v13h-15zM1451 1733h15v13h-15zM1081 1746h14v13h-14zM1184 1746h15v13h-15zM1570 1746h15v13h-15zM1036 1759h15v13h-15zM1273 1772h15v12h-15zM903 1784h14v13h-14zM1066 1784h15v13h-15zM1288 1784h15v13h-15zM502 1810h15v12h-15zM1006 1810h15v12h-15zM1348 1810h14v12h-14zM413 1822h15v13h-15zM532 1835h15v13h-15zM858 1886h15v13h-15zM517 1899h15v13h-15zM903 1912h14v12h-14zM1155 1912h15v12h-15zM1229 1912h15v12h-15zM739 1924h15v13h-15zM1095 1924h15v13h-15zM1199 1924h15v13h-15zM1081 1937h14v13h-14zM413 1950h15v13h-15zM769 1950h15v13h-15zM1110 1950h15v13h-15zM858 1963h15v12h-15zM947 1963h15v12h-15zM814 1975h14v13h-14zM858 1975h15v13h-15zM977 1975h15v13h-15zM621 1988h15v13h-15zM814 1988h14v13h-14zM843 1988h15v13h-15zM650 2001h15v13h-15zM650 2014h15v12h-15zM828 2014h15v12h-15z"/>
<path fill="#1b3a78" d="M977 1020h15v13h-15zM369 1097h14v12h-14zM843 1097h15v12h-15zM665 1109h15v13h-15zM502 1122h30v13h-30zM606 1122h15v13h-15zM502 1135h15v12h-15zM621 1135h15v12h-15zM814 1135h14v12h-14zM932 1135h15v12h-15zM428 1147h30v13h-30zM828 1147h30v13h-30zM443 1160h15v13h-15zM561 1160h15v13h-15zM843 1160h15v13h-15zM888 1160h15v13h-15zM828 1173h15v13h-15zM888 1173h15v13h-15zM843 1186h15v12h-15zM888 1186h15v12h-15zM369 1198h14v13h-14zM843 1198h45v13h-45zM903 1198h14v13h-14zM383 1224h15v13h-15zM843 1224h15v13h-15zM917 1224h15v13h-15zM917 1237h15v12h-15zM799 1262h15v13h-15zM458 1275h14v13h-14zM784 1275h15v13h-15zM814 1275h14v13h-14zM1006 1275h15v13h-15zM799 1288h15v12h-15zM769 1300h15v13h-15zM784 1313h15v13h-15zM992 1313h14v13h-14zM576 1326h15v13h-15zM962 1326h30v13h-30zM1006 1326h15v13h-15zM1006 1339h15v12h-15zM680 1351h15v13h-15zM903 1351h29v13h-29zM962 1351h15v13h-15zM487 1364h15v13h-15zM621 1364h15v13h-15zM873 1364h15v13h-15zM636 1377h14v12h-14zM517 1389h15v13h-15zM576 1389h15v13h-15zM784 1415h15v13h-15zM814 1428h14v12h-14zM828 1440h15v13h-15zM799 1453h15v13h-15zM843 1453h15v13h-15zM843 1466h15v13h-15zM383 1479h15v12h-15zM428 1491h15v13h-15zM472 1491h15v13h-15zM547 1491h29v13h-29zM413 1504h15v13h-15zM576 1504h15v13h-15zM413 1517h15v13h-15zM591 1517h30v13h-30zM754 1517h15v13h-15zM360 1530h9v12h-9zM383 1530h60v12h-60zM650 1530h15v12h-15zM695 1530h15v12h-15zM769 1530h15v12h-15zM383 1542h30v13h-30zM398 1555h15v13h-15zM413 1568h30v13h-30zM413 1581h15v12h-15zM383 1593h15v13h-15zM428 1593h15v13h-15zM369 1606h14v13h-14zM398 1606h30v13h-30zM428 1619h15v12h-15zM1110 1619h15v12h-15zM369 1631h14v13h-14zM1125 1631h30v13h-30zM369 1644h29v13h-29zM1199 1644h15v13h-15zM369 1657h14v13h-14zM398 1657h15v13h-15zM443 1657h15v13h-15zM443 1682h15v13h-15zM1244 1682h15v13h-15zM398 1695h15v13h-15zM428 1695h15v13h-15zM398 1708h30v13h-30zM398 1721h15v12h-15zM1184 1733h15v13h-15zM413 1746h15v13h-15zM1140 1746h30v13h-30zM383 1759h15v13h-15zM443 1759h15v13h-15zM1051 1759h15v13h-15zM369 1772h14v12h-14zM1125 1772h15v12h-15zM1348 1772h14v12h-14zM383 1784h30v13h-30zM360 1797h38v13h-38zM428 1797h15v13h-15zM369 1835h14v13h-14zM472 1835h15v13h-15zM383 1861h15v12h-15zM1229 1873h15v13h-15zM1259 1873h14v13h-14zM1095 1886h15v13h-15zM1229 1886h15v13h-15zM799 1899h15v13h-15zM1140 1899h15v13h-15zM1140 1912h15v12h-15zM1021 1950h15v13h-15zM502 2001h15v13h-15zM398 2014h15v12h-15zM428 2026h15v13h-15zM458 2026h14v13h-14zM502 2026h15v13h-15zM487 2039h15v13h-15zM413 2052h15v12h-15zM517 2064h15v13h-15zM472 2077h15v13h-15zM487 2090h15v13h-15zM561 2090h15v13h-15zM443 2103h29v12h-29zM502 2103h15v12h-15zM591 2103h15v12h-15zM487 2115h15v13h-15zM398 2128h15v13h-15zM576 2128h15v13h-15z"/>
<path fill="#2f3881" d="M814 1033h14v13h-14zM413 1071h15v13h-15zM799 1097h15v12h-15zM413 1109h15v13h-15zM502 1109h15v13h-15zM561 1109h15v13h-15zM814 1109h14v13h-14zM532 1122h15v13h-15zM814 1122h14v13h-14zM443 1135h15v12h-15zM650 1135h15v12h-15zM398 1147h15v13h-15zM472 1147h15v13h-15zM917 1147h15v13h-15zM828 1160h15v13h-15zM843 1173h15v13h-15zM873 1173h15v13h-15zM873 1186h15v12h-15zM814 1249h14v13h-14zM932 1249h15v13h-15zM784 1262h15v13h-15zM799 1300h15v13h-15zM1006 1300h15v13h-15zM710 1326h15v13h-15zM992 1326h14v13h-14zM665 1339h15v12h-15zM977 1339h15v12h-15zM977 1351h15v13h-15zM1036 1351h15v13h-15zM1095 1351h15v13h-15zM606 1364h15v13h-15zM650 1364h30v13h-30zM1036 1364h30v13h-30zM828 1377h15v12h-15zM606 1389h15v13h-15zM650 1389h15v13h-15zM814 1389h14v13h-14zM532 1402h15v13h-15zM1051 1466h15v13h-15zM369 1479h14v12h-14zM769 1479h15v12h-15zM591 1504h15v13h-15zM1155 1644h15v13h-15zM1244 1963h15v12h-15zM1214 1975h15v13h-15zM1303 1975h15v13h-15zM1362 1988h15v13h-15zM1036 2001h15v13h-15zM1214 2001h30v13h-30zM1259 2001h14v13h-14zM1288 2001h15v13h-15zM1288 2014h30v12h-30zM1095 2026h15v13h-15zM1184 2026h15v13h-15zM1348 2026h14v13h-14zM1392 2026h15v13h-15zM1066 2039h15v13h-15zM1422 2039h15v13h-15zM1199 2052h15v12h-15zM1259 2052h14v12h-14zM1184 2064h15v13h-15zM1214 2064h15v13h-15zM1244 2064h15v13h-15zM1288 2064h15v13h-15zM1348 2064h29v13h-29zM1155 2090h15v13h-15z"/>
<path fill="#033c6e" d="M799 1046h15v12h-15zM828 1109h15v13h-15zM903 1109h14v13h-14zM1006 1147h15v13h-15zM547 1160h14v13h-14zM858 1173h15v13h-15zM1036 1224h15v13h-15zM1066 1224h15v13h-15zM932 1262h15v13h-15zM1110 1300h15v13h-15zM1095 1326h15v13h-15zM1051 1339h15v12h-15zM1110 1339h15v12h-15zM1615 1351h14v13h-14zM932 1364h15v13h-15zM1600 1364h15v13h-15zM977 1377h15v12h-15zM1081 1377h14v12h-14zM903 1389h29v13h-29zM1021 1389h15v13h-15zM1066 1389h15v13h-15zM814 1402h14v13h-14zM1021 1402h15v13h-15zM1333 1402h44v13h-44zM1437 1402h14v13h-14zM1466 1402h15v13h-15zM1615 1402h14v13h-14zM1318 1415h30v13h-30zM1422 1415h15v13h-15zM1081 1453h29v13h-29zM1377 1453h15v13h-15zM1110 1466h15v13h-15zM1303 1466h30v13h-30zM1362 1466h30v13h-30zM1629 1479h15v12h-15zM828 1491h15v13h-15zM1244 1504h15v13h-15zM1348 1504h14v13h-14zM858 1517h15v13h-15zM799 1530h15v12h-15zM1303 1530h15v12h-15zM814 1542h14v13h-14zM873 1542h15v13h-15zM1229 1542h15v13h-15zM1273 1542h15v13h-15zM1526 1542h14v13h-14zM903 1555h14v13h-14zM1273 1555h15v13h-15zM1244 1568h15v13h-15zM1555 1568h15v13h-15zM547 1581h14v12h-14zM650 1581h15v12h-15zM932 1581h15v12h-15zM1244 1581h15v12h-15zM814 1593h14v13h-14zM962 1593h30v13h-30zM606 1606h15v13h-15zM873 1606h15v13h-15zM576 1619h15v12h-15zM710 1619h15v12h-15zM799 1619h15v12h-15zM888 1619h15v12h-15zM1526 1619h14v12h-14zM1496 1631h30v13h-30zM502 1644h15v13h-15zM576 1644h15v13h-15zM710 1644h15v13h-15zM769 1644h15v13h-15zM1674 1644h15v13h-15zM903 1657h29v13h-29zM962 1657h15v13h-15zM1600 1657h15v13h-15zM561 1670h15v12h-15zM710 1670h15v12h-15zM977 1670h15v12h-15zM1095 1670h15v12h-15zM843 1682h15v13h-15zM903 1682h14v13h-14zM1006 1682h15v13h-15zM532 1695h15v13h-15zM799 1695h15v13h-15zM1526 1695h29v13h-29zM1585 1695h15v13h-15zM502 1708h15v13h-15zM1051 1708h15v13h-15zM1496 1708h30v13h-30zM1570 1708h15v13h-15zM472 1721h15v12h-15zM1273 1721h15v12h-15zM1555 1721h15v12h-15zM1036 1733h15v13h-15zM1348 1733h29v13h-29zM1407 1733h30v13h-30zM1555 1733h30v13h-30zM472 1746h15v13h-15zM1051 1746h15v13h-15zM1170 1746h14v13h-14zM1244 1746h29v13h-29zM1555 1746h15v13h-15zM487 1759h15v13h-15zM962 1759h15v13h-15zM1288 1759h15v13h-15zM487 1784h15v13h-15zM1140 1784h15v13h-15zM1377 1784h30v13h-30zM487 1810h15v12h-15zM502 1822h30v13h-30zM873 1822h15v13h-15zM443 1835h15v13h-15zM532 1848h15v13h-15zM502 1861h30v12h-30zM606 1861h15v12h-15zM1273 1861h15v12h-15zM517 1886h15v13h-15zM784 1899h15v13h-15zM873 1899h15v13h-15zM739 1912h15v12h-15zM814 1912h14v12h-14zM888 1912h15v12h-15zM977 1912h15v12h-15zM828 1924h15v13h-15zM888 1924h15v13h-15zM1081 1924h14v13h-14zM369 1937h14v13h-14zM754 1937h15v13h-15zM843 1937h15v13h-15zM754 1950h15v13h-15zM843 1950h15v13h-15zM873 1950h15v13h-15zM428 1963h15v12h-15zM962 1963h15v12h-15zM1110 1963h15v12h-15zM443 1975h29v13h-29zM502 1975h15v13h-15zM843 1975h15v13h-15zM650 2026h15v13h-15z"/>
<path fill="#1b7834" d="M1066 1058h15v13h-15zM1199 1084h15v13h-15zM1214 1135h15v12h-15zM1214 1147h15v13h-15zM1273 1147h15v13h-15zM1244 1160h15v13h-15zM1273 1224h15v13h-15zM1526 1224h14v13h-14zM1244 1237h15v12h-15zM1437 1237h14v12h-14zM1437 1262h14v13h-14zM1288 1275h15v13h-15zM1303 1288h15v12h-15zM1496 1288h15v12h-15zM1273 1351h15v13h-15zM1259 1364h14v13h-14zM1095 1389h15v13h-15zM1259 1415h14v13h-14zM1184 1428h15v12h-15zM932 1466h15v13h-15zM1036 1517h15v13h-15zM1125 1517h15v13h-15zM977 1530h15v12h-15zM1110 1530h45v12h-45zM1214 1555h15v13h-15zM1199 1568h15v13h-15zM1407 1568h15v13h-15zM1437 1568h14v13h-14zM1407 1581h15v12h-15zM1377 1593h15v13h-15zM1348 1631h14v13h-14zM1377 1631h15v13h-15zM1348 1644h14v13h-14zM962 1721h15v12h-15zM1303 1721h15v12h-15zM1629 1733h15v13h-15zM1644 1746h15v13h-15zM1006 1759h15v13h-15zM1184 1759h15v13h-15zM1155 1784h15v13h-15zM888 1797h15v13h-15zM1066 1797h15v13h-15zM1526 1810h14v12h-14zM1081 1822h14v13h-14zM1437 1822h14v13h-14zM828 1873h15v13h-15zM858 1873h15v13h-15zM1392 1899h15v13h-15zM1674 1912h30v12h-30zM1511 1937h15v13h-15z"/>
<path fill="#1c7b31" d="M1615 1262h14v13h-14zM977 1453h15v13h-15zM1437 1631h14v13h-14zM1466 1670h15v12h-15zM1511 1682h15v13h-15zM561 1746h15v13h-15zM665 1746h15v13h-15zM992 1759h14v13h-14zM1214 1759h15v13h-15zM1155 1772h29v12h-29zM843 1873h15v13h-15zM472 1886h15v13h-15zM621 1912h15v12h-15z"/>
<path fill="#1d7e2e" d="M1214 1313h15v13h-15zM1244 1364h15v13h-15zM1303 1389h15v13h-15zM1110 1415h15v13h-15zM932 1479h15v12h-15zM992 1479h14v12h-14zM1051 1491h15v13h-15zM1199 1555h15v13h-15zM1407 1593h15v13h-15zM1511 1657h15v13h-15zM1511 1670h15v12h-15zM769 1848h15v13h-15zM576 1912h15v12h-15z"/>
<path fill="#1e822b" d="M1170 1351h14v13h-14zM1318 1377h15v12h-15zM1214 1402h15v13h-15zM1273 1415h15v13h-15zM1140 1428h15v12h-15zM977 1440h15v13h-15zM1170 1440h29v13h-29zM1006 1504h15v13h-15zM1036 1504h30v13h-30zM1140 1542h15v13h-15zM1170 1555h29v13h-29zM1184 1568h15v13h-15zM1481 1670h15v12h-15zM636 1721h14v12h-14zM739 1822h15v13h-15zM888 1861h29v12h-29zM502 1924h15v13h-15z"/>
<path fill="#208528" d="M1199 1389h15v13h-15zM932 1453h15v13h-15zM1021 1504h15v13h-15zM1051 1517h15v13h-15zM1036 1530h15v12h-15zM1036 1542h15v13h-15zM1066 1542h29v13h-29zM1110 1542h30v13h-30zM1422 1568h15v13h-15zM1422 1593h15v13h-15zM1392 1619h15v12h-15zM621 1721h15v12h-15zM650 1746h15v13h-15zM1051 1797h15v13h-15zM754 1822h15v13h-15z"/>
<path fill="#218825" d="M947 1440h30v13h-30zM947 1453h15v13h-15zM1051 1530h15v12h-15zM1051 1542h15v13h-15zM1496 1670h15v12h-15z"/>
<path fill="#228b22" d="M962 1453h15v13h-15zM947 1466h30v13h-30z"/>
</g>
<g fill="none" stroke-width="6.3" stroke-linejoin="round" stroke-linecap="butt" clip-path="url(#axclip)">
<path stroke="#000000" d="M732.0 937.3L732.0 950.1L732.0 962.8L732.0 975.5L732.0 988.3L732.0 1001.0L746.8 1001.0L761.6 1013.8L761.6 1001.0L746.8 988.3L746.8 975.5L732.0 962.8L732.0 950.1L746.8 937.3L761.6 937.3M791.3 937.3L776.5 950.1L791.3 950.1ZM821.0 937.3L835.8 937.3M865.5 950.1L865.5 962.8M880.3 937.3L895.1 950.1L895.1 962.8L895.1 950.1L895.1 937.3M954.5 937.3L969.3 950.1L984.1 950.1L999.0 937.3L1013.8 937.3M1043.5 937.3L1043.5 950.1L1043.5 962.8L1058.3 975.5L1058.3 988.3L1058.3 1001.0L1073.1 988.3L1088.0 975.5L1102.8 988.3L1102.8 1001.0L1117.7 988.3L1132.5 1001.0L1147.3 1013.8L1162.2 1026.5L1177.0 1039.2L1191.8 1039.2L1206.7 1039.2L1221.5 1052.0L1221.5 1064.7L1221.5 1077.4L1236.3 1090.2L1251.2 1077.4L1266.0 1077.4L1280.8 1090.2L1295.7 1102.9L1295.7 1115.6L1310.5 1115.6L1325.3 1128.4L1310.5 1141.1L1325.3 1141.1L1340.2 1153.9L1325.3 1166.6L1310.5 1166.6L1310.5 1179.3L1310.5 1192.1L1310.5 1179.3L1325.3 1166.6L1340.2 1179.3L1340.2 1192.1L1340.2 1204.8L1340.2 1217.5L1355.0 1230.3L1369.8 1230.3L1384.7 1243.0L1399.5 1230.3L1414.3 1243.0L1399.5 1255.7L1414.3 1255.7L1429.2 1243.0L1414.3 1230.3L1429.2 1217.5L1444.0 1230.3L1458.8 1217.5L1473.7 1230.3L1488.5 1217.5L1488.5 1204.8L1503.3 1192.1L1518.2 1204.8L1518.2 1217.5L1518.2 1230.3L1503.3 1243.0L1488.5 1255.7L1503.3 1255.7L1518.2 1255.7L1533.0 1268.5L1547.8 1255.7L1562.7 1268.5L1577.5 1255.7L1592.3 1243.0L1607.2 1255.7L1592.3 1268.5L1577.5 1281.2L1577.5 1293.9L1592.3 1281.2L1607.2 1293.9L1622.0 1293.9L1636.8 1306.7L1651.7 1306.7L1666.5 1319.4L1651.7 1332.2L1636.8 1344.9L1622.0 1332.2L1622.0 1344.9L1636.8 1357.6L1622.0 1370.4L1636.8 1370.4L1651.7 1370.4L1666.5 1383.1L1666.5 1395.8L1651.7 1408.6L1651.7 1421.3L1666.5 1408.6L1681.3 1421.3L1666.5 1434.0L1651.7 1446.8L1636.8 1446.8L1622.0 1446.8L1607.2 1446.8L1622.0 1446.8L1636.8 1459.5L1651.7 1446.8L1666.5 1446.8L1681.3 1459.5L1681.3 1472.2L1696.2 1459.5L1711.0 1472.2L1696.2 1485.0L1696.2 1497.7L1696.2 1510.5L1681.3 1523.2L1666.5 1523.2L1651.7 1523.2L1636.8 1535.9L1622.0 1523.2L1607.2 1523.2L1592.3 1535.9L1577.5 1535.9L1592.3 1548.7L1577.5 1561.4L1562.7 1561.4L1577.5 1574.1L1592.3 1586.9L1592.3 1599.6L1592.3 1612.3L1592.3 1599.6L1592.3 1586.9L1607.2 1574.1L1622.0 1586.9L1636.8 1574.1L1651.7 1586.9L1666.5 1574.1L1681.3 1574.1L1696.2 1574.1L1711.0 1586.9L1696.2 1599.6L1681.3 1599.6L1666.5 1612.3L1681.3 1625.1L1681.3 1637.8L1696.2 1650.6L1681.3 1663.3L1696.2 1663.3L1696.2 1650.6L1711.0 1637.8L1725.8 1650.6L1740.7 1650.6L1755.5 1650.6L1770.3 1663.3L1770.3 1676.0L1755.5 1688.8L1740.7 1688.8L1725.8 1676.0L1711.0 1688.8L1711.0 1701.5L1696.2 1714.2L1681.3 1701.5L1681.3 1688.8L1666.5 1701.5L1651.7 1701.5L1636.8 1701.5L1622.0 1701.5L1607.2 1701.5L1592.3 1714.2L1607.2 1714.2L1622.0 1727.0L1607.2 1739.7L1607.2 1752.4L1622.0 1752.4L1622.0 1739.7L1636.8 1727.0L1651.7 1727.0L1666.5 1727.0L1681.3 1739.7L1696.2 1739.7L1711.0 1752.4L1725.8 1765.2L1740.7 1777.9L1725.8 1790.7L1711.0 1803.4L1696.2 1803.4L1681.3 1803.4L1666.5 1816.1L1651.7 1816.1L1636.8 1828.9L1622.0 1816.1L1607.2 1803.4L1592.3 1790.7L1592.3 1803.4L1592.3 1816.1L1592.3 1828.9L1577.5 1841.6L1577.5 1854.3L1592.3 1841.6L1607.2 1854.3L1622.0 1867.1L1636.8 1879.8L1622.0 1892.5L1607.2 1905.3L1592.3 1892.5L1577.5 1892.5L1562.7 1892.5L1547.8 1905.3L1533.0 1892.5L1547.8 1879.8L1533.0 1879.8L1518.2 1892.5L1533.0 1905.3L1533.0 1918.0L1547.8 1905.3L1562.7 1905.3L1577.5 1892.5L1592.3 1905.3L1592.3 1918.0L1577.5 1930.7L1562.7 1930.7L1547.8 1930.7L1533.0 1943.5L1518.2 1956.2L1503.3 1969.0L1488.5 1969.0L1473.7 1956.2L1488.5 1943.5L1503.3 1943.5L1488.5 1930.7L1473.7 1918.0L1458.8 1905.3L1444.0 1905.3L1458.8 1918.0L1444.0 1930.7L1429.2 1918.0L1414.3 1930.7L1399.5 1943.5L1384.7 1930.7L1369.8 1943.5L1384.7 1956.2L1369.8 1969.0L1355.0 1956.2L1340.2 1956.2L1325.3 1956.2L1310.5 1969.0L1325.3 1969.0L1340.2 1981.7L1340.2 1994.4L1340.2 2007.2L1355.0 1994.4L1340.2 1981.7L1355.0 1969.0L1369.8 1981.7L1384.7 1994.4L1384.7 1981.7L1384.7 1969.0L1399.5 1956.2L1414.3 1969.0L1414.3 1981.7L1414.3 1994.4L1429.2 2007.2L1414.3 2019.9L1399.5 2007.2L1399.5 2019.9L1414.3 2032.6L1414.3 2045.4L1429.2 2032.6L1444.0 2045.4L1429.2 2058.1L1429.2 2070.8L1444.0 2083.6L1429.2 2096.3L1414.3 2083.6L1399.5 2070.8L1399.5 2058.1L1399.5 2070.8L1384.7 2083.6L1369.8 2083.6L1355.0 2083.6L1340.2 2083.6L1325.3 2096.3L1310.5 2109.1L1295.7 2096.3L1280.8 2109.1L1266.0 2096.3L1266.0 2083.6L1251.2 2096.3L1236.3 2083.6L1221.5 2083.6L1206.7 2096.3L1191.8 2083.6L1177.0 2083.6L1162.2 2083.6L1177.0 2096.3L1162.2 2109.1L1147.3 2109.1L1132.5 2096.3L1132.5 2083.6L1132.5 2070.8L1132.5 2058.1L1132.5 2070.8L1117.7 2083.6L1102.8 2096.3L1088.0 2096.3L1073.1 2083.6L1088.0 2070.8L1102.8 2070.8L1102.8 2058.1L1102.8 2045.4L1088.0 2045.4L1088.0 2058.1L1073.1 2070.8L1058.3 2058.1L1058.3 2045.4L1043.5 2032.6L1058.3 2019.9L1073.1 2019.9L1058.3 2007.2L1058.3 1994.4L1058.3 1981.7L1073.1 1969.0L1058.3 1969.0L1043.5 1969.0L1028.6 1969.0L1013.8 1969.0L999.0 1981.7L984.1 1994.4L999.0 2007.2L984.1 2019.9L969.3 2032.6L954.5 2032.6L939.6 2045.4L924.8 2045.4L910.0 2032.6L895.1 2045.4L880.3 2045.4L865.5 2058.1L850.6 2058.1L835.8 2058.1L821.0 2070.8L806.1 2070.8L791.3 2058.1L776.5 2070.8L761.6 2083.6L746.8 2083.6L761.6 2096.3L746.8 2109.1L732.0 2121.8L717.1 2109.1L702.3 2096.3L687.5 2109.1L672.6 2096.3L657.8 2083.6L643.0 2096.3L628.1 2096.3L643.0 2109.1L643.0 2121.8L643.0 2134.5L628.1 2147.3L613.3 2134.5L613.3 2121.8L613.3 2109.1L613.3 2121.8L613.3 2134.5L598.5 2147.3L583.6 2147.3L568.8 2134.5L554.0 2147.3L539.1 2134.5L539.1 2121.8L539.1 2109.1L554.0 2096.3L539.1 2096.3L524.3 2109.1L539.1 2121.8L539.1 2134.5L524.3 2147.3L509.5 2134.5L509.5 2121.8L494.6 2134.5L479.8 2121.8L465.0 2134.5L450.1 2134.5L450.1 2147.3L450.1 2160.0M939.6 962.8L924.8 975.5L910.0 975.5L924.8 975.5L939.6 975.5L939.6 962.8ZM672.6 975.5L657.8 988.3L672.6 988.3L687.5 1001.0L702.3 988.3L687.5 975.5ZM835.8 975.5L850.6 975.5M835.8 1013.8L850.6 1013.8M361.1 1013.8L376.0 1001.0L390.8 1001.0L405.6 988.3L420.5 988.3L435.3 975.5L450.1 962.8L465.0 975.5L465.0 962.8L479.8 950.1L494.6 962.8L509.5 950.1L524.3 962.8L539.1 975.5L554.0 962.8L568.8 975.5L568.8 988.3L568.8 1001.0L568.8 988.3L568.8 975.5L583.6 962.8L598.5 975.5L598.5 988.3L598.5 1001.0L598.5 988.3L613.3 975.5L613.3 962.8L628.1 950.1L643.0 962.8L657.8 962.8L672.6 950.1L687.5 950.1L702.3 950.1L702.3 937.3M1043.5 1026.5L1043.5 1039.2M761.6 1039.2L776.5 1039.2M1147.3 1039.2L1147.3 1052.0M494.6 1052.0L509.5 1052.0M732.0 1052.0L746.8 1064.7L746.8 1052.0ZM984.1 1064.7L969.3 1077.4L984.1 1077.4L984.1 1064.7ZM1058.3 1077.4L1073.1 1077.4M361.1 1077.4L376.0 1077.4L361.1 1064.7M1028.6 1090.2L1028.6 1102.9L1013.8 1115.6L1028.6 1128.4L1028.6 1141.1L1043.5 1153.9L1058.3 1153.9L1073.1 1141.1L1073.1 1128.4L1088.0 1115.6L1073.1 1102.9L1058.3 1102.9L1043.5 1115.6L1028.6 1102.9L1028.6 1090.2ZM628.1 1102.9L643.0 1115.6L657.8 1115.6L657.8 1102.9L643.0 1102.9ZM1266.0 1102.9L1251.2 1115.6L1236.3 1115.6L1251.2 1128.4L1266.0 1141.1L1266.0 1153.9L1266.0 1166.6L1266.0 1153.9L1280.8 1141.1L1280.8 1128.4L1266.0 1115.6L1266.0 1102.9ZM1028.6 1128.4L1043.5 1115.6L1058.3 1115.6L1073.1 1128.4L1058.3 1141.1L1043.5 1141.1ZM1102.8 1128.4L1117.7 1128.4L1132.5 1128.4L1147.3 1128.4M598.5 1141.1L598.5 1153.9M999.0 1141.1L999.0 1153.9M1088.0 1153.9L1102.8 1153.9L1117.7 1166.6L1117.7 1179.3L1117.7 1166.6L1132.5 1153.9L1117.7 1153.9L1102.8 1153.9ZM1028.6 1166.6L1028.6 1179.3L1013.8 1192.1L999.0 1192.1L1013.8 1192.1L1028.6 1204.8L1028.6 1217.5L1043.5 1217.5L1043.5 1204.8L1043.5 1192.1L1028.6 1179.3L1028.6 1166.6ZM1236.3 1166.6L1236.3 1179.3L1236.3 1192.1M361.1 1192.1L376.0 1192.1L361.1 1179.3L361.1 1166.6L361.1 1153.9M1547.8 1204.8L1562.7 1192.1L1577.5 1204.8L1562.7 1217.5ZM1518.2 1230.3L1533.0 1217.5L1547.8 1230.3L1547.8 1243.0L1533.0 1255.7L1518.2 1243.0ZM1547.8 1243.0L1562.7 1230.3L1577.5 1243.0L1562.7 1255.7ZM1013.8 1255.7L999.0 1268.5L984.1 1268.5L999.0 1268.5L1013.8 1268.5L1013.8 1255.7ZM1607.2 1268.5L1622.0 1255.7L1636.8 1268.5L1622.0 1281.2ZM1399.5 1319.4L1414.3 1319.4M1547.8 1332.2L1547.8 1344.9M1518.2 1357.6L1518.2 1370.4L1518.2 1383.1L1533.0 1383.1L1547.8 1383.1L1562.7 1395.8L1547.8 1408.6L1533.0 1421.3L1518.2 1408.6L1503.3 1395.8L1488.5 1395.8L1488.5 1408.6L1473.7 1421.3L1458.8 1434.0L1444.0 1421.3L1429.2 1434.0L1414.3 1446.8L1414.3 1459.5L1399.5 1472.2L1399.5 1485.0L1384.7 1497.7L1369.8 1510.5L1384.7 1523.2L1384.7 1535.9L1384.7 1548.7L1399.5 1548.7L1414.3 1548.7L1429.2 1561.4L1444.0 1561.4L1458.8 1574.1L1458.8 1586.9L1444.0 1599.6L1458.8 1612.3L1458.8 1625.1L1473.7 1625.1L1488.5 1612.3L1503.3 1612.3L1488.5 1612.3L1473.7 1612.3L1458.8 1599.6L1473.7 1586.9L1488.5 1586.9L1503.3 1586.9L1518.2 1574.1L1518.2 1561.4L1503.3 1574.1L1488.5 1586.9L1473.7 1574.1L1488.5 1561.4L1473.7 1548.7L1488.5 1535.9L1503.3 1548.7L1503.3 1535.9L1488.5 1523.2L1503.3 1510.5L1488.5 1497.7L1503.3 1485.0L1518.2 1472.2L1533.0 1472.2L1547.8 1485.0L1562.7 1485.0L1547.8 1472.2L1533.0 1459.5L1547.8 1446.8L1562.7 1434.0L1577.5 1421.3L1592.3 1421.3L1592.3 1408.6L1607.2 1395.8L1622.0 1395.8L1607.2 1395.8L1592.3 1383.1L1592.3 1370.4L1592.3 1383.1L1577.5 1395.8L1562.7 1383.1L1562.7 1370.4L1562.7 1357.6L1562.7 1370.4L1547.8 1383.1L1533.0 1370.4L1518.2 1357.6ZM1340.2 1383.1L1355.0 1383.1M1458.8 1383.1L1458.8 1395.8M1384.7 1408.6L1384.7 1421.3M1429.2 1446.8L1444.0 1434.0L1458.8 1446.8L1444.0 1459.5ZM1429.2 1485.0L1444.0 1472.2L1458.8 1485.0L1444.0 1497.7L1429.2 1510.5L1414.3 1510.5L1399.5 1497.7L1414.3 1485.0L1429.2 1485.0ZM1117.7 1510.5L1117.7 1523.2M1384.7 1523.2L1399.5 1510.5L1414.3 1510.5L1429.2 1510.5L1444.0 1523.2L1444.0 1535.9L1458.8 1548.7L1444.0 1561.4L1429.2 1548.7L1414.3 1548.7L1399.5 1548.7L1384.7 1535.9ZM1444.0 1523.2L1458.8 1510.5L1473.7 1523.2L1458.8 1535.9ZM361.1 1574.1L376.0 1561.4L361.1 1561.4M1696.2 1625.1L1711.0 1612.3L1725.8 1625.1L1711.0 1637.8ZM1562.7 1637.8L1577.5 1637.8L1592.3 1650.6L1592.3 1663.3L1592.3 1650.6L1592.3 1637.8L1577.5 1637.8ZM1651.7 1650.6L1651.7 1663.3M1785.2 1676.0L1770.3 1663.3L1785.2 1650.6M1488.5 1688.8L1503.3 1688.8M1473.7 1727.0L1473.7 1739.7L1473.7 1752.4M1533.0 1752.4L1518.2 1765.2L1503.3 1765.2L1488.5 1765.2L1473.7 1777.9L1458.8 1790.7L1473.7 1803.4L1473.7 1816.1L1488.5 1803.4L1503.3 1803.4L1518.2 1790.7L1533.0 1803.4L1547.8 1790.7L1562.7 1803.4L1562.7 1816.1L1547.8 1828.9L1533.0 1828.9L1518.2 1816.1L1518.2 1828.9L1503.3 1841.6L1518.2 1841.6L1533.0 1828.9L1547.8 1828.9L1562.7 1828.9L1562.7 1816.1L1562.7 1803.4L1562.7 1790.7L1562.7 1777.9L1562.7 1765.2L1547.8 1765.2L1533.0 1752.4ZM1666.5 1752.4L1651.7 1765.2L1666.5 1765.2L1666.5 1752.4ZM1251.2 1777.9L1251.2 1790.7L1266.0 1790.7L1251.2 1777.9ZM1696.2 1777.9L1711.0 1777.9M1088.0 1790.7L1088.0 1803.4L1102.8 1816.1L1102.8 1828.9L1088.0 1841.6L1073.1 1854.3L1058.3 1854.3L1058.3 1867.1L1043.5 1879.8L1058.3 1879.8L1073.1 1867.1L1088.0 1879.8L1102.8 1867.1L1117.7 1867.1L1117.7 1854.3L1117.7 1841.6L1132.5 1828.9L1147.3 1828.9L1147.3 1816.1L1132.5 1803.4L1117.7 1803.4L1102.8 1803.4L1088.0 1790.7ZM1191.8 1790.7L1191.8 1803.4M361.1 1790.7L376.0 1790.7L361.1 1777.9M1310.5 1803.4L1325.3 1803.4M1251.2 1816.1L1266.0 1816.1L1280.8 1816.1M1043.5 1828.9L1058.3 1828.9M361.1 1841.6L361.1 1828.9M1429.2 1867.1L1444.0 1867.1M1355.0 1879.8L1355.0 1892.5L1340.2 1905.3L1355.0 1905.3L1355.0 1892.5L1355.0 1879.8ZM1636.8 1879.8L1651.7 1867.1L1666.5 1867.1L1681.3 1879.8L1696.2 1892.5L1696.2 1905.3L1711.0 1918.0L1696.2 1930.7L1681.3 1930.7L1666.5 1930.7L1651.7 1918.0L1666.5 1905.3L1666.5 1892.5L1651.7 1892.5ZM1073.1 1892.5L1073.1 1905.3L1073.1 1918.0L1088.0 1918.0L1073.1 1905.3L1073.1 1892.5ZM1117.7 1892.5L1132.5 1892.5M1295.7 1892.5L1280.8 1905.3L1266.0 1905.3L1266.0 1918.0L1266.0 1930.7L1280.8 1943.5L1295.7 1930.7L1310.5 1943.5L1310.5 1930.7L1325.3 1918.0L1310.5 1905.3L1295.7 1892.5ZM361.1 1905.3L361.1 1892.5L361.1 1879.8L361.1 1867.1M924.8 1918.0L939.6 1918.0L954.5 1918.0M1607.2 1918.0L1622.0 1905.3L1636.8 1905.3L1651.7 1918.0L1636.8 1930.7L1622.0 1930.7ZM939.6 1956.2L939.6 1969.0L939.6 1981.7M1533.0 1956.2L1547.8 1943.5L1562.7 1956.2L1547.8 1969.0ZM509.5 1969.0L524.3 1969.0L539.1 1969.0M1013.8 1994.4L1028.6 1981.7L1043.5 1994.4L1058.3 2007.2L1043.5 2019.9L1028.6 2007.2ZM524.3 2032.6L524.3 2045.4L539.1 2032.6ZM628.1 2032.6L613.3 2045.4L598.5 2045.4L583.6 2058.1L568.8 2045.4L554.0 2045.4L554.0 2058.1L568.8 2058.1L583.6 2070.8L583.6 2083.6L583.6 2070.8L598.5 2058.1L613.3 2070.8L613.3 2083.6L613.3 2070.8L628.1 2058.1L628.1 2045.4L643.0 2032.6ZM702.3 2032.6L702.3 2045.4L717.1 2045.4L732.0 2045.4L717.1 2045.4L702.3 2032.6ZM450.1 2058.1L465.0 2058.1M405.6 2070.8L420.5 2070.8M717.1 2070.8L717.1 2083.6M361.1 2070.8L376.0 2070.8L390.8 2058.1L376.0 2045.4L390.8 2032.6L405.6 2032.6L390.8 2019.9L405.6 2007.2L405.6 1994.4L405.6 1981.7L390.8 1981.7L376.0 1981.7L361.1 1969.0M494.6 2083.6L509.5 2083.6M568.8 2109.1L583.6 2121.8L583.6 2109.1ZM643.0 2109.1L657.8 2096.3L672.6 2109.1L657.8 2121.8ZM450.1 2147.3L465.0 2134.5L479.8 2147.3L465.0 2160.0ZM376.0 2160.0L376.0 2147.3L390.8 2134.5L376.0 2121.8L361.1 2109.1M420.5 2160.0L405.6 2160.0"/>
<path stroke="#242424" d="M832.2 950.1L835.8 947.5L840.3 950.1L835.8 953.1ZM479.2 962.8L479.8 962.3L480.4 962.8L479.8 963.7ZM699.3 962.8L702.3 962.3L703.0 962.8L702.3 963.7ZM849.9 962.8L850.6 962.0L851.2 962.8L850.6 963.3ZM923.3 962.8L924.8 960.3L925.4 962.8L924.8 963.3ZM789.8 975.5L791.3 974.9L792.0 975.5L791.3 976.1ZM443.6 988.3L450.1 983.6L461.0 988.3L450.1 995.3ZM491.7 988.3L494.6 985.7L509.5 987.6L510.2 988.3L509.5 989.1L494.6 989.1ZM892.2 988.3L895.1 985.7L896.6 988.3L895.1 988.9ZM478.3 1001.0L479.8 998.5L480.8 1001.0L479.8 1003.6ZM534.7 1001.0L539.1 997.2L542.7 1001.0L539.1 1006.1ZM701.7 1001.0L702.3 1000.5L703.8 1001.0L707.0 1013.8L702.3 1017.8L694.1 1013.8ZM389.3 1013.8L390.8 1013.2L391.4 1013.8L390.8 1014.4ZM433.8 1013.8L435.3 1011.2L436.8 1013.8L435.3 1016.3ZM565.8 1013.8L568.8 1013.2L571.8 1013.8L568.8 1016.3ZM589.6 1013.8L598.5 1011.2L602.9 1013.8L598.5 1017.6ZM621.6 1013.8L628.1 1006.7L636.3 1013.8L628.1 1019.4ZM800.2 1013.8L806.1 1011.2L815.0 1013.8L806.1 1018.8ZM906.4 1013.8L910.0 1010.7L913.5 1013.8L910.0 1018.8ZM975.2 1013.8L984.1 1006.1L988.6 1013.8L984.1 1018.8ZM1057.6 1013.8L1058.3 1013.2L1059.1 1013.8L1058.3 1014.4ZM642.0 1026.5L643.0 1025.2L643.7 1026.5L657.8 1038.6L658.8 1039.2L657.8 1040.1L643.0 1040.1L642.0 1039.2ZM775.7 1026.5L776.5 1023.9L777.2 1026.5L776.5 1027.0ZM834.8 1026.5L835.8 1026.0L836.5 1026.5L838.8 1039.2L850.6 1049.4L862.5 1039.2L865.5 1038.4L866.1 1039.2L880.3 1051.5L895.1 1044.3L898.7 1052.0L895.1 1059.6L891.2 1064.7L880.3 1069.4L870.9 1077.4L874.4 1090.2L865.5 1093.2L851.4 1102.9L855.1 1115.6L860.1 1128.4L865.5 1139.8L880.3 1140.5L895.1 1140.3L910.0 1134.1L923.3 1128.4L910.0 1116.9L908.5 1115.6L895.1 1109.9L888.6 1102.9L895.1 1097.3L910.0 1095.3L924.8 1100.4L925.6 1102.9L939.6 1112.6L954.5 1115.0L955.5 1115.6L958.9 1128.4L954.5 1136.0L948.5 1128.4L939.6 1120.7L926.3 1128.4L935.7 1141.1L939.6 1151.3L940.6 1153.9L954.5 1159.8L962.8 1153.9L960.4 1141.1L969.3 1137.3L973.8 1141.1L984.1 1153.0L984.7 1153.9L984.1 1155.1L969.3 1163.2L966.3 1166.6L969.3 1176.8L984.1 1178.0L987.1 1179.3L984.7 1192.1L993.0 1204.8L984.1 1212.4L980.2 1217.5L969.3 1221.5L955.1 1230.3L969.3 1237.1L978.2 1230.3L984.1 1220.1L999.0 1229.0L999.6 1230.3L1013.8 1239.0L1020.3 1243.0L1013.8 1247.0L999.0 1252.3L987.1 1255.7L984.1 1256.2L969.9 1268.5L970.8 1281.2L969.3 1283.8L965.4 1293.9L969.3 1299.0L981.2 1293.9L984.1 1292.7L990.8 1281.2L999.0 1277.2L1013.8 1275.3L1024.2 1281.2L1016.8 1293.9L1028.6 1296.5L1040.5 1306.7L1034.6 1319.4L1043.5 1325.1L1052.4 1319.4L1055.3 1306.7L1050.2 1293.9L1043.5 1289.4L1034.0 1281.2L1032.5 1268.5L1028.6 1257.0L1028.1 1255.7L1028.6 1254.9L1033.8 1243.0L1028.6 1237.1L1022.7 1230.3L1028.6 1225.2L1043.5 1224.3L1052.4 1217.5L1058.3 1207.3L1070.2 1204.8L1073.1 1203.5L1076.1 1204.8L1073.1 1207.3L1070.2 1217.5L1058.3 1225.7L1053.9 1230.3L1058.3 1237.9L1073.1 1232.3L1076.1 1230.3L1088.0 1222.1L1101.3 1217.5L1093.9 1204.8L1102.8 1199.7L1111.7 1204.8L1105.8 1217.5L1117.7 1227.7L1120.6 1217.5L1121.6 1204.8L1132.5 1199.2L1139.0 1204.8L1144.4 1217.5L1135.5 1230.3L1138.4 1243.0L1132.5 1246.8L1117.7 1247.7L1106.4 1255.7L1102.8 1263.4L1099.3 1255.7L1088.0 1243.6L1073.9 1255.7L1088.0 1267.8L1090.9 1268.5L1090.9 1281.2L1088.0 1283.8L1087.0 1281.2L1073.1 1274.1L1065.0 1268.5L1058.3 1262.7L1054.5 1268.5L1055.3 1281.2L1058.3 1284.6L1073.1 1290.1L1082.0 1293.9L1073.1 1299.0L1059.8 1306.7L1064.2 1319.4L1073.1 1330.9L1088.0 1331.5L1096.0 1319.4L1102.8 1311.3L1110.7 1319.4L1107.3 1332.2L1117.7 1344.0L1118.6 1344.9L1117.7 1345.4L1105.8 1357.6L1102.8 1360.2L1096.9 1357.6L1088.0 1351.9L1073.1 1352.5L1068.7 1344.9L1058.3 1338.9L1043.5 1341.5L1028.6 1340.3L1015.3 1344.9L1028.6 1352.5L1034.6 1357.6L1038.3 1370.4L1043.5 1382.2L1046.4 1383.1L1046.4 1395.8L1043.5 1397.1L1034.6 1408.6L1031.6 1421.3L1043.5 1423.9L1046.4 1421.3L1058.3 1411.1L1064.2 1421.3L1073.1 1427.4L1084.2 1434.0L1088.0 1445.5L1090.9 1446.8L1088.0 1448.1L1073.1 1449.3L1058.3 1451.9L1043.5 1449.8L1037.5 1446.8L1028.6 1443.0L1015.3 1446.8L1024.7 1459.5L1028.6 1462.9L1036.8 1472.2L1043.5 1479.9L1050.2 1472.2L1058.3 1465.2L1073.1 1464.6L1088.0 1467.2L1102.8 1468.4L1111.7 1472.2L1117.7 1477.3L1129.5 1472.2L1132.5 1471.4L1133.2 1472.2L1147.3 1480.3L1152.8 1485.0L1148.8 1497.7L1162.2 1509.2L1162.7 1510.5L1162.2 1513.0L1147.3 1511.0L1132.5 1511.1L1131.9 1510.5L1132.5 1507.9L1144.4 1497.7L1132.5 1487.5L1126.6 1497.7L1117.7 1500.3L1113.2 1497.7L1108.8 1485.0L1102.8 1479.9L1088.0 1477.3L1084.2 1485.0L1073.1 1492.3L1058.3 1494.3L1054.4 1497.7L1052.4 1510.5L1043.5 1515.6L1030.1 1523.2L1034.6 1535.9L1043.5 1543.6L1056.8 1535.9L1058.3 1533.4L1073.1 1531.3L1087.2 1523.2L1088.0 1520.6L1090.4 1510.5L1102.8 1502.8L1109.7 1510.5L1102.8 1519.4L1089.5 1523.2L1088.6 1535.9L1102.8 1548.2L1113.0 1535.9L1117.7 1531.9L1132.5 1530.1L1147.3 1531.9L1153.8 1535.9L1147.3 1545.3L1135.5 1548.7L1141.4 1561.4L1147.3 1566.5L1162.2 1571.6L1177.0 1566.5L1181.4 1574.1L1185.1 1586.9L1191.8 1598.3L1193.3 1599.6L1202.8 1612.3L1206.7 1623.8L1212.0 1612.3L1221.5 1604.2L1226.8 1599.6L1235.6 1586.9L1221.5 1577.2L1217.9 1574.1L1206.7 1562.0L1191.8 1562.3L1188.9 1561.4L1177.0 1551.2L1162.2 1551.2L1153.3 1548.7L1162.2 1544.8L1177.0 1547.4L1191.8 1544.7L1200.0 1548.7L1206.7 1560.1L1215.6 1548.7L1206.7 1541.0L1203.7 1535.9L1191.8 1527.2L1183.7 1523.2L1191.8 1516.2L1200.7 1510.5L1205.7 1497.7L1191.8 1491.8L1177.0 1492.6L1173.4 1485.0L1166.1 1472.2L1162.2 1467.2L1147.3 1465.3L1139.4 1459.5L1144.4 1446.8L1132.5 1444.2L1117.7 1436.6L1102.8 1443.4L1094.7 1434.0L1088.0 1422.6L1087.4 1421.3L1088.0 1420.7L1102.8 1410.0L1116.0 1421.3L1117.7 1431.5L1132.5 1425.9L1141.4 1421.3L1147.3 1417.5L1156.2 1421.3L1162.2 1423.9L1177.0 1426.4L1190.8 1421.3L1180.9 1408.6L1180.9 1395.8L1177.0 1393.3L1169.1 1383.1L1177.0 1372.9L1188.9 1370.4L1183.9 1357.6L1183.7 1344.9L1191.8 1337.9L1200.0 1344.9L1203.7 1357.6L1206.7 1367.8L1208.1 1370.4L1206.7 1371.6L1191.8 1372.9L1188.9 1383.1L1191.8 1386.5L1202.7 1395.8L1198.3 1408.6L1206.7 1415.7L1215.0 1408.6L1221.5 1401.6L1229.6 1408.6L1236.3 1414.3L1247.2 1421.3L1251.2 1423.3L1266.0 1426.4L1280.8 1428.2L1292.7 1434.0L1295.7 1444.2L1297.6 1434.0L1295.7 1428.9L1292.1 1421.3L1295.7 1413.7L1298.6 1408.6L1310.5 1402.7L1319.9 1395.8L1310.5 1383.7L1295.7 1383.6L1294.2 1383.1L1295.7 1382.2L1310.5 1380.6L1325.3 1378.0L1331.3 1383.1L1340.2 1390.7L1352.0 1395.8L1355.0 1406.0L1358.0 1408.6L1355.0 1411.1L1340.2 1409.8L1337.2 1408.6L1325.3 1405.2L1322.4 1408.6L1316.4 1421.3L1325.3 1428.9L1340.2 1425.9L1352.0 1434.0L1340.2 1444.2L1337.2 1446.8L1333.2 1459.5L1325.3 1469.7L1321.4 1472.2L1325.3 1477.3L1340.2 1484.1L1343.1 1485.0L1348.3 1497.7L1346.1 1510.5L1348.3 1523.2L1346.7 1535.9L1349.1 1548.7L1340.2 1557.6L1335.7 1561.4L1340.2 1572.9L1341.1 1574.1L1348.1 1586.9L1340.2 1592.7L1328.9 1599.6L1325.3 1604.7L1316.4 1599.6L1310.5 1589.4L1308.5 1599.6L1310.5 1609.8L1312.0 1612.3L1310.5 1613.6L1303.8 1625.1L1310.5 1630.8L1318.7 1637.8L1312.0 1650.6L1325.3 1662.0L1328.3 1663.3L1326.8 1676.0L1325.3 1676.7L1324.3 1676.0L1310.5 1667.1L1295.7 1664.1L1294.9 1663.3L1289.7 1650.6L1283.2 1637.8L1280.8 1634.4L1274.9 1637.8L1266.0 1645.5L1251.2 1638.3L1236.3 1644.6L1221.5 1642.9L1213.6 1650.6L1217.5 1663.3L1206.7 1668.0L1201.2 1663.3L1196.3 1650.6L1206.7 1639.9L1209.6 1637.8L1206.7 1627.6L1191.8 1632.7L1182.9 1625.1L1180.8 1612.3L1177.0 1604.7L1162.2 1600.1L1161.2 1599.6L1162.2 1598.3L1168.8 1586.9L1162.2 1579.2L1148.8 1586.9L1147.3 1587.7L1145.8 1586.9L1132.5 1575.4L1131.7 1574.1L1126.6 1561.4L1117.7 1557.6L1104.3 1561.4L1103.6 1574.1L1102.8 1574.6L1099.9 1574.1L1101.3 1561.4L1088.0 1553.8L1082.6 1561.4L1076.1 1574.1L1076.1 1586.9L1085.0 1599.6L1088.0 1604.7L1091.5 1612.3L1088.0 1620.0L1073.1 1622.5L1058.3 1613.6L1056.8 1612.3L1058.3 1611.7L1066.4 1599.6L1058.3 1591.5L1050.3 1599.6L1043.5 1607.8L1028.6 1606.4L1018.3 1612.3L1028.6 1624.2L1029.6 1625.1L1028.6 1625.7L1013.8 1632.7L999.0 1630.2L993.6 1637.8L999.0 1649.3L1001.9 1650.6L1013.8 1652.6L1028.6 1656.3L1039.5 1663.3L1043.5 1673.5L1044.5 1676.0L1058.3 1683.2L1073.1 1681.8L1077.8 1688.8L1073.1 1698.1L1067.2 1701.5L1073.1 1706.6L1079.1 1701.5L1088.0 1699.0L1102.8 1692.6L1116.2 1688.8L1117.7 1687.9L1132.5 1681.1L1138.4 1676.0L1147.3 1668.4L1156.2 1676.0L1159.8 1688.8L1158.2 1701.5L1162.2 1711.7L1163.6 1714.2L1177.0 1718.8L1185.9 1714.2L1191.8 1706.6L1197.8 1714.2L1191.8 1719.3L1186.5 1727.0L1177.0 1732.1L1162.2 1729.5L1158.2 1739.7L1162.2 1743.1L1177.0 1751.9L1178.0 1752.4L1180.0 1765.2L1177.0 1766.5L1162.2 1772.8L1153.3 1765.2L1147.3 1760.1L1138.4 1752.4L1132.5 1742.3L1129.5 1752.4L1124.4 1765.2L1117.7 1770.3L1111.7 1765.2L1102.8 1756.4L1091.9 1752.4L1101.3 1739.7L1088.0 1728.2L1087.2 1727.0L1073.1 1717.3L1065.1 1727.0L1063.0 1739.7L1073.1 1747.3L1085.0 1752.4L1073.1 1759.2L1059.3 1765.2L1058.3 1767.7L1057.3 1765.2L1043.5 1758.0L1028.6 1753.3L1014.8 1765.2L1016.8 1777.9L1013.8 1780.5L999.0 1779.2L995.6 1790.7L999.0 1802.1L1000.0 1803.4L1013.8 1815.3L1028.6 1811.0L1043.5 1813.6L1045.0 1816.1L1043.5 1816.6L1028.6 1821.2L1015.3 1828.9L1016.8 1841.6L1020.3 1854.3L1013.8 1861.3L1002.9 1854.3L999.0 1849.2L996.6 1854.3L990.7 1867.1L984.1 1874.1L978.8 1879.8L984.1 1887.4L997.5 1879.8L999.0 1879.0L1000.0 1879.8L1013.8 1891.7L1028.6 1891.7L1030.1 1892.5L1028.6 1893.8L1013.8 1893.4L999.0 1903.2L987.1 1905.3L984.9 1918.0L984.1 1918.6L969.3 1924.7L962.4 1918.0L969.3 1909.1L982.7 1905.3L975.2 1892.5L969.3 1890.0L961.4 1879.8L963.4 1867.1L954.5 1859.4L945.6 1854.3L948.5 1841.6L939.6 1835.9L924.8 1839.6L921.8 1841.6L924.8 1844.1L936.7 1854.3L924.8 1864.5L912.9 1867.1L924.8 1870.5L939.6 1868.8L949.3 1879.8L948.5 1892.5L949.1 1905.3L939.6 1910.4L924.8 1907.8L910.0 1906.5L896.6 1918.0L895.7 1930.7L910.0 1943.0L924.8 1933.3L928.8 1930.7L939.6 1926.7L954.5 1930.2L955.2 1930.7L954.5 1933.3L939.6 1940.1L936.7 1943.5L925.4 1956.2L924.8 1957.1L923.3 1956.2L910.0 1944.8L896.6 1956.2L895.1 1957.1L892.2 1956.2L880.3 1951.1L874.4 1956.2L865.5 1961.3L850.6 1958.8L849.9 1956.2L850.6 1955.6L861.9 1943.5L850.6 1931.4L836.5 1943.5L835.8 1944.1L821.7 1956.2L821.0 1957.1L818.0 1956.2L820.0 1943.5L821.0 1942.6L829.3 1930.7L832.8 1918.0L829.9 1905.3L835.8 1900.2L850.6 1894.2L863.5 1905.3L865.5 1906.7L880.3 1910.7L891.6 1905.3L880.3 1895.6L874.4 1892.5L865.5 1884.9L850.6 1882.3L847.7 1879.8L838.8 1867.1L835.8 1856.9L821.0 1863.7L818.0 1867.1L821.0 1877.3L823.9 1879.8L821.0 1881.1L806.1 1889.1L800.2 1892.5L806.1 1897.6L812.1 1905.3L818.0 1918.0L807.1 1930.7L806.1 1931.6L797.8 1943.5L791.3 1952.8L786.6 1943.5L776.5 1938.4L761.6 1940.9L746.8 1931.3L732.0 1933.3L731.2 1930.7L717.1 1924.7L702.3 1925.0L691.4 1918.0L687.5 1912.9L683.5 1918.0L675.6 1930.7L672.6 1931.6L662.2 1943.5L672.6 1949.4L682.1 1956.2L687.5 1963.9L700.8 1956.2L699.3 1943.5L702.3 1942.2L717.1 1940.4L726.0 1943.5L732.0 1948.6L746.8 1955.7L761.6 1946.9L769.8 1956.2L761.6 1963.2L752.7 1969.0L746.8 1974.0L732.0 1976.6L726.0 1969.0L717.1 1957.5L711.8 1969.0L702.9 1981.7L711.8 1994.4L708.2 2007.2L705.3 2019.9L702.3 2020.4L701.3 2019.9L698.7 2007.2L687.5 1995.1L686.0 1994.4L687.5 1993.2L700.8 1981.7L687.5 1974.0L672.6 1976.6L666.7 1969.0L660.8 1956.2L657.8 1951.1L653.3 1943.5L643.0 1934.6L628.1 1932.0L627.1 1930.7L613.3 1923.6L598.5 1918.6L583.6 1927.3L579.7 1930.7L583.6 1934.1L598.5 1936.8L613.3 1942.6L614.8 1943.5L613.3 1944.8L599.9 1956.2L598.5 1957.1L595.5 1956.2L583.6 1952.8L577.7 1956.2L574.7 1969.0L569.5 1981.7L568.8 1984.2L568.1 1981.7L554.0 1969.6L553.4 1969.0L554.0 1967.7L562.9 1956.2L556.9 1943.5L557.9 1930.7L568.8 1925.1L577.1 1918.0L568.8 1910.9L557.9 1905.3L554.0 1895.1L551.0 1892.5L554.0 1890.0L565.8 1879.8L554.0 1874.7L539.1 1876.4L535.2 1879.8L524.3 1884.5L510.2 1892.5L510.9 1905.3L524.3 1908.5L532.0 1918.0L524.3 1926.3L509.5 1919.3L506.5 1918.0L506.5 1905.3L508.7 1892.5L494.6 1880.4L479.8 1884.5L465.0 1880.7L451.1 1892.5L465.0 1901.5L473.9 1905.3L479.8 1907.3L492.2 1918.0L479.8 1925.7L465.0 1920.6L450.1 1926.2L435.3 1925.0L421.9 1930.7L435.3 1942.2L438.3 1943.5L435.3 1946.0L420.5 1951.6L412.5 1943.5L419.5 1930.7L416.9 1918.0L420.5 1915.0L431.7 1905.3L435.3 1901.5L449.1 1892.5L439.2 1879.8L435.3 1876.4L427.1 1867.1L423.4 1854.3L434.3 1841.6L435.3 1841.0L443.3 1828.9L435.3 1816.8L432.3 1816.1L420.5 1811.0L414.5 1816.1L420.5 1821.2L424.0 1828.9L420.5 1832.7L411.6 1828.9L405.6 1823.8L399.7 1816.1L405.6 1808.5L411.6 1803.4L420.5 1795.7L435.3 1795.1L449.1 1790.7L435.3 1784.7L420.5 1780.5L419.0 1777.9L420.5 1775.4L435.3 1767.7L447.2 1765.2L435.3 1761.8L420.5 1763.1L405.6 1760.1L390.8 1757.5L384.9 1752.4L390.8 1747.3L399.7 1739.7L405.6 1734.6L419.0 1727.0L405.6 1723.1L392.3 1727.0L390.8 1728.2L387.8 1727.0L390.8 1725.7L395.2 1714.2L390.8 1708.5L382.6 1701.5L376.0 1693.9L372.4 1688.8L375.4 1676.0L376.0 1675.4L385.3 1663.3L390.0 1650.6L376.0 1638.5L375.2 1637.8L376.0 1637.0L390.8 1630.8L394.6 1625.1L390.8 1619.4L376.0 1616.2L372.4 1612.3L376.0 1604.7L378.9 1599.6L376.0 1589.4L375.2 1586.9L371.3 1574.1L376.0 1570.1L384.9 1561.4L376.0 1549.2L375.2 1548.7L372.4 1535.9L375.2 1523.2L376.0 1521.9L390.8 1522.3L393.8 1523.2L405.6 1533.4L408.0 1523.2L405.6 1513.0L404.6 1510.5L393.2 1497.7L394.6 1485.0L390.8 1480.4L384.1 1485.0L376.0 1492.0L369.4 1485.0L371.5 1472.2L376.0 1469.2L387.2 1459.5L387.8 1446.8L390.8 1445.9L396.0 1434.0L390.8 1426.9L376.0 1428.9L373.0 1421.3L376.0 1416.2L389.3 1408.6L384.3 1395.8L377.1 1383.1L376.0 1381.1L368.2 1370.4L371.5 1357.6L375.4 1344.9L375.0 1332.2L376.0 1330.9L379.8 1319.4L376.0 1308.0L375.2 1306.7L376.0 1305.8L386.3 1293.9L390.8 1286.3L402.7 1281.2L390.8 1279.2L383.0 1268.5L376.0 1258.8L372.4 1255.7L376.0 1250.6L382.6 1243.0L382.6 1230.3L379.9 1217.5L390.8 1208.2L394.7 1204.8L405.6 1195.5L409.6 1192.1L420.5 1187.4L428.6 1192.1L433.6 1204.8L435.3 1206.2L437.3 1204.8L439.7 1192.1L435.3 1180.6L434.5 1179.3L424.3 1166.6L420.5 1158.9L411.6 1153.9L420.5 1146.2L426.4 1153.9L435.3 1157.1L450.1 1164.0L454.1 1153.9L450.1 1151.8L437.7 1141.1L435.3 1139.1L420.5 1130.9L419.5 1128.4L420.5 1127.1L435.3 1119.5L450.1 1123.7L461.0 1128.4L462.6 1141.1L465.0 1144.5L479.8 1148.2L494.6 1148.2L509.5 1146.8L518.4 1141.1L523.5 1128.4L520.7 1115.6L524.3 1108.0L539.1 1111.8L549.5 1102.9L554.0 1097.8L568.8 1095.3L577.7 1102.9L568.8 1106.0L560.7 1115.6L554.0 1123.8L540.6 1128.4L539.1 1129.2L528.7 1141.1L524.3 1148.8L520.3 1153.9L524.3 1156.4L536.2 1153.9L539.1 1153.0L540.1 1153.9L542.1 1166.6L554.0 1176.8L559.9 1166.6L562.3 1153.9L565.8 1141.1L562.9 1128.4L568.8 1125.3L573.2 1128.4L583.6 1140.3L584.2 1141.1L583.6 1142.0L575.3 1153.9L583.6 1159.8L598.5 1166.1L599.9 1166.6L613.3 1172.3L626.6 1166.6L628.1 1165.3L628.7 1166.6L639.0 1179.3L640.0 1192.1L643.0 1193.5L654.8 1192.1L648.9 1179.3L654.8 1166.6L657.8 1158.9L660.8 1166.6L672.6 1175.3L678.1 1179.3L672.6 1186.3L659.3 1192.1L657.8 1192.9L653.2 1204.8L657.8 1211.9L663.7 1204.8L672.6 1195.9L678.0 1192.1L687.5 1186.2L701.6 1179.3L702.3 1176.8L703.8 1179.3L717.1 1185.1L732.0 1182.7L746.8 1191.2L761.6 1184.4L773.5 1179.3L776.5 1176.8L779.4 1179.3L791.3 1189.5L794.3 1192.1L791.3 1193.3L786.9 1204.8L791.3 1209.4L800.2 1204.8L806.1 1197.2L818.0 1192.1L806.1 1181.9L803.2 1179.3L791.3 1174.2L782.4 1166.6L790.6 1153.9L776.5 1141.8L775.5 1141.1L761.6 1132.2L757.2 1128.4L761.6 1123.3L776.5 1127.5L791.3 1127.1L796.6 1115.6L806.1 1108.8L820.0 1102.9L821.0 1101.6L822.0 1102.9L835.8 1114.8L849.7 1102.9L849.2 1090.2L847.7 1077.4L850.6 1076.6L864.5 1064.7L850.6 1052.8L835.8 1052.5L834.8 1052.0L821.0 1040.1L818.0 1039.2L821.0 1038.4ZM1027.9 1026.5L1028.6 1025.2L1029.2 1026.5L1028.6 1029.0ZM404.6 1039.2L405.6 1038.0L406.4 1039.2L405.6 1040.5ZM447.2 1039.2L450.1 1038.6L451.1 1039.2L450.1 1040.5ZM491.7 1039.2L494.6 1038.0L496.1 1039.2L494.6 1039.7ZM612.6 1039.2L613.3 1036.7L614.3 1039.2L613.3 1041.8ZM680.9 1039.2L687.5 1034.6L702.3 1038.7L703.0 1039.2L702.3 1039.7L687.5 1048.6ZM790.7 1039.2L791.3 1038.6L794.3 1039.2L791.3 1040.5ZM1087.2 1039.2L1088.0 1038.7L1089.5 1039.2L1088.0 1040.5ZM428.8 1052.0L435.3 1042.6L443.4 1052.0L435.3 1057.6ZM537.6 1052.0L539.1 1050.7L539.7 1052.0L539.1 1052.8ZM597.0 1052.0L598.5 1051.3L601.4 1052.0L598.5 1052.6ZM1128.0 1052.0L1132.5 1046.9L1135.5 1052.0L1132.5 1059.6ZM522.8 1064.7L524.3 1063.4L525.3 1064.7L524.3 1066.0ZM568.1 1064.7L568.8 1063.4L569.5 1064.7L568.8 1065.5ZM460.5 1077.4L465.0 1069.8L469.4 1077.4L465.0 1085.1ZM508.7 1077.4L509.5 1076.2L510.9 1077.4L509.5 1078.7ZM686.0 1077.4L687.5 1074.9L702.3 1072.3L706.7 1077.4L717.1 1089.3L718.6 1090.2L717.1 1092.7L702.3 1090.7L700.8 1090.2L687.5 1078.7ZM904.0 1077.4L910.0 1074.4L913.5 1077.4L910.0 1085.1ZM938.9 1077.4L939.6 1076.9L942.6 1077.4L939.6 1080.0ZM476.8 1090.2L479.8 1089.3L494.6 1089.5L496.1 1090.2L494.6 1091.4L479.8 1091.0ZM634.1 1090.2L643.0 1086.3L648.9 1090.2L643.0 1092.7ZM442.0 1102.9L450.1 1097.3L455.6 1102.9L450.1 1107.6ZM609.7 1102.9L613.3 1099.1L616.3 1102.9L622.2 1115.6L614.0 1128.4L613.3 1129.7L612.6 1128.4L604.4 1115.6ZM678.6 1102.9L687.5 1097.8L690.4 1102.9L687.5 1110.5ZM789.8 1102.9L791.3 1102.4L792.3 1102.9L791.3 1104.2ZM981.2 1102.9L984.1 1101.6L985.1 1102.9L984.1 1105.5ZM1218.5 1102.9L1221.5 1097.8L1225.9 1102.9L1221.5 1108.0ZM730.5 1115.6L732.0 1115.1L746.8 1114.4L748.3 1115.6L746.8 1116.5L736.4 1128.4L746.8 1137.3L751.3 1141.1L746.8 1144.2L737.4 1153.9L734.9 1166.6L732.0 1169.1L729.0 1166.6L725.4 1153.9L730.5 1141.1L723.1 1128.4ZM1170.5 1115.6L1177.0 1111.0L1191.8 1114.4L1192.6 1115.6L1191.8 1118.2L1177.0 1121.2ZM654.8 1128.4L657.8 1127.9L672.6 1125.8L675.6 1128.4L675.6 1141.1L672.6 1146.2L657.8 1150.5L645.9 1153.9L643.0 1154.4L641.5 1153.9L643.0 1151.3L646.9 1141.1ZM693.4 1128.4L702.3 1120.7L711.2 1128.4L702.3 1133.5ZM806.1 1125.8L794.3 1128.4L806.1 1138.6L809.1 1141.1L821.0 1144.5L827.5 1153.9L835.8 1162.8L844.1 1153.9L835.8 1142.0L832.8 1141.1L835.8 1138.6L838.8 1128.4L835.8 1118.2L829.9 1128.4L821.0 1136.0L812.1 1128.4ZM626.6 1141.1L628.1 1140.5L631.1 1141.1L628.1 1142.4ZM1013.2 1141.1L1013.8 1138.6L1014.4 1141.1L1013.8 1141.8ZM1292.7 1141.1L1295.7 1138.1L1298.6 1141.1L1295.7 1144.9ZM686.0 1153.9L687.5 1153.3L690.4 1153.9L687.5 1156.4ZM760.9 1153.9L761.6 1153.0L762.4 1153.9L770.5 1166.6L761.6 1174.2L752.7 1166.6ZM895.1 1143.7L891.2 1153.9L895.1 1164.0L901.1 1153.9ZM924.8 1150.5L918.9 1153.9L924.8 1158.9L936.7 1153.9ZM1168.1 1153.9L1177.0 1148.8L1191.8 1153.3L1192.6 1153.9L1191.8 1155.1L1182.9 1166.6L1177.0 1174.2L1162.2 1172.2L1155.6 1166.6L1162.2 1157.2ZM382.6 1166.6L390.8 1161.0L405.6 1158.9L411.6 1166.6L405.6 1174.2L390.8 1172.2ZM865.5 1158.5L851.4 1166.6L865.5 1178.7L879.6 1166.6ZM1012.8 1166.6L1013.8 1165.9L1014.4 1166.6L1013.8 1167.9ZM1097.4 1166.6L1102.8 1162.6L1107.5 1166.6L1102.8 1173.6ZM1277.9 1166.6L1280.8 1158.9L1295.7 1165.7L1296.3 1166.6L1295.7 1167.9L1280.8 1171.7ZM835.8 1171.7L826.9 1179.3L835.8 1190.8L842.5 1179.3ZM910.0 1174.2L898.1 1179.3L904.0 1192.1L910.0 1192.8L921.8 1192.1L924.8 1189.5L936.7 1179.3L924.8 1174.2ZM954.5 1174.7L941.1 1179.3L941.1 1192.1L954.5 1197.8L969.3 1197.2L981.2 1192.1L969.3 1181.9L967.8 1179.3ZM1144.4 1179.3L1147.3 1178.5L1148.3 1179.3L1147.3 1180.2ZM539.1 1188.7L536.8 1192.1L539.1 1197.2L554.0 1194.6L556.3 1192.1L554.0 1181.9ZM479.8 1194.6L477.4 1204.8L479.8 1205.7L482.2 1204.8ZM524.3 1202.8L521.3 1204.8L524.3 1207.3L530.2 1204.8ZM1010.8 1204.8L1013.8 1204.3L1014.4 1204.8L1013.8 1206.1ZM1185.9 1204.8L1191.8 1199.7L1206.7 1204.3L1209.6 1204.8L1206.7 1206.1L1191.8 1212.4ZM1233.4 1204.8L1236.3 1204.3L1236.9 1204.8L1251.2 1217.0L1265.4 1204.8L1266.0 1204.2L1267.5 1204.8L1280.8 1216.3L1283.8 1217.5L1295.7 1222.6L1304.6 1230.3L1310.5 1240.5L1325.3 1242.5L1326.8 1243.0L1325.3 1244.3L1318.7 1255.7L1325.3 1267.2L1334.2 1255.7L1340.2 1250.6L1355.0 1254.5L1356.0 1255.7L1355.0 1256.4L1340.9 1268.5L1340.2 1271.0L1325.3 1271.0L1313.5 1281.2L1310.5 1282.5L1301.6 1293.9L1295.7 1299.0L1289.0 1306.7L1280.8 1313.7L1266.0 1309.2L1264.5 1306.7L1266.0 1305.4L1280.8 1297.3L1286.8 1293.9L1294.2 1281.2L1295.7 1278.7L1301.6 1268.5L1304.0 1255.7L1295.7 1243.9L1294.9 1243.0L1280.8 1236.1L1266.0 1230.9L1265.0 1230.3L1251.2 1218.4L1237.3 1230.3L1247.2 1243.0L1236.3 1250.0L1225.4 1243.0L1221.5 1239.6L1216.0 1230.3L1221.5 1223.3L1228.2 1217.5ZM405.6 1214.1L401.7 1217.5L405.6 1220.1L408.6 1217.5ZM494.6 1212.4L491.4 1217.5L494.6 1226.4L502.9 1217.5ZM717.1 1206.1L710.5 1217.5L717.1 1221.4L721.6 1217.5ZM746.8 1212.4L744.4 1217.5L744.4 1230.3L746.8 1232.0L761.6 1231.7L763.3 1230.3L761.6 1226.9L750.8 1217.5ZM1172.5 1217.5L1177.0 1212.4L1185.9 1217.5L1177.0 1220.6ZM850.6 1220.1L847.7 1230.3L850.6 1232.8L853.0 1230.3ZM1159.2 1230.3L1162.2 1229.4L1162.9 1230.3L1177.0 1242.4L1180.0 1243.0L1177.0 1245.5L1173.0 1255.7L1177.0 1257.8L1185.9 1268.5L1184.9 1281.2L1191.8 1293.1L1192.4 1293.9L1191.8 1295.2L1177.0 1294.8L1175.5 1293.9L1162.2 1286.3L1153.3 1281.2L1162.2 1276.1L1166.6 1268.5L1162.2 1262.7L1147.3 1260.8L1142.9 1255.7L1147.3 1250.6L1160.7 1243.0ZM1188.3 1230.3L1191.8 1222.6L1195.4 1230.3L1191.8 1237.9ZM1455.9 1230.3L1458.8 1227.7L1461.8 1230.3L1469.7 1243.0L1458.8 1248.6L1444.0 1243.9L1443.4 1243.0L1444.0 1242.5ZM420.5 1240.5L418.1 1243.0L420.5 1248.1L421.8 1243.0ZM672.6 1252.3L670.3 1255.7L672.6 1256.5L675.0 1255.7ZM850.6 1253.2L848.7 1255.7L850.6 1257.4L853.6 1255.7ZM1043.5 1254.0L1031.6 1255.7L1043.5 1257.4L1047.4 1255.7ZM1253.5 1255.7L1266.0 1249.1L1276.4 1255.7L1280.8 1263.4L1289.7 1268.5L1280.8 1273.6L1266.0 1273.6L1260.1 1268.5ZM761.6 1267.0L760.3 1268.5L761.6 1269.1L763.0 1268.5ZM880.3 1266.4L868.4 1268.5L880.3 1273.6L882.7 1268.5ZM939.6 1265.2L935.8 1268.5L939.6 1274.2L950.5 1281.2L954.5 1284.6L966.3 1281.2L968.3 1268.5L954.5 1256.6ZM1225.4 1268.5L1236.3 1261.5L1244.5 1268.5L1251.2 1276.1L1257.1 1281.2L1251.2 1286.3L1236.3 1288.2L1221.5 1288.9L1206.7 1285.2L1200.1 1281.2L1206.7 1274.2L1221.5 1273.6ZM1441.0 1268.5L1444.0 1264.7L1458.8 1267.6L1461.8 1268.5L1462.4 1281.2L1458.8 1284.3L1452.9 1281.2L1444.0 1273.6ZM895.1 1279.2L889.2 1281.2L895.1 1291.4L896.2 1281.2ZM1106.8 1281.2L1117.7 1271.9L1132.5 1271.9L1143.4 1281.2L1132.5 1286.8L1126.6 1293.9L1118.4 1306.7L1117.7 1307.5L1116.2 1306.7L1102.8 1299.0L1093.9 1293.9L1102.8 1286.3ZM1412.8 1293.9L1414.3 1293.4L1415.3 1293.9L1414.3 1295.2ZM1544.3 1293.9L1547.8 1291.4L1551.4 1293.9L1548.6 1306.7L1553.8 1319.4L1547.8 1322.0L1543.4 1319.4L1546.8 1306.7ZM643.0 1306.0L640.0 1306.7L643.0 1307.8L645.3 1306.7ZM850.6 1296.5L848.3 1306.7L850.6 1310.1L865.5 1311.8L877.3 1306.7L865.5 1304.6ZM1140.5 1306.7L1147.3 1296.5L1156.8 1306.7L1162.2 1314.3L1177.0 1318.6L1191.8 1318.1L1194.8 1319.4L1191.8 1320.7L1178.5 1332.2L1177.0 1333.4L1163.6 1344.9L1162.2 1345.7L1147.3 1347.4L1146.3 1344.9L1147.3 1342.3L1151.3 1332.2L1147.3 1329.6L1132.5 1327.6L1124.6 1319.4L1132.5 1313.6ZM1223.9 1306.7L1236.3 1297.8L1246.7 1306.7L1236.3 1317.4L1230.4 1319.4L1236.3 1321.5L1246.7 1332.2L1242.3 1344.9L1236.3 1350.0L1227.4 1344.9L1221.5 1341.5L1215.0 1332.2L1212.6 1319.4L1221.5 1311.8ZM1315.8 1306.7L1325.3 1298.5L1340.2 1304.1L1355.0 1299.0L1358.6 1306.7L1355.0 1311.8L1346.1 1319.4L1340.2 1327.1L1331.3 1319.4L1325.3 1316.9ZM969.3 1310.5L955.5 1319.4L955.5 1332.2L969.3 1341.1L984.1 1343.6L989.5 1332.2L984.1 1324.5L979.7 1319.4ZM1424.5 1319.4L1429.2 1312.4L1437.3 1319.4L1429.2 1328.8ZM390.8 1328.9L377.4 1332.2L390.8 1335.4L397.5 1332.2ZM835.8 1330.7L833.4 1332.2L835.8 1342.3L839.8 1332.2ZM865.5 1324.5L858.8 1332.2L865.5 1337.9L870.8 1332.2ZM924.8 1330.7L921.8 1332.2L924.8 1334.2L930.7 1332.2ZM1289.7 1332.2L1295.7 1324.5L1304.6 1332.2L1296.4 1344.9L1298.6 1357.6L1295.7 1358.5L1280.8 1358.9L1277.9 1357.6L1280.8 1355.1L1292.7 1344.9ZM1363.9 1332.2L1369.8 1327.1L1378.7 1332.2L1369.8 1337.2ZM1606.4 1332.2L1607.2 1331.5L1607.8 1332.2L1607.2 1332.8ZM554.0 1342.8L551.0 1344.9L554.0 1350.6L556.9 1344.9ZM717.1 1340.4L711.9 1344.9L717.1 1352.0L721.7 1344.9ZM746.8 1343.0L743.5 1344.9L746.8 1348.2L751.3 1344.9ZM791.3 1341.6L786.9 1344.9L791.3 1350.6L795.1 1344.9ZM821.0 1342.9L819.0 1344.9L821.0 1348.3L832.8 1344.9ZM850.6 1341.5L838.8 1344.9L850.6 1355.1L854.6 1344.9ZM761.6 1355.6L759.7 1357.6L761.6 1361.0L765.6 1357.6ZM910.0 1355.9L908.0 1357.6L910.0 1359.3L912.9 1357.6ZM1050.2 1357.6L1058.3 1352.0L1069.2 1357.6L1058.3 1367.0ZM1218.5 1357.6L1221.5 1355.1L1223.0 1357.6L1221.5 1358.9ZM1245.2 1357.6L1251.2 1352.5L1260.1 1357.6L1251.2 1362.7ZM1383.7 1357.6L1384.7 1356.8L1385.4 1357.6L1384.7 1358.9ZM1410.8 1357.6L1414.3 1353.8L1420.3 1357.6L1414.3 1362.7ZM791.3 1367.0L779.4 1370.4L791.3 1373.8L793.7 1370.4ZM865.5 1367.0L861.5 1370.4L865.5 1373.8L871.4 1370.4ZM895.1 1368.7L889.2 1370.4L895.1 1380.6L897.1 1370.4ZM984.1 1364.6L977.5 1370.4L984.1 1376.1L993.0 1370.4ZM1366.9 1370.4L1369.8 1369.5L1371.3 1370.4L1369.8 1371.6ZM628.1 1371.2L621.2 1383.1L628.1 1387.6L642.0 1383.1ZM657.8 1378.0L645.9 1383.1L657.8 1388.2L660.8 1383.1ZM687.5 1377.4L682.1 1383.1L687.5 1385.6L696.4 1383.1ZM850.6 1376.0L843.7 1383.1L850.6 1388.2L858.9 1383.1ZM1070.2 1383.1L1073.1 1381.8L1073.9 1383.1L1073.1 1385.6ZM1116.7 1383.1L1117.7 1381.8L1120.6 1383.1L1117.7 1383.7ZM554.0 1390.3L539.7 1395.8L539.1 1397.1L534.7 1408.6L535.2 1421.3L539.1 1426.4L551.0 1421.3L548.0 1408.6L554.0 1406.0L558.4 1395.8ZM880.3 1385.6L877.9 1395.8L880.3 1406.0L895.1 1400.9L907.0 1395.8L895.1 1385.6ZM969.3 1388.7L958.9 1395.8L969.3 1400.3L973.9 1395.8ZM1128.9 1395.8L1132.5 1388.2L1147.3 1388.8L1162.2 1395.0L1165.1 1395.8L1165.1 1408.6L1162.2 1411.1L1161.2 1408.6L1147.3 1401.4L1132.5 1398.4ZM791.3 1407.1L787.3 1408.6L791.3 1413.7L794.3 1408.6ZM865.5 1406.5L859.5 1408.6L865.5 1411.1L877.3 1408.6ZM1013.8 1406.9L1011.8 1408.6L1003.4 1421.3L999.0 1428.9L998.0 1434.0L999.0 1439.1L1013.8 1444.2L1016.2 1434.0L1027.7 1421.3L1019.7 1408.6ZM1279.3 1408.6L1280.8 1406.0L1283.8 1408.6L1280.8 1409.2ZM1621.0 1408.6L1622.0 1408.1L1622.7 1408.6L1622.0 1409.2ZM984.1 1409.8L982.2 1421.3L984.1 1423.1L993.0 1421.3ZM1454.2 1421.3L1458.8 1412.0L1463.5 1421.3L1458.8 1425.3ZM450.1 1430.8L436.8 1434.0L450.1 1439.8L459.0 1434.0ZM494.6 1426.4L484.5 1434.0L487.9 1446.8L494.6 1449.1L497.6 1446.8L504.8 1434.0ZM1058.3 1431.5L1055.3 1434.0L1058.3 1439.1L1060.3 1434.0ZM1147.3 1426.4L1142.0 1434.0L1147.3 1445.5L1148.8 1446.8L1162.2 1454.4L1171.1 1446.8L1162.2 1442.2L1152.7 1434.0ZM1383.9 1434.0L1384.7 1433.5L1385.4 1434.0L1384.7 1435.3ZM420.5 1445.3L416.5 1446.8L420.5 1457.0L422.8 1446.8ZM1280.8 1444.2L1278.5 1446.8L1280.8 1451.9L1285.3 1459.5L1295.7 1466.6L1304.0 1459.5L1295.7 1447.6L1292.7 1446.8ZM1360.9 1446.8L1369.8 1443.7L1375.8 1446.8L1369.8 1450.6ZM1116.7 1459.5L1117.7 1457.0L1118.6 1459.5L1117.7 1462.1ZM1354.0 1459.5L1355.0 1457.0L1356.0 1459.5L1359.4 1472.2L1355.0 1479.9L1350.5 1472.2ZM1395.0 1459.5L1399.5 1456.5L1402.5 1459.5L1399.5 1462.1ZM539.1 1466.5L533.8 1472.2L539.1 1476.8L545.8 1472.2ZM1206.7 1470.2L1205.0 1472.2L1206.7 1477.3L1209.0 1472.2ZM1266.0 1466.2L1258.9 1472.2L1266.0 1480.3L1274.0 1472.2ZM479.8 1482.9L478.3 1485.0L479.8 1487.5L483.7 1485.0ZM776.5 1482.9L774.8 1485.0L776.5 1486.7L788.3 1485.0ZM924.8 1481.6L918.9 1485.0L924.8 1486.4L926.5 1485.0ZM1013.8 1477.3L1009.4 1485.0L1013.8 1488.8L1019.2 1485.0ZM1251.2 1482.9L1248.2 1485.0L1251.2 1488.4L1255.1 1485.0ZM1310.5 1481.6L1304.6 1485.0L1295.7 1488.0L1280.8 1492.6L1266.0 1494.3L1262.0 1497.7L1266.0 1500.3L1280.8 1502.8L1285.3 1510.5L1295.7 1516.4L1310.5 1513.9L1313.5 1510.5L1310.5 1505.4L1306.9 1497.7L1310.5 1490.1L1316.4 1485.0ZM1378.7 1485.0L1384.7 1481.2L1387.6 1485.0L1384.7 1487.5ZM1517.6 1485.0L1518.2 1484.5L1519.7 1485.0L1518.2 1485.8ZM435.3 1488.8L421.4 1497.7L435.3 1502.8L440.5 1497.7ZM583.6 1496.6L581.6 1497.7L583.6 1501.1L585.3 1497.7ZM821.0 1494.3L818.6 1497.7L821.0 1500.3L823.9 1497.7ZM850.6 1487.5L847.7 1497.7L850.6 1499.4L853.6 1497.7ZM895.1 1495.2L893.4 1497.7L895.1 1499.8L898.1 1497.7ZM1325.3 1492.6L1319.4 1497.7L1325.3 1500.3L1329.3 1497.7ZM657.8 1506.7L650.8 1510.5L657.8 1514.9L660.2 1510.5ZM791.3 1517.1L784.8 1523.2L791.3 1530.0L806.1 1530.8L821.0 1524.9L835.8 1534.7L844.7 1523.2L835.8 1517.5L821.0 1520.6L806.1 1519.9ZM939.6 1518.1L937.7 1523.2L939.6 1525.7L954.5 1530.8L962.4 1523.2L954.5 1513.0ZM984.1 1514.5L976.2 1523.2L975.2 1535.9L984.1 1539.2L999.0 1537.6L1004.9 1535.9L1001.9 1523.2L999.0 1513.0ZM1236.3 1515.6L1223.0 1523.2L1228.0 1535.9L1236.3 1544.8L1251.2 1539.3L1266.0 1546.1L1280.8 1541.0L1295.7 1547.8L1306.0 1535.9L1295.7 1530.0L1280.8 1524.0L1266.0 1532.5L1255.1 1523.2L1251.2 1513.0ZM1420.3 1523.2L1429.2 1520.6L1432.1 1523.2L1429.2 1530.8ZM554.0 1530.8L551.6 1535.9L554.0 1537.6L556.9 1535.9ZM1413.6 1535.9L1414.3 1533.4L1417.3 1535.9L1414.3 1536.4ZM1325.3 1545.3L1323.6 1548.7L1325.3 1550.7L1327.7 1548.7ZM1443.4 1548.7L1444.0 1548.2L1444.6 1548.7L1444.0 1549.2ZM1043.5 1556.3L1031.6 1561.4L1031.6 1574.1L1028.6 1576.7L1016.8 1586.9L1028.6 1589.4L1043.5 1589.4L1047.4 1586.9L1046.4 1574.1L1045.9 1561.4ZM1295.7 1551.2L1291.7 1561.4L1295.7 1563.9L1301.6 1561.4ZM1396.5 1561.4L1399.5 1560.9L1401.0 1561.4L1399.5 1562.0ZM1266.0 1562.3L1257.7 1574.1L1266.0 1586.0L1271.2 1574.1ZM1363.3 1574.1L1369.8 1564.8L1378.0 1574.1L1384.7 1578.7L1399.5 1586.2L1414.3 1586.0L1424.7 1574.1L1429.2 1571.6L1433.6 1574.1L1432.1 1586.9L1433.8 1599.6L1429.2 1603.6L1414.9 1612.3L1417.3 1625.1L1414.3 1625.7L1413.3 1625.1L1399.5 1613.2L1398.0 1612.3L1399.5 1609.8L1411.4 1599.6L1399.5 1589.4L1395.5 1599.6L1384.7 1606.6L1378.1 1599.6L1376.8 1586.9L1369.8 1579.7ZM910.0 1583.5L908.8 1586.9L910.0 1587.7L910.7 1586.9ZM1205.2 1586.9L1206.7 1586.2L1207.4 1586.9L1206.7 1588.1ZM1295.7 1582.3L1282.3 1586.9L1295.7 1590.1L1309.0 1586.9ZM1695.4 1586.9L1696.2 1586.4L1696.8 1586.9L1696.2 1587.4ZM969.3 1592.0L966.6 1599.6L969.3 1603.4L973.8 1599.6ZM1099.9 1599.6L1102.8 1599.1L1103.8 1599.6L1102.8 1600.2ZM1128.0 1599.6L1132.5 1594.5L1136.9 1599.6L1132.5 1604.7ZM1251.2 1588.1L1245.8 1599.6L1251.2 1602.9L1256.5 1599.6ZM1145.8 1612.3L1147.3 1611.5L1147.9 1612.3L1156.8 1625.1L1162.2 1632.7L1177.0 1635.3L1180.0 1637.8L1177.0 1639.1L1162.2 1642.9L1147.3 1640.9L1132.5 1642.5L1126.0 1637.8L1132.5 1633.8L1141.4 1625.1ZM1280.8 1606.6L1267.5 1612.3L1280.8 1618.1L1294.2 1612.3ZM1221.5 1622.5L1209.6 1625.1L1221.5 1627.6L1223.5 1625.1ZM1251.2 1621.8L1247.3 1625.1L1251.2 1636.5L1264.5 1625.1ZM1319.4 1625.1L1325.3 1620.0L1340.2 1623.8L1340.9 1625.1L1343.7 1637.8L1340.2 1641.6L1334.2 1637.8L1325.3 1630.2ZM1383.2 1625.1L1384.7 1623.8L1385.7 1625.1L1384.7 1625.9ZM1487.9 1625.1L1488.5 1624.6L1491.5 1625.1L1488.5 1625.9ZM1619.0 1625.1L1622.0 1624.2L1623.5 1625.1L1627.9 1637.8L1622.0 1641.6L1616.1 1637.8ZM924.8 1630.2L911.5 1637.8L924.8 1641.1L938.2 1637.8ZM969.3 1632.1L962.6 1637.8L966.3 1650.6L969.3 1655.6L972.3 1650.6L974.7 1637.8ZM1042.7 1637.8L1043.5 1637.0L1044.5 1637.8L1043.5 1640.4ZM1079.8 1637.8L1088.0 1628.5L1098.9 1637.8L1088.0 1644.8ZM1425.6 1637.8L1429.2 1630.2L1433.6 1637.8L1429.2 1642.9ZM1071.7 1650.6L1073.1 1649.3L1074.6 1650.6L1073.1 1653.1ZM1413.3 1650.6L1414.3 1649.9L1415.8 1650.6L1414.3 1651.4ZM1458.1 1650.6L1458.8 1648.0L1459.4 1650.6L1458.8 1653.1ZM1049.4 1663.3L1058.3 1658.2L1067.2 1663.3L1058.3 1667.1ZM1099.9 1663.3L1102.8 1662.0L1104.3 1663.3L1103.8 1676.0L1102.8 1677.3L1102.1 1676.0ZM1131.0 1663.3L1132.5 1662.7L1135.5 1663.3L1132.5 1665.8ZM1233.4 1663.3L1236.3 1662.4L1239.3 1663.3L1236.3 1663.8ZM1470.7 1663.3L1473.7 1662.8L1474.4 1663.3L1473.7 1663.9ZM1621.0 1663.3L1622.0 1662.4L1622.7 1663.3L1622.0 1664.1ZM1725.1 1663.3L1725.8 1662.8L1726.6 1663.3L1725.8 1663.8ZM1168.1 1676.0L1177.0 1670.9L1185.9 1676.0L1177.0 1678.6ZM1220.7 1676.0L1221.5 1673.5L1222.1 1676.0L1232.4 1688.8L1221.5 1693.4L1215.0 1688.8ZM1260.1 1676.0L1266.0 1670.9L1271.9 1676.0L1266.0 1681.1ZM1487.8 1676.0L1488.5 1675.4L1491.5 1676.0L1488.5 1676.5ZM1191.2 1688.8L1191.8 1686.2L1192.8 1688.8L1191.8 1691.3ZM1294.7 1688.8L1295.7 1687.9L1298.6 1688.8L1310.5 1699.0L1325.3 1696.8L1339.4 1688.8L1340.2 1687.5L1341.1 1688.8L1343.1 1701.5L1340.2 1704.0L1328.3 1714.2L1326.1 1727.0L1331.9 1739.7L1326.1 1752.4L1325.3 1753.7L1310.5 1757.5L1303.8 1765.2L1295.7 1772.2L1280.8 1770.3L1276.4 1765.2L1280.8 1761.4L1295.7 1755.8L1301.6 1752.4L1295.7 1750.4L1288.7 1739.7L1295.7 1730.8L1306.0 1739.7L1310.5 1747.3L1317.2 1739.7L1324.3 1727.0L1324.3 1714.2L1310.5 1702.3L1295.7 1702.8L1292.7 1701.5ZM420.5 1696.4L408.6 1701.5L416.0 1714.2L420.5 1725.7L421.9 1727.0L435.3 1738.4L440.6 1727.0L435.3 1715.5L433.8 1714.2L422.8 1701.5ZM479.8 1698.5L475.6 1701.5L465.0 1713.0L463.5 1714.2L465.0 1717.6L473.1 1727.0L479.8 1731.6L494.6 1732.7L509.5 1731.6L524.3 1737.2L527.3 1727.0L524.3 1716.8L509.5 1719.3L494.6 1719.3L491.1 1714.2L485.7 1701.5ZM554.0 1699.6L548.6 1701.5L554.0 1706.1L562.9 1701.5ZM613.3 1700.2L610.3 1701.5L613.3 1706.6L615.7 1701.5ZM999.0 1695.6L994.4 1701.5L990.1 1714.2L984.1 1716.8L976.2 1727.0L970.8 1739.7L984.1 1751.2L997.5 1739.7L999.0 1738.4L1005.7 1727.0L1003.4 1714.2L1012.8 1701.5ZM1117.7 1690.0L1113.2 1701.5L1111.0 1714.2L1117.7 1721.9L1126.6 1727.0L1132.5 1737.2L1138.4 1727.0L1144.4 1714.2L1132.5 1710.8L1124.3 1701.5ZM1360.9 1701.5L1369.8 1697.7L1378.7 1701.5L1369.8 1706.6ZM1396.5 1701.5L1399.5 1700.2L1400.2 1701.5L1400.2 1714.2L1399.5 1715.5L1396.5 1714.2ZM628.1 1712.2L622.2 1714.2L628.1 1716.8L630.5 1714.2ZM702.3 1711.9L697.0 1714.2L687.5 1724.4L685.5 1727.0L687.5 1737.2L702.3 1736.6L707.4 1727.0L704.5 1714.2ZM954.5 1710.8L953.3 1714.2L954.5 1719.3L957.4 1714.2ZM1043.5 1712.5L1039.5 1714.2L1043.5 1715.7L1049.4 1714.2ZM1220.0 1714.2L1221.5 1713.6L1222.5 1714.2L1221.5 1716.8ZM1428.4 1714.2L1429.2 1713.0L1429.9 1714.2L1429.2 1715.5ZM598.5 1723.1L591.8 1727.0L598.5 1730.2L607.4 1727.0ZM1233.4 1727.0L1236.3 1726.1L1237.8 1727.0L1251.2 1738.4L1251.9 1739.7L1266.0 1749.4L1270.4 1752.4L1266.0 1756.3L1251.2 1756.3L1245.2 1752.4L1236.3 1741.0L1221.5 1740.6L1220.5 1739.7L1221.5 1737.2ZM1260.1 1727.0L1266.0 1721.9L1280.8 1724.4L1286.8 1727.0L1280.8 1729.5L1266.0 1730.0ZM465.0 1736.3L463.0 1739.7L450.1 1750.7L446.2 1752.4L450.1 1762.6L451.1 1765.2L465.0 1769.6L475.3 1765.2L479.8 1760.1L485.1 1752.4L479.8 1747.9L467.9 1739.7ZM583.6 1731.6L572.4 1739.7L583.6 1751.8L589.9 1739.7ZM613.3 1734.6L611.3 1739.7L613.3 1741.2L617.3 1739.7ZM835.8 1731.6L828.8 1739.7L835.8 1745.8L842.1 1739.7ZM954.5 1734.6L948.5 1739.7L954.5 1749.9L966.3 1739.7ZM1191.2 1739.7L1191.8 1738.4L1192.8 1739.7L1191.8 1740.6ZM1368.3 1739.7L1369.8 1739.1L1372.8 1739.7L1371.3 1752.4L1369.8 1753.3L1368.8 1752.4ZM628.1 1749.0L626.4 1752.4L628.1 1755.0L634.1 1752.4ZM672.6 1745.3L658.8 1752.4L672.6 1761.4L681.5 1765.2L687.5 1768.6L690.4 1765.2L687.5 1760.1L683.0 1752.4ZM850.6 1748.0L844.7 1752.4L850.6 1761.4L864.5 1752.4ZM895.1 1747.3L893.2 1752.4L895.1 1755.8L901.1 1752.4ZM583.6 1755.0L581.3 1765.2L583.6 1766.2L585.6 1765.2ZM791.3 1764.0L787.3 1765.2L785.4 1777.9L791.3 1780.0L806.1 1783.6L810.0 1777.9L806.1 1775.8L792.5 1765.2ZM969.3 1756.3L958.9 1765.2L954.5 1772.8L939.6 1774.6L926.3 1777.9L935.7 1790.7L939.6 1792.3L951.5 1790.7L954.5 1788.1L960.4 1777.9L969.3 1774.1L978.2 1777.9L984.1 1779.4L996.0 1777.9L999.0 1775.4L1010.8 1765.2L999.0 1755.0L993.0 1765.2L984.1 1772.8L979.7 1765.2ZM1203.7 1765.2L1206.7 1764.7L1209.6 1765.2L1206.7 1765.7ZM1040.5 1777.9L1043.5 1777.1L1046.4 1777.9L1058.3 1783.0L1073.1 1789.4L1073.7 1790.7L1073.1 1791.5L1058.3 1794.5L1043.5 1793.2L1042.0 1790.7ZM1099.9 1777.9L1102.8 1777.4L1103.4 1777.9L1117.7 1786.6L1132.5 1788.1L1144.4 1777.9L1147.3 1775.4L1150.3 1777.9L1148.1 1790.7L1147.3 1793.2L1132.5 1791.2L1117.7 1794.7L1102.8 1793.2L1099.9 1790.7ZM1265.4 1777.9L1266.0 1777.1L1267.5 1777.9L1266.0 1778.4ZM1383.7 1777.9L1384.7 1777.4L1385.7 1777.9L1384.7 1778.8ZM539.1 1789.2L536.8 1790.7L539.1 1791.3L540.1 1790.7ZM672.6 1785.6L668.7 1790.7L672.6 1791.8L684.5 1790.7ZM850.6 1780.5L848.3 1790.7L850.6 1794.0L856.6 1790.7ZM880.3 1778.4L868.4 1790.7L865.5 1795.7L858.8 1803.4L865.5 1811.0L880.3 1813.6L892.2 1803.4L894.5 1790.7ZM1229.8 1790.7L1236.3 1781.3L1241.0 1790.7L1237.8 1803.4L1236.3 1804.0L1235.3 1803.4ZM1621.0 1790.7L1622.0 1790.0L1623.0 1790.7L1622.0 1791.5ZM479.8 1797.4L469.4 1803.4L477.4 1816.1L479.8 1826.3L483.7 1816.1L493.6 1803.4ZM643.0 1796.5L631.7 1803.4L643.0 1808.8L648.1 1803.4ZM910.0 1795.7L896.6 1803.4L910.0 1808.0L918.9 1803.4ZM371.5 1816.1L376.0 1812.3L381.9 1816.1L376.0 1821.2ZM465.0 1826.8L462.0 1828.9L459.6 1841.6L465.0 1846.2L479.8 1848.7L487.9 1854.3L494.6 1865.8L495.6 1867.1L509.5 1879.0L519.8 1867.1L524.3 1863.2L539.1 1857.7L551.0 1854.3L539.1 1850.9L524.3 1849.2L511.8 1841.6L524.3 1832.7L539.1 1836.0L549.5 1828.9L539.1 1824.4L524.3 1825.0L509.5 1820.8L502.4 1828.9L505.5 1841.6L494.6 1848.6L488.1 1841.6L479.8 1829.7L476.8 1828.9ZM806.1 1826.3L803.2 1828.9L806.1 1831.4L808.5 1828.9ZM999.0 1823.8L995.0 1828.9L999.0 1834.0L1010.8 1828.9ZM1072.6 1828.9L1073.1 1828.3L1073.9 1828.9L1073.1 1831.4ZM1260.1 1828.9L1266.0 1826.3L1269.6 1828.9L1266.0 1836.5ZM1324.3 1828.9L1325.3 1827.6L1326.1 1828.9L1325.3 1831.4ZM1441.0 1828.9L1444.0 1828.0L1445.0 1828.9L1444.0 1829.5ZM397.5 1841.6L405.6 1832.3L412.1 1841.6L416.5 1854.3L405.6 1863.7L399.1 1854.3ZM583.6 1838.3L577.0 1841.6L568.8 1848.6L555.4 1854.3L568.8 1865.8L583.6 1862.0L589.6 1867.1L598.5 1874.7L607.4 1867.1L613.3 1864.0L619.6 1854.3L626.6 1841.6L613.3 1838.7L598.5 1831.4ZM643.0 1840.8L631.1 1841.6L643.0 1846.7L644.7 1841.6ZM835.8 1838.2L833.4 1841.6L835.8 1851.8L838.8 1841.6ZM880.3 1835.7L869.9 1841.6L880.3 1850.5L895.1 1853.1L900.5 1841.6L895.1 1834.0ZM1309.5 1841.6L1310.5 1840.7L1313.5 1841.6L1310.5 1844.1ZM597.0 1854.3L598.5 1851.8L599.2 1854.3L598.5 1855.6ZM687.5 1851.1L682.1 1854.3L687.5 1858.9L691.9 1854.3ZM806.1 1848.4L800.2 1854.3L806.1 1860.3L814.4 1854.3ZM1286.8 1854.3L1295.7 1850.5L1304.6 1854.3L1295.7 1862.0ZM1352.0 1854.3L1355.0 1853.7L1355.7 1854.3L1355.0 1855.2ZM384.9 1867.1L390.8 1863.2L399.7 1867.1L390.8 1872.2ZM450.1 1863.7L446.2 1867.1L450.1 1870.5L452.5 1867.1ZM865.5 1863.7L862.5 1867.1L865.5 1872.2L869.4 1867.1ZM895.1 1855.6L888.5 1867.1L895.1 1870.9L908.5 1867.1ZM1205.2 1867.1L1206.7 1866.2L1207.6 1867.1L1206.7 1867.7ZM1248.2 1867.1L1251.2 1865.8L1266.0 1865.8L1267.5 1867.1L1266.0 1868.3L1251.2 1867.6ZM1322.4 1867.1L1325.3 1864.5L1328.3 1867.1L1340.2 1877.3L1340.8 1879.8L1340.2 1880.7L1325.3 1881.1L1322.4 1879.8ZM399.7 1879.8L405.6 1872.2L411.6 1879.8L408.6 1892.5L406.4 1905.3L405.6 1905.9L404.1 1905.3L402.7 1892.5ZM628.1 1871.1L616.3 1879.8L628.1 1892.0L628.9 1892.5L643.0 1898.6L651.0 1892.5L651.9 1879.8L643.0 1876.0ZM1188.3 1879.8L1191.8 1874.7L1195.4 1879.8L1191.8 1883.6ZM1233.4 1879.8L1236.3 1877.3L1236.9 1879.8L1236.3 1882.3ZM583.6 1889.1L581.6 1892.5L583.6 1902.7L589.6 1892.5ZM702.3 1887.4L699.3 1892.5L693.4 1905.3L702.3 1911.0L706.7 1905.3L714.2 1892.5ZM1056.8 1892.5L1058.3 1892.0L1058.9 1892.5L1058.3 1895.1ZM1102.1 1892.5L1102.8 1891.7L1103.4 1892.5L1102.8 1893.4ZM1146.7 1892.5L1147.3 1891.7L1147.9 1892.5L1147.3 1893.8ZM1265.2 1892.5L1266.0 1891.3L1267.0 1892.5L1266.0 1893.0ZM533.2 1905.3L539.1 1897.6L548.0 1905.3L539.1 1907.8ZM613.3 1902.7L601.4 1905.3L613.3 1908.7L616.3 1905.3ZM746.8 1900.2L734.9 1905.3L746.8 1906.7L761.6 1910.7L771.0 1905.3L761.6 1901.8ZM551.0 1918.0L554.0 1910.4L558.4 1918.0L554.0 1925.7ZM643.0 1914.2L637.6 1918.0L643.0 1925.7L657.8 1920.6L661.8 1918.0L657.8 1912.9ZM1024.2 1918.0L1028.6 1912.9L1033.1 1918.0L1028.6 1921.8ZM1057.3 1918.0L1058.3 1915.5L1058.9 1918.0L1058.3 1919.3ZM1146.3 1918.0L1147.3 1916.7L1162.2 1917.4L1162.7 1918.0L1162.2 1919.3L1147.3 1918.9ZM1184.9 1918.0L1191.8 1909.1L1206.7 1917.5L1221.5 1912.9L1236.3 1914.0L1251.2 1916.7L1251.8 1918.0L1251.8 1930.7L1251.2 1933.3L1248.2 1930.7L1236.3 1927.3L1221.5 1921.8L1206.7 1920.6L1191.8 1928.7ZM538.1 1930.7L539.1 1930.2L542.1 1930.7L539.1 1932.0ZM998.2 1930.7L999.0 1930.1L1001.9 1930.7L999.0 1932.0ZM1175.5 1930.7L1177.0 1930.2L1180.0 1930.7L1185.1 1943.5L1191.8 1949.2L1202.7 1956.2L1203.7 1969.0L1200.7 1981.7L1191.8 1989.3L1180.0 1994.4L1191.8 1997.0L1199.7 2007.2L1191.8 2014.0L1177.0 2008.0L1174.0 2007.2L1176.2 1994.4L1162.2 1982.3L1154.1 1994.4L1147.3 2004.6L1141.4 2007.2L1132.5 2011.0L1126.6 2007.2L1132.5 1999.5L1135.5 1994.4L1132.5 1984.2L1129.5 1981.7L1132.5 1980.4L1145.8 1969.0L1147.3 1968.3L1162.2 1966.4L1174.0 1956.2L1168.8 1943.5ZM470.9 1943.5L479.8 1939.7L494.6 1933.3L506.5 1943.5L509.5 1946.9L524.3 1955.4L539.1 1954.9L540.6 1956.2L539.1 1956.7L524.3 1956.7L509.5 1960.2L504.0 1956.2L494.6 1949.3L483.3 1956.2L480.8 1969.0L494.6 1980.8L496.1 1981.7L494.6 1983.0L479.8 1983.0L476.8 1981.7L465.0 1979.1L453.1 1969.0L450.1 1958.8L447.7 1969.0L435.3 1977.9L422.8 1969.0L435.3 1958.3L447.2 1956.2L450.1 1953.7L465.0 1945.5ZM966.3 1943.5L969.3 1942.8L970.8 1943.5L969.3 1944.8ZM1007.9 1943.5L1013.8 1935.8L1017.4 1943.5L1013.8 1951.1ZM1142.9 1943.5L1147.3 1939.7L1153.3 1943.5L1147.3 1946.5ZM1220.0 1943.5L1221.5 1942.6L1222.1 1943.5L1221.5 1944.8ZM1263.0 1943.5L1266.0 1943.0L1266.6 1943.5L1266.0 1944.0ZM1336.6 1943.5L1340.2 1940.9L1355.0 1942.2L1355.6 1943.5L1355.0 1944.0L1340.2 1946.0ZM622.2 1956.2L628.1 1951.1L637.0 1956.2L628.1 1961.3L623.7 1969.0L616.3 1981.7L624.2 1994.4L628.1 2004.6L629.6 2007.2L628.1 2009.7L625.2 2007.2L613.3 2003.8L605.1 1994.4L598.5 1983.0L597.7 1981.7L598.5 1980.8L604.4 1969.0L613.3 1960.0ZM1101.3 1956.2L1102.8 1955.6L1117.7 1953.7L1118.6 1956.2L1123.6 1969.0L1117.7 1976.6L1113.2 1969.0L1102.8 1957.1ZM1226.8 1956.2L1236.3 1951.1L1245.8 1956.2L1251.2 1967.7L1252.6 1969.0L1251.2 1969.8L1248.2 1969.0L1236.3 1966.4ZM1276.2 1956.2L1280.8 1952.2L1287.4 1956.2L1280.8 1961.8ZM775.0 1969.0L776.5 1967.7L791.3 1961.3L797.2 1969.0L791.3 1976.6L776.5 1970.2ZM834.8 1969.0L835.8 1968.3L838.8 1969.0L840.3 1981.7L835.8 1984.7L832.2 1981.7ZM909.0 1969.0L910.0 1967.7L911.0 1969.0L924.8 1977.9L927.8 1981.7L924.8 1989.3L910.0 1985.5L895.1 1982.5L894.2 1981.7L895.1 1980.8ZM858.9 1981.7L865.5 1974.7L872.0 1981.7L865.5 1987.3ZM1096.9 1981.7L1102.8 1977.9L1111.7 1981.7L1102.8 1986.8ZM1218.5 1981.7L1221.5 1981.1L1236.3 1979.1L1237.3 1981.7L1239.3 1994.4L1251.2 2004.6L1255.1 1994.4L1266.0 1985.1L1272.5 1994.4L1267.0 2007.2L1266.0 2008.4L1251.2 2009.7L1236.3 2016.5L1228.2 2007.2L1233.4 1994.4L1221.5 1984.2ZM419.9 1994.4L420.5 1993.8L435.3 1993.2L450.1 1993.8L451.1 1994.4L450.1 1997.0L435.3 1995.1L420.5 1995.3ZM508.0 1994.4L509.5 1993.2L510.2 1994.4L524.3 2004.1L530.2 2007.2L524.3 2014.8L512.4 2019.9L509.5 2020.5L506.5 2019.9L506.5 2007.2ZM726.0 1994.4L732.0 1986.8L737.9 1994.4L732.0 1999.5ZM775.7 1994.4L776.5 1993.2L778.0 1994.4L778.0 2007.2L776.5 2009.7L775.5 2007.2ZM817.4 1994.4L821.0 1991.4L824.5 1994.4L821.0 1997.0ZM849.9 1994.4L850.6 1993.6L851.6 1994.4L850.6 1995.7ZM879.3 1994.4L880.3 1993.6L881.3 1994.4L880.3 1995.3ZM936.7 1994.4L939.6 1993.9L940.4 1994.4L939.6 1995.1ZM1116.2 1994.4L1117.7 1991.9L1120.6 1994.4L1117.7 1995.7ZM1320.7 1994.4L1325.3 1985.1L1330.0 1994.4L1325.3 2001.4ZM456.1 2007.2L465.0 2003.3L473.9 2007.2L467.9 2019.9L465.0 2021.2L451.6 2032.6L450.1 2035.2L449.1 2032.6L449.1 2019.9L450.1 2017.4ZM656.3 2007.2L657.8 2006.5L660.8 2007.2L657.8 2008.0ZM745.3 2007.2L746.8 2005.9L747.8 2007.2L746.8 2009.7ZM1042.9 2007.2L1043.5 2006.7L1044.1 2007.2L1043.5 2007.7ZM411.6 2019.9L420.5 2016.1L424.9 2019.9L420.5 2025.0ZM536.2 2019.9L539.1 2018.6L540.1 2019.9L539.1 2020.4ZM597.5 2019.9L598.5 2018.6L599.9 2019.9L599.9 2032.6L598.5 2033.1L597.7 2032.6ZM894.2 2019.9L895.1 2019.3L910.0 2019.0L910.6 2019.9L910.0 2020.4L895.1 2021.2ZM938.9 2032.6L939.6 2031.8L940.2 2032.6L939.6 2033.1ZM1099.9 2032.6L1102.8 2030.1L1104.3 2032.6L1102.8 2033.1ZM1139.2 2032.6L1147.3 2025.6L1158.2 2032.6L1162.2 2037.7L1171.1 2045.4L1162.2 2053.0L1150.3 2058.1L1147.3 2059.0L1146.7 2058.1L1132.5 2045.9L1117.7 2047.9L1117.1 2045.4L1117.7 2044.1L1132.5 2044.1ZM1190.3 2032.6L1191.8 2031.8L1206.7 2031.4L1208.1 2032.6L1206.7 2033.5L1191.8 2035.2ZM1230.4 2032.6L1236.3 2025.0L1251.2 2025.0L1257.1 2032.6L1251.2 2036.5L1236.3 2037.7ZM1279.3 2032.6L1280.8 2032.1L1282.3 2032.6L1280.8 2035.2ZM788.3 2045.4L791.3 2042.8L792.0 2045.4L791.3 2045.9ZM1070.2 2045.4L1073.1 2037.7L1076.1 2045.4L1073.1 2049.2ZM1220.5 2045.4L1221.5 2044.1L1223.0 2045.4L1222.5 2058.1L1221.5 2059.0L1220.7 2058.1ZM537.6 2058.1L539.1 2056.8L539.7 2058.1L539.1 2058.6ZM1190.8 2058.1L1191.8 2055.6L1192.6 2058.1L1191.8 2059.4ZM434.7 2070.8L435.3 2070.0L436.3 2070.8L435.3 2072.1ZM731.4 2109.1L732.0 2108.4L732.6 2109.1L732.0 2109.6Z"/>
<path stroke="#494949" d="M434.4 1166.6L435.3 1165.9L436.5 1166.6L435.3 1167.6ZM597.0 1179.3L598.5 1178.3L600.4 1179.3L598.5 1180.6ZM699.3 1192.1L702.3 1191.0L704.3 1192.1L702.3 1197.2ZM415.3 1204.8L420.5 1200.3L423.4 1204.8L420.5 1210.7ZM449.1 1204.8L450.1 1199.7L456.1 1204.8L465.0 1206.7L479.8 1211.3L486.0 1217.5L479.8 1225.2L465.0 1224.7L459.4 1230.3L450.1 1239.6L445.4 1243.0L450.1 1249.8L465.0 1244.1L469.4 1243.0L479.8 1239.4L490.2 1243.0L494.6 1246.8L499.1 1243.0L509.5 1237.1L517.4 1230.3L524.3 1224.3L532.2 1217.5L539.1 1214.0L554.0 1208.2L565.8 1204.8L568.8 1199.7L574.7 1204.8L583.6 1207.3L598.5 1208.6L601.4 1204.8L613.3 1198.7L618.4 1204.8L620.4 1217.5L628.1 1220.8L641.9 1230.3L643.0 1231.4L651.9 1230.3L657.8 1228.6L660.8 1230.3L667.1 1243.0L657.8 1254.2L656.0 1255.7L657.8 1257.0L672.6 1261.2L687.5 1263.4L691.9 1255.7L695.4 1243.0L702.3 1239.4L706.5 1243.0L717.1 1249.6L726.0 1243.0L732.0 1232.8L746.8 1242.2L761.6 1240.5L773.5 1230.3L776.5 1221.4L786.9 1230.3L791.3 1231.0L806.1 1241.7L821.0 1236.8L834.0 1243.0L835.8 1250.6L836.8 1255.7L835.8 1257.4L833.8 1255.7L821.0 1251.0L808.1 1255.7L815.5 1268.5L821.0 1275.1L835.8 1279.5L837.8 1281.2L835.8 1282.2L822.2 1293.9L821.0 1295.6L816.7 1306.7L819.5 1319.4L812.1 1332.2L807.1 1344.9L806.1 1346.2L805.3 1344.9L791.3 1332.9L776.5 1342.3L761.6 1343.4L746.8 1337.9L735.4 1332.2L732.0 1325.4L721.6 1319.4L732.0 1313.5L736.1 1319.4L746.8 1324.5L752.1 1319.4L746.8 1311.8L737.9 1306.7L732.0 1303.3L721.1 1293.9L717.1 1283.8L702.3 1292.0L687.5 1292.9L672.6 1293.0L670.4 1293.9L657.8 1304.8L643.0 1301.9L628.1 1299.9L625.8 1306.7L628.1 1316.9L643.0 1314.6L655.6 1319.4L643.0 1328.1L635.1 1332.2L628.1 1338.1L617.7 1332.2L613.3 1329.6L598.5 1331.1L583.6 1329.6L575.9 1332.2L583.6 1343.2L585.6 1344.9L583.6 1350.0L580.7 1357.6L572.9 1370.4L568.8 1376.3L564.6 1370.4L561.7 1357.6L564.8 1344.9L554.0 1337.2L543.1 1344.9L550.5 1357.6L540.6 1370.4L539.1 1372.9L536.2 1370.4L524.3 1367.8L519.5 1370.4L511.4 1383.1L509.5 1385.6L508.3 1383.1L494.6 1373.3L484.2 1370.4L479.8 1369.4L470.9 1370.4L465.0 1372.9L462.6 1383.1L459.3 1395.8L455.3 1408.6L453.1 1421.3L450.1 1422.0L448.6 1421.3L444.9 1408.6L435.3 1400.3L420.5 1396.9L405.6 1400.3L400.4 1395.8L390.8 1391.1L384.3 1383.1L390.8 1376.1L405.6 1376.9L420.5 1371.3L421.9 1370.4L420.5 1369.7L405.6 1358.9L404.4 1357.6L390.8 1345.9L389.6 1344.9L390.8 1344.2L405.6 1336.3L413.3 1332.2L405.6 1326.6L390.8 1320.1L389.9 1319.4L387.3 1306.7L390.8 1303.1L401.5 1293.9L405.6 1291.0L415.4 1281.2L413.3 1268.5L420.5 1263.4L432.3 1268.5L435.3 1276.1L438.3 1268.5L435.3 1264.7L431.1 1255.7L429.7 1243.0L424.4 1230.3L428.4 1217.5L435.3 1215.0ZM639.5 1204.8L643.0 1202.2L645.3 1204.8L643.0 1213.7ZM846.5 1204.8L850.6 1200.3L865.5 1200.3L880.3 1197.8L895.1 1197.2L910.0 1197.5L924.8 1203.8L930.7 1204.8L924.8 1206.1L915.9 1217.5L912.0 1230.3L915.1 1243.0L921.4 1255.7L924.8 1265.9L925.7 1268.5L924.8 1273.6L923.3 1281.2L910.0 1288.9L902.7 1281.2L910.0 1273.6L923.3 1268.5L910.0 1263.4L900.0 1255.7L895.1 1244.7L880.3 1251.9L876.8 1243.0L880.3 1239.4L886.2 1230.3L880.3 1225.2L867.0 1217.5L865.5 1213.7L850.6 1207.8ZM664.2 1217.5L672.6 1206.7L687.5 1212.1L695.9 1217.5L693.4 1230.3L687.5 1237.9L678.6 1230.3L672.6 1226.2ZM598.5 1226.4L596.2 1230.3L598.5 1231.1L599.9 1230.3ZM1042.7 1243.0L1043.5 1237.9L1045.0 1243.0L1043.5 1243.9ZM554.0 1253.8L553.0 1255.7L554.0 1256.3L554.8 1255.7ZM598.5 1254.9L597.6 1255.7L598.5 1256.3L599.4 1255.7ZM746.8 1245.5L734.9 1255.7L746.8 1259.8L752.4 1268.5L761.6 1272.9L770.9 1268.5L761.6 1258.3L754.7 1255.7ZM936.7 1255.7L939.6 1254.0L940.8 1255.7L939.6 1256.5ZM732.0 1258.3L726.0 1268.5L732.0 1275.3L736.7 1268.5ZM848.7 1268.5L850.6 1267.6L851.8 1268.5L850.6 1270.2ZM1042.6 1268.5L1043.5 1267.6L1044.3 1268.5L1043.5 1271.0ZM643.0 1280.4L642.2 1281.2L643.0 1282.0L644.7 1281.2ZM863.5 1281.2L865.5 1280.2L867.0 1281.2L865.5 1286.3ZM874.4 1293.9L880.3 1292.7L881.5 1293.9L880.3 1295.0ZM674.4 1306.7L687.5 1295.5L702.3 1295.5L711.6 1306.7L714.9 1319.4L717.1 1327.1L720.1 1332.2L717.1 1332.8L703.0 1344.9L702.3 1346.6L701.1 1344.9L693.4 1332.2L693.9 1319.4L687.5 1314.7ZM901.1 1306.7L910.0 1301.6L918.9 1306.7L924.8 1313.5L931.7 1319.4L924.8 1322.0L917.9 1319.4L910.0 1314.3ZM825.4 1319.4L835.8 1310.5L841.0 1319.4L835.8 1322.0ZM669.7 1332.2L672.6 1329.6L675.6 1332.2L673.8 1344.9L672.6 1346.2L669.7 1344.9ZM509.5 1342.9L507.3 1344.9L509.5 1355.1L511.8 1344.9ZM640.0 1344.9L643.0 1342.3L645.9 1344.9L657.8 1355.1L659.3 1357.6L657.8 1358.9L644.4 1370.4L643.0 1371.4L641.8 1370.4L636.0 1357.6ZM729.7 1344.9L732.0 1338.9L734.6 1344.9L732.0 1349.3ZM904.0 1344.9L910.0 1342.3L915.9 1344.9L910.0 1345.7ZM933.7 1344.9L939.6 1343.6L945.6 1344.9L954.5 1352.5L956.5 1357.6L961.6 1370.4L954.5 1376.5L945.6 1370.4L939.6 1366.3L931.7 1370.4L924.8 1373.3L910.0 1372.1L909.0 1370.4L910.0 1369.5L924.8 1364.4L929.6 1357.6ZM494.6 1353.4L488.9 1357.6L494.6 1367.4L508.3 1357.6ZM607.4 1357.6L613.3 1356.6L616.3 1357.6L614.5 1370.4L613.3 1372.9L605.4 1383.1L598.5 1387.6L593.3 1383.1L594.3 1370.4L598.5 1361.4ZM686.0 1357.6L687.5 1356.6L689.4 1357.6L687.5 1359.3ZM744.8 1357.6L746.8 1356.9L747.8 1357.6L746.8 1358.9ZM892.2 1357.6L895.1 1352.5L896.1 1357.6L895.1 1358.5ZM1027.5 1370.4L1028.6 1369.1L1029.4 1370.4L1028.6 1371.6ZM476.8 1383.1L479.8 1378.0L481.0 1383.1L494.6 1392.9L501.5 1395.8L494.6 1400.3L485.0 1408.6L479.8 1412.1L474.6 1408.6L476.3 1395.8ZM547.0 1383.1L554.0 1379.5L560.9 1383.1L554.0 1384.7ZM521.3 1395.8L524.3 1394.1L525.5 1395.8L524.3 1400.9ZM562.9 1395.8L568.8 1385.6L580.7 1395.8L583.6 1406.0L586.6 1408.6L583.6 1413.7L568.8 1417.9L560.6 1408.6ZM625.2 1395.8L628.1 1395.2L630.1 1395.8L628.1 1397.5ZM682.4 1395.8L687.5 1392.4L702.3 1388.2L717.1 1392.3L727.5 1395.8L717.1 1399.4L711.2 1408.6L715.4 1421.3L717.1 1422.8L726.0 1421.3L732.0 1416.2L746.8 1416.9L761.6 1416.8L776.5 1414.1L783.7 1421.3L776.5 1432.1L774.2 1434.0L776.5 1435.3L791.3 1440.8L798.2 1446.8L802.2 1459.5L806.1 1466.3L812.1 1459.5L814.0 1446.8L821.0 1437.9L835.8 1443.2L850.6 1437.4L861.5 1446.8L851.8 1459.5L857.6 1472.2L850.6 1475.2L840.3 1472.2L835.8 1464.6L821.0 1469.7L816.5 1472.2L815.5 1485.0L806.1 1496.2L803.9 1497.7L806.1 1505.4L809.1 1510.5L806.1 1511.2L791.3 1511.0L785.4 1510.5L776.5 1502.8L767.6 1510.5L776.5 1514.3L778.4 1523.2L786.9 1535.9L791.3 1543.6L793.3 1548.7L806.1 1552.3L815.8 1548.7L819.5 1535.9L821.0 1535.1L822.2 1535.9L827.9 1548.7L822.9 1561.4L835.8 1572.4L843.5 1561.4L838.8 1548.7L847.2 1535.9L850.6 1532.4L865.5 1525.7L871.4 1535.9L880.3 1543.6L895.1 1538.5L899.1 1535.9L910.0 1529.7L920.9 1535.9L924.8 1539.3L939.6 1539.3L954.5 1542.7L969.3 1547.4L984.1 1547.9L999.0 1547.8L1000.5 1548.7L999.0 1550.4L984.1 1553.8L969.3 1550.4L956.5 1561.4L958.6 1574.1L964.0 1586.9L959.5 1599.6L954.5 1605.0L940.8 1612.3L940.8 1625.1L939.6 1626.1L938.2 1625.1L924.8 1617.4L910.0 1616.7L898.6 1625.1L901.4 1637.8L904.0 1650.6L895.1 1658.2L883.3 1650.6L880.3 1646.7L873.4 1637.8L865.5 1634.4L862.5 1637.8L857.8 1650.6L850.6 1659.2L842.7 1663.3L850.6 1668.4L858.6 1663.3L865.5 1659.7L869.6 1663.3L872.4 1676.0L880.3 1678.1L892.2 1676.0L895.1 1673.5L910.0 1664.8L923.0 1676.0L920.4 1688.8L924.8 1689.9L925.9 1688.8L927.8 1676.0L939.6 1671.7L954.5 1665.2L960.8 1676.0L954.5 1686.9L953.4 1688.8L946.8 1701.5L946.2 1714.2L939.6 1723.6L935.7 1727.0L929.0 1739.7L924.8 1748.6L910.0 1741.0L908.5 1739.7L895.1 1734.6L880.3 1733.1L865.5 1733.1L856.6 1727.0L857.3 1714.2L850.6 1710.7L835.8 1703.2L821.0 1710.9L811.3 1714.2L821.0 1719.8L829.4 1727.0L821.0 1737.8L819.7 1739.7L815.0 1752.4L821.0 1757.5L829.9 1765.2L835.8 1775.4L837.0 1777.9L835.8 1783.0L821.0 1780.5L820.1 1777.9L806.1 1770.3L799.6 1765.2L791.3 1757.3L776.5 1761.5L766.8 1765.2L761.6 1771.1L751.3 1765.2L751.3 1752.4L746.8 1749.9L745.3 1752.4L732.0 1763.9L722.0 1752.4L732.0 1744.8L740.9 1739.7L732.0 1733.2L717.1 1732.1L713.9 1727.0L710.5 1714.2L702.3 1705.8L689.7 1701.5L687.5 1699.6L683.0 1701.5L672.6 1704.5L657.8 1704.0L654.8 1701.5L650.9 1688.8L643.0 1685.9L628.1 1683.2L621.8 1676.0L613.3 1669.5L601.9 1676.0L613.3 1684.4L620.4 1688.8L613.3 1692.6L598.5 1691.3L592.5 1688.8L583.6 1687.9L568.8 1688.1L567.3 1688.8L554.0 1694.5L539.1 1698.6L527.3 1701.5L524.3 1702.5L522.8 1701.5L509.5 1693.9L502.3 1688.8L494.6 1684.6L489.1 1688.8L479.8 1693.4L468.5 1701.5L465.0 1705.3L454.6 1714.2L450.1 1721.9L445.0 1714.2L436.8 1701.5L435.3 1699.6L428.1 1688.8L435.3 1677.9L435.9 1676.0L435.3 1675.1L426.4 1676.0L420.5 1677.3L405.6 1682.0L402.2 1676.0L400.4 1663.3L399.3 1650.6L396.3 1637.8L404.8 1625.1L405.6 1624.1L411.8 1612.3L405.6 1604.0L396.7 1599.6L390.8 1592.8L387.3 1586.9L390.8 1578.0L391.8 1574.1L393.4 1561.4L395.5 1548.7L405.6 1543.3L415.4 1535.9L420.5 1525.7L424.9 1523.2L435.3 1514.3L439.4 1523.2L450.1 1534.7L456.1 1523.2L450.1 1515.6L438.3 1510.5L449.4 1497.7L450.1 1496.7L456.1 1497.7L459.0 1510.5L465.0 1513.4L469.7 1510.5L479.8 1501.8L491.7 1497.7L494.6 1496.0L496.6 1497.7L507.1 1510.5L494.6 1522.3L491.7 1523.2L494.6 1530.8L509.5 1526.6L518.8 1535.9L522.5 1548.7L524.3 1550.6L527.3 1548.7L539.1 1538.5L554.0 1547.8L568.8 1537.6L583.6 1542.4L598.5 1541.7L611.8 1535.9L613.3 1530.8L615.1 1523.2L623.0 1510.5L613.3 1498.7L599.6 1510.5L598.5 1511.7L596.5 1510.5L595.5 1497.7L583.6 1489.8L576.4 1485.0L571.8 1472.2L568.8 1468.9L554.0 1465.6L546.8 1459.5L539.1 1454.8L529.5 1459.5L524.3 1465.5L513.9 1459.5L509.5 1457.0L505.5 1446.8L509.5 1440.7L524.3 1440.6L539.1 1439.8L552.5 1434.0L554.0 1433.0L568.8 1425.4L583.6 1423.9L598.5 1424.6L608.1 1421.3L613.3 1417.7L628.1 1414.1L633.6 1408.6L643.0 1400.6L657.8 1407.3L672.6 1401.2ZM752.7 1395.8L761.6 1390.7L776.5 1392.3L791.3 1391.4L796.5 1395.8L791.3 1398.4L776.5 1400.3L761.6 1401.9ZM923.6 1395.8L924.8 1394.8L939.6 1389.6L947.8 1395.8L954.5 1402.4L969.3 1407.9L970.5 1408.6L977.2 1421.3L984.1 1427.8L992.1 1434.0L985.6 1446.8L984.1 1448.1L982.2 1446.8L972.3 1434.0L969.3 1431.8L964.6 1434.0L959.7 1446.8L954.5 1450.3L939.6 1449.7L926.0 1459.5L924.8 1461.2L923.6 1459.5L910.0 1454.2L900.2 1459.5L896.6 1472.2L895.1 1474.8L893.7 1472.2L880.3 1460.8L879.1 1459.5L880.3 1457.0L895.1 1449.3L896.4 1446.8L895.1 1445.7L884.6 1434.0L880.3 1423.0L877.3 1421.3L880.3 1420.3L895.1 1417.7L908.5 1408.6L910.0 1407.6ZM981.8 1395.8L984.1 1391.4L987.6 1395.8L984.1 1398.8ZM1012.6 1395.8L1013.8 1394.1L1028.6 1394.6L1029.8 1395.8L1028.6 1397.1L1013.8 1396.7ZM829.9 1408.6L835.8 1400.9L841.7 1408.6L847.7 1421.3L835.8 1426.4L826.9 1421.3ZM939.6 1403.8L931.9 1408.6L939.6 1412.7L946.1 1408.6ZM997.8 1408.6L999.0 1407.6L1000.0 1408.6L999.0 1409.8ZM506.5 1421.3L509.5 1418.8L511.4 1421.3L509.5 1423.0ZM643.0 1419.8L640.7 1421.3L643.0 1422.6L644.4 1421.3ZM924.8 1414.7L917.1 1421.3L910.0 1431.5L908.7 1434.0L910.0 1435.1L924.8 1440.8L928.2 1434.0L929.6 1421.3ZM1099.4 1421.3L1102.8 1418.8L1105.8 1421.3L1102.8 1425.8ZM404.9 1434.0L405.6 1432.3L420.5 1428.1L423.9 1434.0L420.5 1436.6L405.6 1435.7ZM746.8 1431.5L744.6 1434.0L743.6 1446.8L744.2 1459.5L737.1 1472.2L745.0 1485.0L746.8 1486.5L751.3 1485.0L761.6 1480.5L764.6 1485.0L776.5 1496.9L791.3 1492.3L798.9 1485.0L799.2 1472.2L791.3 1468.9L776.5 1468.4L766.1 1459.5L768.5 1446.8L761.6 1439.5L749.0 1434.0ZM1072.2 1434.0L1073.1 1433.5L1074.0 1434.0L1073.1 1435.1ZM1309.5 1434.0L1310.5 1432.8L1312.0 1434.0L1317.4 1446.8L1310.5 1451.2L1307.0 1446.8ZM463.0 1446.8L465.0 1445.5L466.9 1446.8L465.0 1448.5ZM643.0 1440.9L636.1 1446.8L643.0 1451.0L645.6 1446.8ZM1190.3 1446.8L1191.8 1445.5L1206.7 1439.6L1219.3 1446.8L1221.5 1448.1L1223.3 1446.8L1236.3 1435.6L1244.5 1446.8L1251.2 1451.4L1264.7 1459.5L1251.2 1471.2L1239.3 1459.5L1236.3 1456.1L1232.9 1459.5L1221.5 1471.0L1208.1 1459.5L1206.7 1457.6L1204.9 1459.5L1194.8 1472.2L1191.8 1478.2L1186.6 1472.2L1184.6 1459.5ZM482.0 1459.5L494.6 1455.2L507.2 1459.5L494.6 1470.3ZM426.9 1472.2L435.3 1463.6L450.1 1462.9L458.3 1472.2L450.1 1478.5L435.3 1478.4ZM931.2 1472.2L939.6 1466.8L954.5 1466.1L969.3 1466.3L979.7 1472.2L984.1 1472.9L998.2 1485.0L999.0 1492.6L1004.9 1497.7L999.0 1498.7L997.5 1497.7L984.1 1494.7L969.3 1492.2L954.5 1491.1L948.0 1497.7L939.6 1503.9L924.8 1501.3L917.9 1497.7L924.8 1495.2L936.7 1485.0ZM404.8 1485.0L405.6 1482.4L406.8 1485.0L405.6 1490.1ZM459.9 1485.0L465.0 1479.9L469.4 1485.0L465.0 1495.2ZM545.1 1485.0L554.0 1478.9L559.9 1485.0L554.0 1491.1ZM873.2 1485.0L880.3 1479.9L889.2 1485.0L883.3 1497.7L880.3 1501.3L873.4 1497.7ZM1071.2 1485.0L1073.1 1483.7L1074.0 1485.0L1073.1 1485.6ZM522.3 1497.7L524.3 1496.0L525.8 1497.7L536.9 1510.5L524.3 1516.6L514.2 1510.5ZM566.8 1497.7L568.8 1496.4L569.8 1497.7L568.8 1499.4ZM543.6 1510.5L554.0 1506.0L559.2 1510.5L554.0 1514.0ZM643.0 1506.6L640.0 1510.5L643.0 1511.7L657.8 1520.4L663.3 1510.5L657.8 1502.0ZM746.8 1505.7L744.5 1510.5L746.8 1516.0L759.7 1510.5ZM848.7 1510.5L850.6 1509.6L856.6 1510.5L850.6 1511.7ZM564.6 1523.2L568.8 1518.7L572.3 1523.2L568.8 1529.1ZM672.6 1522.7L669.7 1523.2L672.6 1530.8L673.9 1523.2ZM869.9 1523.2L880.3 1519.6L884.5 1523.2L880.3 1526.8ZM923.6 1523.2L924.8 1521.9L925.8 1523.2L924.8 1525.7ZM657.8 1533.4L648.9 1535.9L657.8 1536.8L666.7 1535.9ZM761.6 1525.7L749.8 1535.9L756.8 1548.7L755.2 1561.4L761.6 1566.9L765.5 1561.4L767.1 1548.7L769.5 1535.9ZM1307.0 1548.7L1310.5 1545.1L1313.5 1548.7L1310.5 1552.2ZM435.3 1558.9L426.4 1561.4L435.3 1563.9L435.8 1561.4ZM494.6 1549.9L488.7 1561.4L494.6 1566.5L508.0 1561.4ZM791.3 1553.8L790.2 1561.4L791.3 1562.9L792.6 1561.4ZM880.3 1554.8L873.9 1561.4L880.3 1566.9L885.8 1561.4ZM1011.8 1561.4L1013.8 1560.1L1015.0 1561.4L1013.8 1562.7ZM583.6 1572.9L582.5 1574.1L583.6 1574.9L585.9 1574.1ZM910.0 1570.5L906.8 1574.1L901.7 1586.9L910.0 1592.8L914.9 1586.9L916.4 1574.1ZM1280.1 1574.1L1280.8 1572.4L1283.8 1574.1L1280.8 1575.2ZM1307.5 1574.1L1310.5 1572.9L1316.4 1574.1L1310.5 1575.2ZM761.6 1585.0L757.2 1586.9L761.6 1594.5L762.4 1586.9ZM982.7 1586.9L984.1 1584.3L986.1 1586.9L984.1 1592.0ZM1293.7 1599.6L1295.7 1598.9L1296.6 1599.6L1295.7 1600.6ZM973.8 1612.3L984.1 1603.4L988.3 1612.3L984.1 1621.3ZM1191.0 1612.3L1191.8 1611.3L1192.7 1612.3L1191.8 1613.6ZM1249.2 1612.3L1251.2 1611.6L1252.3 1612.3L1251.2 1613.1ZM835.8 1623.6L834.0 1625.1L835.8 1626.6L836.8 1625.1ZM1235.3 1625.1L1236.3 1623.4L1237.2 1625.1L1236.3 1627.6ZM776.5 1635.7L773.0 1637.8L776.5 1642.5L791.3 1641.6L796.6 1637.8L791.3 1635.5ZM821.0 1649.5L818.7 1650.6L821.0 1651.2L823.9 1650.6ZM921.8 1650.6L924.8 1649.8L927.8 1650.6L924.8 1652.3ZM717.1 1675.3L716.4 1676.0L717.1 1677.6L717.9 1676.0ZM450.1 1686.7L443.7 1688.8L450.1 1692.9L454.9 1688.8ZM791.3 1686.9L788.3 1688.8L791.3 1690.6L797.2 1688.8ZM980.0 1701.5L984.1 1697.9L986.5 1701.5L984.1 1705.1ZM1041.5 1701.5L1043.5 1700.5L1045.0 1701.5L1043.5 1702.3ZM910.0 1711.5L905.2 1714.2L906.6 1727.0L910.0 1737.2L913.9 1727.0L916.4 1714.2ZM666.7 1727.0L672.6 1726.0L673.6 1727.0L672.6 1728.7ZM1040.0 1727.0L1043.5 1724.4L1050.4 1727.0L1043.5 1729.9ZM448.9 1739.7L450.1 1737.2L451.1 1739.7L450.1 1740.6ZM597.8 1739.7L598.5 1739.0L599.4 1739.7L598.5 1741.0ZM653.6 1739.7L657.8 1730.8L663.0 1739.7L657.8 1742.7ZM850.0 1739.7L850.6 1737.2L852.6 1739.7L850.6 1740.3ZM506.5 1752.4L509.5 1749.9L510.6 1752.4L509.5 1753.5ZM609.1 1752.4L613.3 1749.9L616.3 1752.4L613.3 1756.0ZM879.1 1752.4L880.3 1750.7L881.3 1752.4L880.3 1754.1ZM542.5 1765.2L554.0 1755.4L567.3 1765.2L568.8 1766.5L583.6 1772.3L591.8 1777.9L592.3 1790.6L598.5 1802.4L609.8 1790.7L613.3 1781.7L618.5 1790.7L617.4 1803.4L628.1 1808.5L643.0 1815.6L648.9 1816.1L652.9 1828.9L643.0 1836.1L633.0 1828.9L628.1 1823.8L617.4 1828.9L613.3 1831.1L609.8 1828.9L598.5 1822.3L584.8 1828.9L583.6 1829.6L568.8 1833.3L564.6 1828.9L554.0 1819.7L539.1 1816.8L533.2 1816.1L527.5 1803.4L539.1 1795.4L546.0 1790.7L554.0 1782.5L559.9 1777.9L554.0 1772.8L543.3 1777.9L539.1 1780.5L528.7 1777.9L539.1 1772.0ZM597.5 1765.2L598.5 1763.9L599.9 1765.2L598.5 1766.5ZM917.9 1765.2L924.8 1756.3L939.6 1763.5L941.1 1765.2L939.6 1765.9L924.8 1768.1ZM459.0 1777.9L465.0 1777.3L466.1 1777.9L465.0 1778.9ZM503.5 1777.9L509.5 1773.5L521.3 1777.9L509.5 1782.3ZM980.0 1790.7L984.1 1788.1L986.7 1790.7L985.3 1803.4L985.6 1816.1L984.1 1817.8L982.7 1816.1L982.2 1803.4ZM433.8 1803.4L435.3 1802.7L436.5 1803.4L435.3 1804.4ZM654.6 1803.4L657.8 1797.3L672.6 1798.6L682.7 1803.4L672.6 1808.8L657.8 1813.6ZM695.4 1803.4L702.3 1800.4L717.1 1800.4L732.0 1802.1L737.9 1803.4L746.8 1804.7L761.6 1804.7L763.9 1803.4L776.5 1798.0L791.3 1793.2L803.2 1803.4L798.2 1816.1L791.3 1822.1L779.4 1828.9L776.5 1830.6L766.8 1841.6L761.6 1844.6L748.0 1854.3L761.6 1859.7L771.1 1867.1L776.5 1871.2L785.6 1879.8L776.5 1889.2L771.6 1892.5L761.6 1897.5L752.7 1892.5L761.6 1881.1L762.7 1879.8L761.6 1878.7L748.1 1867.1L746.8 1859.4L732.0 1858.8L726.8 1854.3L719.4 1841.6L717.1 1840.5L712.7 1841.6L702.3 1850.5L687.5 1842.3L672.6 1844.1L657.8 1844.6L654.8 1841.6L657.8 1838.0L672.6 1839.0L687.5 1839.9L691.3 1828.9L687.5 1817.8L686.3 1816.1L687.5 1813.6ZM815.0 1803.4L821.0 1800.8L826.9 1803.4L826.9 1816.1L821.0 1826.3L812.1 1816.1ZM938.2 1803.4L939.6 1802.5L940.8 1803.4L939.6 1804.4ZM627.5 1854.3L628.1 1853.3L629.6 1854.3L628.1 1856.0ZM775.3 1854.3L776.5 1852.6L782.4 1854.3L776.5 1855.6ZM937.7 1879.8L939.6 1879.0L940.4 1879.8L939.6 1881.1ZM567.6 1892.5L568.8 1891.5L569.8 1892.5L568.8 1894.2ZM899.6 1892.5L910.0 1889.0L913.4 1892.5L910.0 1895.5ZM849.2 1905.3L850.6 1904.4L851.6 1905.3L850.6 1906.3ZM523.1 1918.0L524.3 1917.3L524.9 1918.0L524.3 1918.6ZM739.9 1918.0L746.8 1915.5L761.6 1917.4L767.6 1918.0L776.5 1920.6L781.6 1930.7L776.5 1933.3L767.6 1930.7L761.6 1920.6L746.8 1921.0ZM862.0 1918.0L865.5 1915.5L880.3 1917.4L881.5 1918.0L885.4 1930.7L880.3 1935.8L873.2 1930.7L865.5 1922.5Z"/>
<path stroke="#6d6d6d" d="M886.2 1204.8L895.1 1203.9L910.0 1202.2L915.5 1204.8L910.0 1211.4L895.1 1206.7ZM447.9 1217.5L450.1 1216.0L454.6 1217.5L450.1 1225.2ZM475.3 1217.5L479.8 1216.8L480.5 1217.5L479.8 1218.4ZM878.8 1217.5L880.3 1209.9L882.5 1217.5L880.3 1218.4ZM555.4 1230.3L568.8 1224.5L579.5 1230.3L583.6 1239.2L598.5 1237.9L611.8 1230.3L613.3 1227.7L628.1 1227.0L633.0 1230.3L643.0 1240.1L654.8 1243.0L643.0 1253.2L640.0 1255.7L643.0 1256.8L657.8 1267.2L672.6 1265.9L678.1 1268.5L687.5 1277.8L695.4 1281.2L687.5 1284.1L672.6 1285.3L659.8 1281.2L657.8 1276.1L643.0 1274.3L635.7 1281.2L643.0 1288.1L654.3 1293.9L643.0 1297.9L634.4 1293.9L628.1 1289.1L623.9 1293.9L618.6 1306.7L613.3 1314.3L604.4 1319.4L598.5 1322.3L583.6 1324.9L568.8 1326.0L554.0 1331.8L553.4 1332.2L539.1 1342.3L533.2 1344.9L539.1 1350.0L544.0 1357.6L539.1 1363.4L524.3 1360.2L520.3 1357.6L519.0 1344.9L509.5 1336.7L500.6 1332.2L494.6 1329.8L479.8 1326.7L471.4 1332.2L479.8 1336.5L494.6 1336.5L500.8 1344.9L494.6 1349.1L483.0 1357.6L479.8 1361.8L466.9 1357.6L470.0 1344.9L465.0 1337.7L450.1 1344.3L449.1 1344.9L448.9 1357.6L444.2 1370.4L450.1 1371.6L455.5 1383.1L453.3 1395.8L450.1 1401.4L443.7 1395.8L441.2 1383.1L435.3 1372.9L433.8 1370.4L420.5 1364.1L412.1 1357.6L405.6 1346.4L403.8 1344.9L405.6 1343.9L420.5 1337.2L432.3 1332.2L420.5 1326.0L410.8 1319.4L412.1 1306.7L420.5 1299.5L435.3 1298.3L450.1 1294.6L451.0 1293.9L450.8 1281.2L457.2 1268.5L460.2 1255.7L465.0 1252.8L479.8 1251.7L484.5 1255.7L494.6 1260.1L509.5 1256.6L512.4 1255.7L524.3 1248.9L539.1 1244.3L545.1 1255.7L554.0 1261.0L562.0 1255.7L558.1 1243.0ZM894.2 1230.3L895.1 1228.4L896.9 1230.3L895.1 1231.8ZM779.9 1243.0L791.3 1237.1L798.9 1243.0L791.3 1252.8ZM598.5 1248.1L590.5 1255.7L598.5 1261.0L606.5 1255.7ZM908.9 1255.7L910.0 1253.2L911.2 1255.7L910.0 1256.6ZM613.3 1265.5L611.0 1268.5L613.3 1272.0L617.4 1268.5ZM751.3 1281.2L761.6 1276.8L776.5 1277.4L791.3 1269.5L802.7 1281.2L804.2 1293.9L806.1 1296.5L808.8 1306.7L807.6 1319.4L806.1 1320.9L791.3 1320.9L788.3 1319.4L776.5 1311.8L768.6 1306.7L770.5 1293.9L761.6 1290.1ZM909.2 1281.2L910.0 1280.4L911.5 1281.2L910.0 1282.1ZM598.5 1288.9L592.5 1293.9L598.5 1302.0L603.5 1293.9ZM583.6 1303.3L581.1 1306.7L583.6 1310.5L590.7 1306.7ZM759.3 1319.4L761.6 1312.6L767.6 1319.4L761.6 1329.6ZM745.5 1332.2L746.8 1331.3L755.7 1332.2L746.8 1332.8ZM410.8 1383.1L420.5 1379.0L428.2 1383.1L420.5 1387.8ZM567.3 1395.8L568.8 1393.3L571.8 1395.8L568.8 1406.0ZM699.3 1395.8L702.3 1395.0L704.5 1395.8L703.3 1408.6L702.3 1416.2L693.4 1408.6ZM668.7 1408.6L672.6 1406.7L684.5 1408.6L685.5 1421.3L687.5 1426.4L702.3 1422.6L715.6 1434.0L710.6 1446.8L711.2 1459.5L717.1 1460.8L719.1 1459.5L724.4 1446.8L732.0 1437.0L737.7 1446.8L736.3 1459.5L732.0 1466.1L726.0 1472.2L717.1 1481.4L713.0 1485.0L708.2 1497.7L717.1 1505.4L729.0 1497.7L732.0 1490.1L740.9 1497.7L740.3 1510.5L743.3 1523.2L732.0 1529.7L718.9 1535.9L717.1 1537.8L704.5 1548.7L702.3 1550.2L697.8 1548.7L690.4 1535.9L687.5 1533.4L684.1 1523.2L672.6 1518.6L666.4 1510.5L659.3 1497.7L657.8 1496.0L644.9 1485.0L643.0 1484.1L641.0 1485.0L628.1 1496.0L613.3 1489.7L598.5 1489.1L590.5 1485.0L583.6 1479.0L580.7 1472.2L571.8 1459.5L572.9 1446.8L583.6 1439.1L590.7 1434.0L598.5 1430.7L604.9 1434.0L613.3 1442.7L625.9 1434.0L628.1 1430.2L643.0 1432.8L656.3 1421.3L657.8 1419.8ZM938.5 1421.3L939.6 1420.4L944.1 1421.3L944.1 1434.0L939.6 1436.0L938.4 1434.0ZM959.7 1421.3L969.3 1416.6L972.1 1421.3L969.3 1425.0ZM892.5 1434.0L895.1 1430.0L898.5 1434.0L895.1 1437.0ZM981.2 1434.0L984.1 1432.5L986.1 1434.0L984.1 1437.4ZM643.0 1434.8L629.0 1446.8L643.0 1455.3L648.3 1446.8ZM687.5 1441.7L687.0 1446.8L687.5 1448.1L688.5 1446.8ZM775.6 1446.8L776.5 1445.5L778.7 1446.8L776.5 1448.7ZM906.6 1446.8L910.0 1443.9L914.7 1446.8L910.0 1448.6ZM1220.0 1459.5L1221.5 1458.2L1222.8 1459.5L1221.5 1460.8ZM1248.2 1459.5L1251.2 1457.5L1254.5 1459.5L1251.2 1462.4ZM702.3 1463.3L700.9 1472.2L702.3 1475.8L706.5 1472.2ZM971.9 1485.0L984.1 1478.0L992.3 1485.0L984.1 1490.6ZM749.8 1497.7L761.6 1493.6L765.6 1497.7L761.6 1501.1ZM483.9 1510.5L494.6 1504.7L500.0 1510.5L494.6 1515.6ZM464.0 1523.2L465.0 1522.1L467.9 1523.2L465.0 1525.7ZM634.1 1523.2L643.0 1521.9L645.9 1523.2L643.0 1524.7ZM452.1 1548.7L465.0 1542.0L474.6 1548.7L479.8 1557.6L480.8 1561.4L494.6 1573.3L509.5 1570.7L513.4 1574.1L521.3 1586.9L522.3 1599.6L524.3 1605.7L528.7 1599.6L539.1 1591.7L542.5 1586.9L542.1 1574.1L554.0 1570.7L568.8 1568.6L573.6 1574.1L583.6 1581.0L598.5 1575.6L601.1 1574.1L598.5 1565.2L583.6 1562.7L581.4 1561.4L568.8 1556.6L560.5 1548.7L568.8 1542.7L582.6 1548.7L583.6 1553.8L598.5 1553.8L607.4 1561.4L613.3 1562.1L614.0 1561.4L628.1 1551.7L640.7 1561.4L643.0 1564.4L645.6 1561.4L647.1 1548.7L657.8 1543.6L671.1 1548.7L672.6 1551.2L680.5 1561.4L679.1 1574.1L687.5 1582.8L699.3 1586.9L691.4 1599.6L702.3 1602.9L711.6 1599.6L717.1 1594.1L730.0 1599.6L732.0 1600.6L746.8 1610.4L761.6 1608.9L767.6 1599.6L768.3 1586.9L776.5 1574.9L791.3 1579.2L806.1 1576.8L816.2 1574.1L821.0 1570.7L824.9 1574.1L835.8 1579.7L850.6 1579.2L863.7 1574.1L865.5 1570.3L869.9 1574.1L865.5 1576.7L861.5 1586.9L865.5 1590.3L877.3 1586.9L880.3 1583.1L883.8 1574.1L895.1 1562.4L900.8 1574.1L895.1 1585.9L889.2 1586.9L895.1 1587.4L910.0 1597.9L919.0 1586.9L924.8 1576.4L930.0 1574.1L939.6 1565.9L946.1 1574.1L954.5 1582.8L956.9 1586.9L954.5 1593.7L944.1 1599.6L939.6 1601.1L924.8 1606.2L910.0 1604.7L904.0 1612.3L895.1 1618.9L880.3 1622.9L865.5 1623.8L864.0 1625.1L853.6 1637.8L850.6 1644.6L838.8 1637.8L844.7 1625.1L837.8 1612.3L835.8 1610.6L832.8 1612.3L821.0 1622.5L806.1 1619.0L803.6 1625.1L806.1 1632.7L821.0 1627.6L832.8 1637.8L821.0 1640.7L806.1 1644.6L803.8 1637.8L791.3 1632.5L776.5 1631.9L766.5 1637.8L770.5 1650.6L761.6 1652.5L757.4 1663.3L761.6 1668.1L776.5 1666.3L783.4 1663.3L778.0 1650.6L791.3 1646.7L802.0 1650.6L806.1 1656.5L821.0 1656.8L830.2 1663.3L828.7 1676.0L835.8 1682.1L850.6 1680.4L858.2 1688.8L865.5 1698.1L873.6 1688.8L880.3 1684.2L895.1 1687.2L897.4 1688.8L910.0 1694.2L924.8 1698.6L930.7 1701.5L924.8 1708.3L910.0 1706.4L896.3 1714.2L896.4 1727.0L895.1 1727.8L892.2 1727.0L880.3 1722.6L866.7 1714.2L865.5 1711.7L850.6 1706.0L843.1 1701.5L835.8 1693.5L826.5 1701.5L821.0 1704.8L806.1 1708.0L793.5 1714.2L805.4 1727.0L806.1 1729.5L809.5 1739.7L806.1 1744.8L791.3 1748.9L784.4 1752.4L776.5 1754.7L771.7 1752.4L761.6 1749.6L749.3 1739.7L746.8 1736.6L734.3 1727.0L746.8 1716.2L748.9 1714.2L746.8 1710.7L732.0 1710.6L719.4 1714.2L717.1 1716.8L716.4 1714.2L717.1 1711.7L720.4 1701.5L732.0 1690.5L734.9 1688.8L732.0 1686.5L723.8 1676.0L717.1 1669.8L710.5 1676.0L702.3 1685.4L688.3 1676.0L687.5 1675.0L672.6 1675.7L671.6 1676.0L657.8 1684.0L643.0 1677.1L638.5 1676.0L628.1 1670.1L616.3 1663.3L613.3 1662.8L612.6 1663.3L598.5 1672.4L591.3 1676.0L583.6 1681.1L568.8 1682.5L555.4 1688.8L554.0 1689.4L539.1 1689.9L536.9 1688.8L524.3 1685.7L509.5 1682.6L494.6 1677.0L479.8 1683.7L473.9 1688.8L465.0 1691.3L463.8 1688.8L450.1 1682.9L441.0 1676.0L435.3 1667.4L420.5 1669.8L411.9 1663.3L420.5 1651.6L421.6 1650.6L432.3 1637.8L426.8 1625.1L420.5 1616.4L418.3 1612.3L411.6 1599.6L405.6 1589.4L403.4 1586.9L399.7 1574.1L401.3 1561.4L405.6 1553.1L411.1 1561.4L420.5 1570.7L426.4 1574.1L435.3 1584.3L439.7 1574.1L440.3 1561.4L450.1 1549.1ZM724.3 1548.7L732.0 1542.9L746.8 1547.1L747.9 1548.7L746.8 1552.5L743.3 1561.4L743.8 1574.1L732.0 1578.2L717.1 1582.9L702.3 1584.3L697.6 1574.1L702.3 1570.7L717.1 1564.5L722.2 1561.4ZM847.7 1548.7L850.6 1544.6L858.6 1548.7L850.6 1553.8ZM889.2 1548.7L895.1 1546.1L910.0 1537.6L922.8 1548.7L921.8 1561.4L910.0 1563.7L898.1 1561.4L895.1 1558.9ZM772.6 1561.4L776.5 1550.4L781.3 1561.4L776.5 1572.4ZM802.7 1561.4L806.1 1559.1L810.1 1561.4L806.1 1565.5ZM657.8 1611.9L656.9 1612.3L657.8 1612.7L659.3 1612.3ZM539.1 1662.8L533.2 1663.3L539.1 1664.1L542.1 1663.3ZM702.3 1658.8L698.8 1663.3L702.3 1665.5L705.3 1663.3ZM732.0 1657.1L726.4 1663.3L732.0 1667.6L736.2 1663.3ZM465.0 1675.7L464.3 1676.0L465.0 1681.1L470.9 1676.0ZM746.8 1675.5L746.0 1676.0L746.8 1676.9L747.8 1676.0ZM791.3 1681.4L779.4 1688.8L791.3 1696.2L806.1 1693.9L812.1 1688.8L806.1 1682.6ZM934.8 1688.8L939.6 1682.1L944.5 1688.8L939.6 1695.4ZM448.6 1701.5L450.1 1700.5L453.1 1701.5L450.1 1704.0ZM730.9 1752.4L732.0 1751.6L733.5 1752.4L732.0 1753.7ZM552.7 1765.2L554.0 1764.1L555.4 1765.2L554.0 1766.0ZM567.8 1777.9L568.8 1776.6L577.7 1777.9L583.6 1780.5L585.8 1790.7L583.6 1795.7L568.8 1800.4L558.4 1803.4L554.0 1805.3L539.1 1809.9L533.4 1803.4L539.1 1799.5L552.0 1790.7L554.0 1788.6ZM600.4 1816.1L613.3 1810.6L628.1 1815.3L629.9 1816.1L628.1 1817.0L613.3 1821.6ZM710.7 1816.1L717.1 1810.6L730.0 1816.1L721.1 1828.9L717.1 1831.8L702.3 1834.4L698.4 1828.9L702.3 1823.3ZM737.9 1816.1L746.8 1814.8L761.6 1814.8L776.5 1807.8L782.9 1816.1L776.5 1820.9L761.6 1818.0L755.3 1828.9L746.8 1837.2L739.2 1828.9ZM639.5 1828.9L643.0 1824.1L646.5 1828.9L643.0 1831.4ZM758.2 1867.1L761.6 1865.2L764.0 1867.1L761.6 1870.0ZM771.6 1879.8L776.5 1876.8L779.7 1879.8L776.5 1883.1ZM760.6 1892.5L761.6 1891.3L762.7 1892.5L761.6 1893.1Z"/>
<path stroke="#929292" d="M601.4 1243.0L613.3 1236.2L627.5 1243.0L613.3 1255.2ZM473.1 1268.5L479.8 1263.9L494.6 1266.2L509.5 1266.8L524.3 1259.1L539.1 1258.3L554.0 1265.7L568.8 1258.3L580.7 1268.5L583.6 1268.8L584.6 1268.5L598.5 1265.7L603.1 1268.5L607.4 1281.2L598.5 1283.3L586.1 1293.9L583.6 1296.5L576.0 1306.7L568.8 1316.3L565.5 1319.4L554.0 1327.1L546.2 1332.2L539.1 1337.2L524.3 1337.2L518.4 1332.2L509.6 1319.4L509.5 1319.3L509.0 1319.4L494.6 1325.1L480.3 1319.4L479.8 1318.9L467.9 1306.7L465.0 1301.6L461.1 1293.9L458.7 1281.2L465.0 1273.1ZM479.8 1276.1L476.2 1281.2L479.8 1284.3L488.7 1281.2ZM622.2 1281.2L628.1 1276.1L629.2 1281.2L628.1 1282.3ZM760.2 1281.2L761.6 1280.6L764.0 1281.2L761.6 1282.5ZM609.0 1293.9L613.3 1284.3L618.0 1293.9L613.3 1303.6ZM419.3 1306.7L420.5 1305.7L435.3 1304.4L450.1 1302.2L460.5 1306.7L450.1 1313.8L439.2 1319.4L435.3 1321.5L431.3 1319.4L420.5 1310.1ZM579.7 1319.4L583.6 1318.1L586.6 1319.4L583.6 1320.2ZM444.2 1332.2L450.1 1325.0L458.4 1332.2L450.1 1336.6ZM429.4 1344.9L435.3 1342.9L437.3 1344.9L435.3 1355.1L432.3 1357.6L420.5 1358.6L419.3 1357.6L420.5 1352.5ZM477.1 1344.9L479.8 1342.6L493.1 1344.9L479.8 1350.6ZM655.4 1434.0L657.8 1432.0L672.6 1430.6L675.0 1434.0L682.0 1446.8L672.6 1457.0L668.0 1459.5L672.6 1465.1L687.5 1461.0L696.2 1472.2L696.4 1485.0L687.5 1490.7L672.6 1496.2L660.8 1485.0L665.7 1472.2L657.8 1467.2L645.9 1472.2L643.0 1473.9L628.1 1475.6L613.3 1479.4L602.9 1472.2L613.3 1466.3L628.1 1462.1L643.0 1462.1L643.6 1459.5L651.1 1446.8ZM700.3 1446.8L702.3 1441.7L703.5 1446.8L702.3 1448.8ZM980.8 1485.0L984.1 1483.1L986.4 1485.0L984.1 1486.5ZM669.5 1510.5L672.6 1500.3L682.8 1510.5L672.6 1514.5ZM723.1 1510.5L732.0 1503.7L736.2 1510.5L732.0 1522.7L731.0 1523.2L717.1 1528.3L702.3 1525.7L699.3 1523.2L702.3 1521.2L717.1 1517.3ZM567.6 1548.7L568.8 1547.8L570.8 1548.7L568.8 1549.8ZM444.7 1561.4L450.1 1554.7L464.5 1561.4L465.0 1562.0L479.8 1569.0L485.7 1574.1L490.3 1586.9L494.6 1597.1L506.5 1586.9L509.5 1584.3L511.2 1586.9L518.4 1599.6L521.6 1612.3L524.3 1615.8L528.4 1612.3L537.6 1599.6L539.1 1598.5L547.2 1586.9L554.0 1578.2L565.2 1586.9L568.8 1590.0L583.6 1587.5L584.1 1586.9L598.5 1580.7L610.0 1574.1L613.3 1570.9L622.9 1561.4L628.1 1557.8L632.7 1561.4L642.5 1574.1L643.0 1574.4L657.8 1577.0L671.1 1586.9L672.6 1589.9L680.7 1599.6L687.5 1603.3L702.3 1606.5L715.2 1612.3L717.1 1620.0L732.0 1612.7L744.6 1625.1L746.1 1637.8L732.0 1647.5L724.9 1637.8L717.1 1627.1L704.7 1637.8L702.3 1641.2L687.5 1648.3L684.5 1650.6L687.1 1663.3L672.6 1671.3L659.8 1676.0L657.8 1677.2L655.4 1676.0L657.8 1665.8L658.1 1663.3L657.8 1663.0L646.9 1650.6L643.0 1646.8L637.7 1650.6L628.1 1658.8L613.3 1657.3L604.7 1663.3L598.5 1667.3L583.6 1674.3L574.7 1676.0L568.8 1677.0L554.0 1678.1L539.1 1678.1L524.3 1681.3L513.5 1676.0L509.5 1672.0L494.6 1671.6L479.8 1671.6L465.0 1671.3L456.4 1676.0L450.1 1679.1L446.1 1676.0L450.1 1668.0L453.1 1663.3L450.1 1659.8L435.8 1650.6L450.1 1642.3L453.1 1637.8L465.0 1626.2L467.2 1625.1L465.0 1622.5L454.8 1612.3L450.1 1605.3L444.8 1599.6L442.2 1586.9L448.6 1574.1ZM654.5 1561.4L657.8 1553.8L663.1 1561.4L657.8 1566.0ZM710.2 1574.1L717.1 1570.6L724.1 1574.1L717.1 1577.4ZM413.4 1586.9L420.5 1580.0L427.5 1586.9L420.5 1596.6ZM774.2 1586.9L776.5 1583.6L780.9 1586.9L783.1 1599.6L776.5 1603.4L774.0 1599.6ZM796.5 1586.9L806.1 1580.7L817.7 1586.9L819.5 1599.6L806.1 1605.3L799.5 1599.6ZM831.8 1586.9L835.8 1585.9L850.6 1584.8L853.6 1586.9L865.5 1597.1L880.3 1591.0L895.1 1593.5L904.0 1599.6L895.1 1609.8L892.9 1612.3L880.3 1618.5L867.7 1612.3L865.5 1607.3L850.6 1608.3L840.5 1599.6L835.8 1590.3ZM923.2 1586.9L924.8 1584.0L929.3 1586.9L924.8 1592.6ZM598.5 1595.1L591.7 1599.6L594.0 1612.3L598.5 1613.4L601.4 1612.3L606.4 1599.6ZM568.8 1610.4L565.2 1612.3L568.8 1613.1L573.2 1612.3ZM657.8 1606.8L646.8 1612.3L657.8 1616.8L672.6 1613.2L674.6 1612.3L672.6 1609.3ZM762.4 1625.1L776.5 1619.0L791.3 1612.7L798.5 1625.1L791.3 1629.4L776.5 1628.1ZM465.0 1648.0L459.7 1650.6L465.0 1654.0L472.9 1650.6ZM524.3 1658.8L517.4 1663.3L524.3 1668.6L539.1 1674.3L554.0 1673.5L556.9 1663.3L554.0 1659.2L539.1 1657.3ZM715.4 1663.3L717.1 1661.3L718.5 1663.3L717.1 1664.2ZM742.1 1663.3L746.8 1653.6L751.5 1663.3L746.8 1668.7ZM818.0 1663.3L821.0 1662.4L822.3 1663.3L821.0 1666.7ZM698.5 1676.0L702.3 1673.2L704.5 1676.0L702.3 1678.6ZM729.7 1676.0L732.0 1673.7L735.8 1676.0L732.0 1678.9ZM759.7 1676.0L761.6 1674.9L773.5 1676.0L761.6 1681.1ZM745.1 1688.8L746.8 1687.1L752.7 1688.8L761.6 1690.2L776.5 1694.6L790.6 1701.5L784.4 1714.2L791.3 1721.9L796.5 1727.0L791.3 1735.9L789.8 1739.7L776.5 1749.5L761.6 1745.5L754.4 1739.7L746.8 1730.5L742.2 1727.0L746.8 1723.0L756.0 1714.2L748.4 1701.5L746.8 1693.9ZM726.8 1701.5L732.0 1696.7L743.2 1701.5L732.0 1705.5ZM881.8 1701.5L895.1 1697.7L908.5 1701.5L895.1 1705.3Z"/>
<path stroke="#b6b6b6" d="M516.9 1268.5L524.3 1264.2L539.1 1268.5L554.0 1272.1L568.8 1271.5L583.6 1275.5L592.1 1281.2L583.6 1288.5L581.3 1293.9L570.9 1306.7L568.8 1309.5L558.4 1319.4L554.0 1322.4L539.1 1332.2L524.3 1329.2L513.6 1319.4L509.5 1315.4L497.1 1319.4L494.6 1320.4L492.2 1319.4L494.6 1306.7L481.1 1293.9L494.6 1284.8L506.5 1281.2L509.5 1278.7ZM509.5 1287.6L508.1 1293.9L509.5 1295.0L510.3 1293.9ZM653.8 1446.8L657.8 1438.7L672.6 1440.4L676.9 1446.8L672.6 1451.4L657.8 1459.5ZM677.6 1472.2L687.5 1467.2L691.4 1472.2L687.5 1479.5L681.1 1485.0L672.6 1490.1L667.2 1485.0L672.6 1476.5ZM449.2 1561.4L450.1 1560.2L452.6 1561.4L450.1 1563.9ZM624.4 1574.1L628.1 1569.9L630.6 1574.1L643.0 1580.5L657.8 1581.4L665.2 1586.9L667.7 1599.6L657.8 1601.7L643.0 1607.6L628.1 1599.6L613.3 1586.9ZM472.4 1586.9L479.8 1579.2L483.8 1586.9L479.8 1599.6ZM552.0 1586.9L554.0 1584.3L557.3 1586.9L554.0 1591.1ZM596.0 1586.9L598.5 1585.8L613.3 1586.9L598.5 1588.3ZM802.4 1586.9L806.1 1584.5L810.6 1586.9L806.1 1593.2ZM500.6 1599.6L509.5 1592.0L514.4 1599.6L515.6 1612.3L509.5 1625.1L524.3 1623.5L537.3 1612.3L539.1 1609.8L546.5 1612.3L554.0 1614.9L568.8 1616.2L583.6 1616.6L598.5 1617.8L613.3 1612.3L628.1 1614.9L635.5 1625.1L643.0 1632.4L649.6 1625.1L657.8 1620.8L672.6 1616.6L682.5 1612.3L687.5 1608.9L702.3 1610.1L707.2 1612.3L713.6 1625.1L702.3 1634.8L698.1 1637.8L687.5 1644.9L680.0 1650.6L679.2 1663.3L672.6 1666.9L666.0 1663.3L657.8 1656.2L652.9 1650.6L643.0 1641.3L631.8 1637.8L628.1 1635.3L623.2 1637.8L628.1 1644.2L629.8 1650.6L628.1 1652.0L613.3 1651.7L598.5 1660.7L594.8 1663.3L583.6 1667.5L568.8 1671.8L561.4 1663.3L554.0 1653.1L539.1 1651.7L524.3 1653.7L509.5 1663.3L494.6 1666.5L479.8 1666.5L465.0 1666.9L459.6 1663.3L465.0 1659.0L479.8 1655.6L494.6 1655.6L504.5 1650.6L494.6 1644.2L488.7 1637.8L479.8 1630.2L475.7 1637.8L465.0 1644.2L457.5 1637.8L465.0 1630.5L476.1 1625.1L479.8 1612.3L494.6 1615.5L497.1 1612.3ZM563.8 1599.6L568.8 1596.8L578.7 1599.6L568.8 1602.8ZM871.8 1599.6L880.3 1595.7L895.1 1599.6L884.0 1612.3L880.3 1614.2L876.6 1612.3ZM727.0 1625.1L732.0 1621.4L735.7 1625.1L732.0 1633.6ZM781.4 1625.1L791.3 1621.4L793.4 1625.1L791.3 1626.4ZM583.6 1633.6L580.7 1637.8L568.8 1650.6L583.6 1653.7L586.6 1650.6L598.5 1642.1L605.9 1637.8L598.5 1635.3ZM447.6 1650.6L450.1 1649.1L451.8 1650.6L450.1 1652.1ZM522.4 1676.0L524.3 1674.8L527.3 1676.0L524.3 1676.9ZM754.9 1701.5L761.6 1695.7L774.0 1701.5L761.6 1712.1ZM770.5 1727.0L776.5 1714.2L783.9 1727.0L783.9 1739.7L776.5 1745.2L761.6 1741.4L759.5 1739.7L761.6 1734.6Z"/>
<path stroke="#dbdbdb" d="M515.7 1281.2L524.3 1270.2L539.1 1278.7L554.0 1280.8L568.8 1275.1L582.3 1281.2L577.5 1293.9L568.8 1304.1L554.0 1299.8L550.8 1306.7L550.1 1319.4L539.1 1326.0L524.3 1325.6L517.5 1319.4L509.5 1311.6L501.1 1306.7L494.6 1300.6L487.6 1293.9L494.6 1289.2L501.6 1293.9L509.5 1300.1L514.5 1293.9ZM656.5 1446.8L657.8 1444.2L668.7 1446.8L657.8 1450.8ZM642.0 1586.9L643.0 1586.6L657.8 1585.8L659.3 1586.9L657.8 1590.7L644.0 1599.6L643.0 1599.9L642.4 1599.6ZM507.7 1599.6L509.5 1598.1L510.4 1599.6L509.7 1612.3L509.5 1612.9L509.0 1612.3ZM528.3 1625.1L539.1 1615.8L552.9 1625.1L539.1 1634.4ZM555.1 1625.1L568.8 1619.2L582.4 1625.1L573.5 1637.8L568.8 1642.9L562.9 1637.8ZM586.6 1625.1L598.5 1622.2L610.3 1625.1L598.5 1629.2ZM657.5 1625.1L657.8 1624.9L672.6 1620.0L683.3 1625.1L687.5 1629.5L691.2 1625.1L702.3 1614.6L709.5 1625.1L702.3 1631.2L693.0 1637.8L687.5 1641.5L675.6 1650.6L672.6 1660.7L660.8 1650.6L657.8 1649.7L645.0 1637.8ZM462.0 1637.8L465.0 1634.9L469.3 1637.8L465.0 1640.4ZM565.8 1663.3L568.8 1658.2L578.3 1663.3L568.8 1666.7ZM761.4 1701.5L761.6 1701.3L762.1 1701.5L761.6 1701.9M772.0 1739.7L776.5 1735.9L778.0 1739.7L776.5 1740.8Z"/>
</g>
<rect x="360.5" y="720.5" width="1440.0" height="1440.0" fill="none" stroke="#000" stroke-width="3"/>
<rect x="360.5" y="120.5" width="1440.0" height="480.0" fill="none" stroke="#000" stroke-width="3"/>
<rect x="1920.5" y="720.5" width="570.0" height="1440.0" fill="none" stroke="#000" stroke-width="3"/>
<rect x="2610.5" y="720.5" width="150.0" height="1440.0" fill="none" stroke="#000" stroke-width="3"/>
<path d="M360.5 720.5v33M360.5 2160.5v-33M683.3 720.5v33M683.3 2160.5v-33M1006.1 720.5v33M1006.1 2160.5v-33M1328.9 720.5v33M1328.9 2160.5v-33M1651.7 720.5v33M1651.7 2160.5v-33M441.2 720.5v17M441.2 2160.5v-17M521.9 720.5v17M521.9 2160.5v-17M602.6 720.5v17M602.6 2160.5v-17M764.0 720.5v17M764.0 2160.5v-17M844.7 720.5v17M844.7 2160.5v-17M925.4 720.5v17M925.4 2160.5v-17M1086.8 720.5v17M1086.8 2160.5v-17M1167.5 720.5v17M1167.5 2160.5v-17M1248.2 720.5v17M1248.2 2160.5v-17M1409.6 720.5v17M1409.6 2160.5v-17M1490.3 720.5v17M1490.3 2160.5v-17M1571.0 720.5v17M1571.0 2160.5v-17M1732.4 720.5v17M1732.4 2160.5v-17" stroke="#000" stroke-width="2" fill="none"/>
<path d="M360.5 120.5v33M360.5 600.5v-33M683.3 120.5v33M683.3 600.5v-33M1006.1 120.5v33M1006.1 600.5v-33M1328.9 120.5v33M1328.9 600.5v-33M1651.7 120.5v33M1651.7 600.5v-33M441.2 120.5v17M441.2 600.5v-17M521.9 120.5v17M521.9 600.5v-17M602.6 120.5v17M602.6 600.5v-17M764.0 120.5v17M764.0 600.5v-17M844.7 120.5v17M844.7 600.5v-17M925.4 120.5v17M925.4 600.5v-17M1086.8 120.5v17M1086.8 600.5v-17M1167.5 120.5v17M1167.5 600.5v-17M1248.2 120.5v17M1248.2 600.5v-17M1409.6 120.5v17M1409.6 600.5v-17M1490.3 120.5v17M1490.3 600.5v-17M1571.0 120.5v17M1571.0 600.5v-17M1732.4 120.5v17M1732.4 600.5v-17" stroke="#000" stroke-width="2" fill="none"/>
<path d="M360.5 2084.9h33M1800.5 2084.9h-33M360.5 1762.7h33M1800.5 1762.7h-33M360.5 1440.5h33M1800.5 1440.5h-33M360.5 1118.3h33M1800.5 1118.3h-33M360.5 796.1h33M1800.5 796.1h-33M360.5 2004.3h17M1800.5 2004.3h-17M360.5 1923.8h17M1800.5 1923.8h-17M360.5 1843.2h17M1800.5 1843.2h-17M360.5 1682.2h17M1800.5 1682.2h-17M360.5 1601.6h17M1800.5 1601.6h-17M360.5 1521.0h17M1800.5 1521.0h-17M360.5 1360.0h17M1800.5 1360.0h-17M360.5 1279.4h17M1800.5 1279.4h-17M360.5 1198.8h17M1800.5 1198.8h-17M360.5 1037.8h17M1800.5 1037.8h-17M360.5 957.2h17M1800.5 957.2h-17M360.5 876.6h17M1800.5 876.6h-17" stroke="#000" stroke-width="2" fill="none"/>
<path d="M1920.5 2084.9h33M2490.5 2084.9h-33M1920.5 1762.7h33M2490.5 1762.7h-33M1920.5 1440.5h33M2490.5 1440.5h-33M1920.5 1118.3h33M2490.5 1118.3h-33M1920.5 796.1h33M2490.5 796.1h-33M1920.5 2004.3h17M2490.5 2004.3h-17M1920.5 1923.8h17M2490.5 1923.8h-17M1920.5 1843.2h17M2490.5 1843.2h-17M1920.5 1682.2h17M2490.5 1682.2h-17M1920.5 1601.6h17M2490.5 1601.6h-17M1920.5 1521.0h17M2490.5 1521.0h-17M1920.5 1360.0h17M2490.5 1360.0h-17M1920.5 1279.4h17M2490.5 1279.4h-17M1920.5 1198.8h17M2490.5 1198.8h-17M1920.5 1037.8h17M2490.5 1037.8h-17M1920.5 957.2h17M2490.5 957.2h-17M1920.5 876.6h17M2490.5 876.6h-17" stroke="#000" stroke-width="2" fill="none"/>
<path d="M360.5 600.5h33M1800.5 600.5h-33M360.5 129.0h33M1800.5 129.0h-33M360.5 506.2h17M1800.5 506.2h-17M360.5 411.9h17M1800.5 411.9h-17M360.5 317.6h17M1800.5 317.6h-17M360.5 223.3h17M1800.5 223.3h-17" stroke="#000" stroke-width="2" fill="none"/>
<path d="M1920.5 720.5v33M1920.5 2160.5v-33M2432.9 720.5v33M2432.9 2160.5v-33M2023.0 720.5v17M2023.0 2160.5v-17M2125.5 720.5v17M2125.5 2160.5v-17M2227.9 720.5v17M2227.9 2160.5v-17M2330.4 720.5v17M2330.4 2160.5v-17" stroke="#000" stroke-width="2" fill="none"/>
<path d="M2760.5 2160.5h-33M2760.5 1872.5h-33M2760.5 1584.5h-33M2760.5 1296.5h-33M2760.5 1008.5h-33M2760.5 720.5h-33M2760.5 2088.5h-17M2760.5 2016.5h-17M2760.5 1944.5h-17M2760.5 1800.5h-17M2760.5 1728.5h-17M2760.5 1656.5h-17M2760.5 1512.5h-17M2760.5 1440.5h-17M2760.5 1368.5h-17M2760.5 1224.5h-17M2760.5 1152.5h-17M2760.5 1080.5h-17M2760.5 936.5h-17M2760.5 864.5h-17M2760.5 792.5h-17" stroke="#000" stroke-width="2" fill="none"/>
<text transform="translate(341.00 815.60) scale(0.6330 1)" font-size="84.80" text-anchor="end" stroke="#000" stroke-width="1.8" stroke-linejoin="round" vector-effect="non-scaling-stroke">400</text>
<text transform="translate(341.00 1137.80) scale(0.6330 1)" font-size="84.80" text-anchor="end" stroke="#000" stroke-width="1.8" stroke-linejoin="round" vector-effect="non-scaling-stroke">200</text>
<text transform="translate(341.00 1460.00) scale(0.6330 1)" font-size="84.80" text-anchor="end" stroke="#000" stroke-width="1.8" stroke-linejoin="round" vector-effect="non-scaling-stroke">0</text>
<text transform="translate(341.00 1782.20) scale(0.6330 1)" font-size="84.80" text-anchor="end" stroke="#000" stroke-width="1.8" stroke-linejoin="round" vector-effect="non-scaling-stroke">200</text>
<text transform="translate(249.80 1782.20) scale(0.9600 1)" font-size="84.80" text-anchor="end" stroke="#000" stroke-width="0.6" stroke-linejoin="round" vector-effect="non-scaling-stroke" font-weight="normal">−</text>
<text transform="translate(341.00 2104.40) scale(0.6330 1)" font-size="84.80" text-anchor="end" stroke="#000" stroke-width="1.8" stroke-linejoin="round" vector-effect="non-scaling-stroke">400</text>
<text transform="translate(249.80 2104.40) scale(0.9600 1)" font-size="84.80" text-anchor="end" stroke="#000" stroke-width="0.6" stroke-linejoin="round" vector-effect="non-scaling-stroke" font-weight="normal">−</text>
<text transform="translate(341.00 148.80) scale(0.6330 1)" font-size="84.80" text-anchor="end" stroke="#000" stroke-width="1.8" stroke-linejoin="round" vector-effect="non-scaling-stroke">500</text>
<text transform="translate(341.00 619.80) scale(0.6330 1)" font-size="84.80" text-anchor="end" stroke="#000" stroke-width="1.8" stroke-linejoin="round" vector-effect="non-scaling-stroke">0</text>
<text transform="translate(360.50 2236.30) scale(0.6330 1)" font-size="84.80" text-anchor="middle" stroke="#000" stroke-width="1.8" stroke-linejoin="round" vector-effect="non-scaling-stroke">0</text>
<text transform="translate(683.30 2236.30) scale(0.6330 1)" font-size="84.80" text-anchor="middle" stroke="#000" stroke-width="1.8" stroke-linejoin="round" vector-effect="non-scaling-stroke">2</text>
<text transform="translate(1006.10 2236.30) scale(0.6330 1)" font-size="84.80" text-anchor="middle" stroke="#000" stroke-width="1.8" stroke-linejoin="round" vector-effect="non-scaling-stroke">4</text>
<text transform="translate(1328.90 2236.30) scale(0.6330 1)" font-size="84.80" text-anchor="middle" stroke="#000" stroke-width="1.8" stroke-linejoin="round" vector-effect="non-scaling-stroke">6</text>
<text transform="translate(1651.70 2236.30) scale(0.6330 1)" font-size="84.80" text-anchor="middle" stroke="#000" stroke-width="1.8" stroke-linejoin="round" vector-effect="non-scaling-stroke">8</text>
<text transform="translate(1920.50 2236.30) scale(0.6330 1)" font-size="84.80" text-anchor="middle" stroke="#000" stroke-width="1.8" stroke-linejoin="round" vector-effect="non-scaling-stroke">0</text>
<text transform="translate(2432.90 2236.30) scale(0.6330 1)" font-size="84.80" text-anchor="middle" stroke="#000" stroke-width="1.8" stroke-linejoin="round" vector-effect="non-scaling-stroke">500</text>
<text transform="translate(2778.50 2179.80) scale(0.6330 1)" font-size="84.80" text-anchor="start" stroke="#000" stroke-width="1.8" stroke-linejoin="round" vector-effect="non-scaling-stroke">0.0</text>
<text transform="translate(2778.50 1891.80) scale(0.6330 1)" font-size="84.80" text-anchor="start" stroke="#000" stroke-width="1.8" stroke-linejoin="round" vector-effect="non-scaling-stroke">0.2</text>
<text transform="translate(2778.50 1603.80) scale(0.6330 1)" font-size="84.80" text-anchor="start" stroke="#000" stroke-width="1.8" stroke-linejoin="round" vector-effect="non-scaling-stroke">0.4</text>
<text transform="translate(2778.50 1315.80) scale(0.6330 1)" font-size="84.80" text-anchor="start" stroke="#000" stroke-width="1.8" stroke-linejoin="round" vector-effect="non-scaling-stroke">0.6</text>
<text transform="translate(2778.50 1027.80) scale(0.6330 1)" font-size="84.80" text-anchor="start" stroke="#000" stroke-width="1.8" stroke-linejoin="round" vector-effect="non-scaling-stroke">0.8</text>
<text transform="translate(2778.50 739.80) scale(0.6330 1)" font-size="84.80" text-anchor="start" stroke="#000" stroke-width="1.8" stroke-linejoin="round" vector-effect="non-scaling-stroke">1.0</text>
<text transform="translate(1080.50 2345.00) scale(0.6480 1)" font-size="105.20" text-anchor="middle" stroke="#000" stroke-width="1.3" stroke-linejoin="round" vector-effect="non-scaling-stroke">Lateral displacement (nm)</text>
<text transform="translate(2204.50 2345.00) scale(0.6200 1)" font-size="105.20" text-anchor="middle" stroke="#000" stroke-width="1.3" stroke-linejoin="round" vector-effect="non-scaling-stroke"># Counts</text>
<text transform="translate(162.20 1441.50) rotate(-90) scale(0.6400 1)" font-size="105.20" text-anchor="middle" stroke="#000" stroke-width="1.3" stroke-linejoin="round" vector-effect="non-scaling-stroke">Precession (degrees)</text>
<text transform="translate(211.00 361.00) rotate(-90) scale(0.6200 1)" font-size="105.20" text-anchor="middle" stroke="#000" stroke-width="1.3" stroke-linejoin="round" vector-effect="non-scaling-stroke"># Counts</text>
<text transform="translate(2930.50 1439.00) rotate(-90) scale(0.6380 1)" font-size="84.80" text-anchor="middle" stroke="#000" stroke-width="1.3" stroke-linejoin="round" vector-effect="non-scaling-stroke">Normalized Mean Time</text>
<text transform="translate(1917.50 280.90) scale(0.6120 1)" font-size="126.50" text-anchor="start" stroke="#000" stroke-width="1.3" stroke-linejoin="round" vector-effect="non-scaling-stroke">PepDF</text>
<text transform="translate(1920.00 432.20) scale(0.6420 1)" font-size="105.20" text-anchor="start" stroke="#000" stroke-width="1.3" stroke-linejoin="round" vector-effect="non-scaling-stroke">Time window: 50 ns</text>
</svg></body></html>
